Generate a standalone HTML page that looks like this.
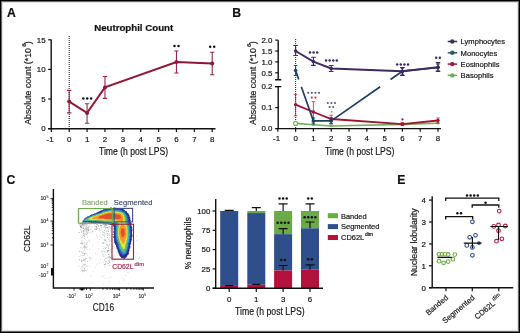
<!DOCTYPE html>
<html><head><meta charset="utf-8"><style>
html,body{margin:0;padding:0;background:#fff;}
svg{display:block;font-family:"Liberation Sans", sans-serif;will-change:transform;}
.t text,.tt{fill:#151515;stroke:#151515;stroke-width:0.18;}
</style></head><body>
<svg width="520" height="333" viewBox="0 0 520 333">
<defs><filter id="bl" x="-20%" y="-20%" width="140%" height="140%" color-interpolation-filters="sRGB"><feGaussianBlur stdDeviation="0.3"/></filter></defs>
<rect x="0" y="0" width="520" height="333" fill="#fff"/>
<text x="7.0" y="17" font-size="12.2" text-anchor="start" fill="#111" stroke="#111" stroke-width="0.2" font-weight="bold" >A</text>
<text x="94.2" y="31.3" font-size="9.7" text-anchor="start" fill="#111" stroke="#111" stroke-width="0.2" font-weight="bold" textLength="79" lengthAdjust="spacingAndGlyphs" >Neutrophil Count</text>
<path d="M51.2 39.6 V128.8 M48 128.8 H215.5" stroke="#111" stroke-width="1.4" fill="none"/>
<path d="M48.2 39.80 H51.2" stroke="#111" stroke-width="1.2"/>
<text x="45.6" y="42.65" font-size="7.9" text-anchor="end" fill="#151515" stroke="#151515" stroke-width="0.2" font-weight="normal" >15</text>
<path d="M48.2 69.40 H51.2" stroke="#111" stroke-width="1.2"/>
<text x="45.6" y="72.24999999999999" font-size="7.9" text-anchor="end" fill="#151515" stroke="#151515" stroke-width="0.2" font-weight="normal" >10</text>
<path d="M48.2 99.00 H51.2" stroke="#111" stroke-width="1.2"/>
<text x="45.6" y="101.85" font-size="7.9" text-anchor="end" fill="#151515" stroke="#151515" stroke-width="0.2" font-weight="normal" >5</text>
<path d="M48.2 128.60 H51.2" stroke="#111" stroke-width="1.2"/>
<text x="45.6" y="131.45" font-size="7.9" text-anchor="end" fill="#151515" stroke="#151515" stroke-width="0.2" font-weight="normal" >0</text>
<path d="M51.33 128.8 V132" stroke="#111" stroke-width="1.2"/>
<text x="50.125" y="141.6" font-size="7.9" text-anchor="middle" fill="#151515" stroke="#151515" stroke-width="0.2" font-weight="normal" >-1</text>
<path d="M69.20 128.8 V132" stroke="#111" stroke-width="1.2"/>
<text x="69.2" y="141.6" font-size="7.9" text-anchor="middle" fill="#151515" stroke="#151515" stroke-width="0.2" font-weight="normal" >0</text>
<path d="M87.08 128.8 V132" stroke="#111" stroke-width="1.2"/>
<text x="87.075" y="141.6" font-size="7.9" text-anchor="middle" fill="#151515" stroke="#151515" stroke-width="0.2" font-weight="normal" >1</text>
<path d="M104.95 128.8 V132" stroke="#111" stroke-width="1.2"/>
<text x="104.95" y="141.6" font-size="7.9" text-anchor="middle" fill="#151515" stroke="#151515" stroke-width="0.2" font-weight="normal" >2</text>
<path d="M122.83 128.8 V132" stroke="#111" stroke-width="1.2"/>
<text x="122.825" y="141.6" font-size="7.9" text-anchor="middle" fill="#151515" stroke="#151515" stroke-width="0.2" font-weight="normal" >3</text>
<path d="M140.70 128.8 V132" stroke="#111" stroke-width="1.2"/>
<text x="140.7" y="141.6" font-size="7.9" text-anchor="middle" fill="#151515" stroke="#151515" stroke-width="0.2" font-weight="normal" >4</text>
<path d="M158.57 128.8 V132" stroke="#111" stroke-width="1.2"/>
<text x="158.575" y="141.6" font-size="7.9" text-anchor="middle" fill="#151515" stroke="#151515" stroke-width="0.2" font-weight="normal" >5</text>
<path d="M176.45 128.8 V132" stroke="#111" stroke-width="1.2"/>
<text x="176.45" y="141.6" font-size="7.9" text-anchor="middle" fill="#151515" stroke="#151515" stroke-width="0.2" font-weight="normal" >6</text>
<path d="M194.32 128.8 V132" stroke="#111" stroke-width="1.2"/>
<text x="194.325" y="141.6" font-size="7.9" text-anchor="middle" fill="#151515" stroke="#151515" stroke-width="0.2" font-weight="normal" >7</text>
<path d="M212.20 128.8 V132" stroke="#111" stroke-width="1.2"/>
<text x="212.2" y="141.6" font-size="7.9" text-anchor="middle" fill="#151515" stroke="#151515" stroke-width="0.2" font-weight="normal" >8</text>
<text x="99" y="155.2" font-size="10.2" text-anchor="start" fill="#151515" stroke="#151515" stroke-width="0.18" font-weight="normal" textLength="69" lengthAdjust="spacingAndGlyphs" >Time (h post LPS)</text>
<g class="t"><text transform="translate(30.8 124.8) rotate(-90)" font-size="9.3" textLength="76.8" lengthAdjust="spacingAndGlyphs">Absolute count (*10</text>
<text transform="translate(26.1 46.8) rotate(-90)" font-size="6.2">6</text>
<text transform="translate(30.8 44.2) rotate(-90)" font-size="9.3">)</text></g>
<path d="M69.2 36 V128" stroke="#222" stroke-width="1.1" stroke-dasharray="1 1"/>
<polyline points="69.20,101.60 87.08,112.91 104.95,87.40 176.45,62.00 212.20,63.48" fill="none" stroke="#8e1838" stroke-width="1.9"/>
<path d="M69.20 90.36 V112.85 M67.00 90.36 H71.40 M67.00 112.85 H71.40" stroke="#98284a" stroke-width="1.1"/>
<circle cx="69.20" cy="101.60" r="2.0" fill="#8e1838"/>
<path d="M87.08 103.74 V123.27 M84.88 103.74 H89.28 M84.88 123.27 H89.28" stroke="#98284a" stroke-width="1.1"/>
<circle cx="87.08" cy="112.91" r="2.0" fill="#8e1838"/>
<path d="M104.95 76.44 V98.35 M102.75 76.44 H107.15 M102.75 98.35 H107.15" stroke="#98284a" stroke-width="1.1"/>
<circle cx="104.95" cy="87.40" r="2.0" fill="#8e1838"/>
<path d="M176.45 51.05 V72.95 M174.25 51.05 H178.65 M174.25 72.95 H178.65" stroke="#98284a" stroke-width="1.1"/>
<circle cx="176.45" cy="62.00" r="2.0" fill="#8e1838"/>
<path d="M212.20 52.23 V74.73 M210.00 52.23 H214.40 M210.00 74.73 H214.40" stroke="#98284a" stroke-width="1.1"/>
<circle cx="212.20" cy="63.48" r="2.0" fill="#8e1838"/>
<circle cx="83.30" cy="98.40" r="1.25" fill="#111"/><circle cx="87.20" cy="98.40" r="1.25" fill="#111"/><circle cx="91.10" cy="98.40" r="1.25" fill="#111"/>
<circle cx="174.50" cy="45.90" r="1.25" fill="#111"/><circle cx="178.50" cy="45.90" r="1.25" fill="#111"/>
<circle cx="210.20" cy="46.80" r="1.25" fill="#111"/><circle cx="214.20" cy="46.80" r="1.25" fill="#111"/>
<text x="232.2" y="17.3" font-size="12.2" text-anchor="start" fill="#111" stroke="#111" stroke-width="0.2" font-weight="bold" >B</text>
<path d="M278.2 40.2 V79.7 M275 79.7 H281.3 M275 86.6 H281.3 M278.2 86.6 V128.6 M275.5 128.6 H441" stroke="#111" stroke-width="1.4" fill="none"/>
<path d="M275.2 40.10 H278.2" stroke="#111" stroke-width="1.2"/>
<text x="272.4" y="42.95" font-size="7.9" text-anchor="end" fill="#151515" stroke="#151515" stroke-width="0.2" font-weight="normal" >2.0</text>
<path d="M275.2 51.00 H278.2" stroke="#111" stroke-width="1.2"/>
<text x="272.4" y="53.85" font-size="7.9" text-anchor="end" fill="#151515" stroke="#151515" stroke-width="0.2" font-weight="normal" >1.5</text>
<path d="M275.2 61.90 H278.2" stroke="#111" stroke-width="1.2"/>
<text x="272.4" y="64.75" font-size="7.9" text-anchor="end" fill="#151515" stroke="#151515" stroke-width="0.2" font-weight="normal" >1.0</text>
<path d="M275.2 72.80 H278.2" stroke="#111" stroke-width="1.2"/>
<text x="272.4" y="75.64999999999999" font-size="7.9" text-anchor="end" fill="#151515" stroke="#151515" stroke-width="0.2" font-weight="normal" >0.5</text>
<path d="M275.2 86.60 H278.2" stroke="#111" stroke-width="1.2"/>
<text x="272.4" y="89.44999999999999" font-size="7.9" text-anchor="end" fill="#151515" stroke="#151515" stroke-width="0.2" font-weight="normal" >0.2</text>
<path d="M275.2 107.60 H278.2" stroke="#111" stroke-width="1.2"/>
<text x="272.4" y="110.44999999999999" font-size="7.9" text-anchor="end" fill="#151515" stroke="#151515" stroke-width="0.2" font-weight="normal" >0.1</text>
<path d="M275.2 128.60 H278.2" stroke="#111" stroke-width="1.2"/>
<text x="272.4" y="131.45" font-size="7.9" text-anchor="end" fill="#151515" stroke="#151515" stroke-width="0.2" font-weight="normal" >0.0</text>
<path d="M277.80 128.6 V131.8" stroke="#111" stroke-width="1.2"/>
<text x="276.6" y="141.4" font-size="7.9" text-anchor="middle" fill="#151515" stroke="#151515" stroke-width="0.2" font-weight="normal" >-1</text>
<path d="M295.60 128.6 V131.8" stroke="#111" stroke-width="1.2"/>
<text x="295.6" y="141.4" font-size="7.9" text-anchor="middle" fill="#151515" stroke="#151515" stroke-width="0.2" font-weight="normal" >0</text>
<path d="M313.40 128.6 V131.8" stroke="#111" stroke-width="1.2"/>
<text x="313.40000000000003" y="141.4" font-size="7.9" text-anchor="middle" fill="#151515" stroke="#151515" stroke-width="0.2" font-weight="normal" >1</text>
<path d="M331.20 128.6 V131.8" stroke="#111" stroke-width="1.2"/>
<text x="331.20000000000005" y="141.4" font-size="7.9" text-anchor="middle" fill="#151515" stroke="#151515" stroke-width="0.2" font-weight="normal" >2</text>
<path d="M349.00 128.6 V131.8" stroke="#111" stroke-width="1.2"/>
<text x="349.0" y="141.4" font-size="7.9" text-anchor="middle" fill="#151515" stroke="#151515" stroke-width="0.2" font-weight="normal" >3</text>
<path d="M366.80 128.6 V131.8" stroke="#111" stroke-width="1.2"/>
<text x="366.8" y="141.4" font-size="7.9" text-anchor="middle" fill="#151515" stroke="#151515" stroke-width="0.2" font-weight="normal" >4</text>
<path d="M384.60 128.6 V131.8" stroke="#111" stroke-width="1.2"/>
<text x="384.6" y="141.4" font-size="7.9" text-anchor="middle" fill="#151515" stroke="#151515" stroke-width="0.2" font-weight="normal" >5</text>
<path d="M402.40 128.6 V131.8" stroke="#111" stroke-width="1.2"/>
<text x="402.40000000000003" y="141.4" font-size="7.9" text-anchor="middle" fill="#151515" stroke="#151515" stroke-width="0.2" font-weight="normal" >6</text>
<path d="M420.20 128.6 V131.8" stroke="#111" stroke-width="1.2"/>
<text x="420.20000000000005" y="141.4" font-size="7.9" text-anchor="middle" fill="#151515" stroke="#151515" stroke-width="0.2" font-weight="normal" >7</text>
<path d="M438.00 128.6 V131.8" stroke="#111" stroke-width="1.2"/>
<text x="438.0" y="141.4" font-size="7.9" text-anchor="middle" fill="#151515" stroke="#151515" stroke-width="0.2" font-weight="normal" >8</text>
<text x="325" y="154.6" font-size="10.2" text-anchor="start" fill="#151515" stroke="#151515" stroke-width="0.18" font-weight="normal" textLength="69.5" lengthAdjust="spacingAndGlyphs" >Time (h post LPS)</text>
<g class="t"><text transform="translate(255.5 124.9) rotate(-90)" font-size="9.3" textLength="76.8" lengthAdjust="spacingAndGlyphs">Absolute count (*10</text>
<text transform="translate(250.8 46.9) rotate(-90)" font-size="6.2">6</text>
<text transform="translate(255.5 44.3) rotate(-90)" font-size="9.3">)</text></g>
<path d="M295.6 39 V128" stroke="#333" stroke-width="1.1" stroke-dasharray="1 1"/>
<polyline points="295.60,123.4 313.40,124.8 331.20,126 402.40,124.4 438.00,123.2" fill="none" stroke="#72b25a" stroke-width="1.6"/>
<circle cx="295.60" cy="123.4" r="2.0" fill="#fff" stroke="#72b25a" stroke-width="1.1"/>
<circle cx="313.40" cy="124.8" r="1.3" fill="#72b25a"/>
<circle cx="331.20" cy="126" r="1.3" fill="#72b25a"/>
<circle cx="402.40" cy="124.4" r="1.3" fill="#72b25a"/>
<circle cx="438.00" cy="123.2" r="1.3" fill="#72b25a"/>
<polyline points="295.60,104.7 313.40,112 331.20,119.0 402.40,124.2 438.00,120.5" fill="none" stroke="#9e1538" stroke-width="1.8"/>
<path d="M295.60 94.3 V115.8 M293.80 94.3 H297.40 M293.80 115.8 H297.40" stroke="#9e1538" stroke-width="0.9" opacity="0.8"/>
<circle cx="295.60" cy="104.7" r="1.7" fill="#9e1538"/>
<path d="M313.40 101.6 V122 M311.60 101.6 H315.20 M311.60 122 H315.20" stroke="#9e1538" stroke-width="0.9" opacity="0.8"/>
<circle cx="313.40" cy="112" r="1.7" fill="#9e1538"/>
<path d="M331.20 115.2 V123.5 M329.40 115.2 H333.00 M329.40 123.5 H333.00" stroke="#9e1538" stroke-width="0.9" opacity="0.8"/>
<circle cx="331.20" cy="119.0" r="1.7" fill="#9e1538"/>
<path d="M402.40 122.5 V125.5 M400.60 122.5 H404.20 M400.60 125.5 H404.20" stroke="#9e1538" stroke-width="0.9" opacity="0.8"/>
<circle cx="402.40" cy="124.2" r="1.7" fill="#9e1538"/>
<path d="M438.00 118 V123 M436.20 118 H439.80 M436.20 123 H439.80" stroke="#9e1538" stroke-width="0.9" opacity="0.8"/>
<circle cx="438.00" cy="120.5" r="1.7" fill="#9e1538"/>
<path d="M295.60 70.5 L298.78 79.5 M301.32 86.7 L313.40 120.9 M313.40 120.9 L331.20 120.9 M331.20 120.9 L380.19 86.7 M390.51 79.5 L402.40 71.2 M402.40 71.2 L438.00 67.5" fill="none" stroke="#233f62" stroke-width="1.7"/>
<path d="M295.60 65.5 V75.5 M293.80 65.5 H297.40 M293.80 75.5 H297.40" stroke="#233f62" stroke-width="1"/>
<circle cx="295.60" cy="70.5" r="1.8" fill="#233f62"/>
<path d="M313.40 117.9 V123.9 M311.60 117.9 H315.20 M311.60 123.9 H315.20" stroke="#233f62" stroke-width="1"/>
<circle cx="313.40" cy="120.9" r="1.8" fill="#233f62"/>
<path d="M331.20 117.9 V123.9 M329.40 117.9 H333.00 M329.40 123.9 H333.00" stroke="#233f62" stroke-width="1"/>
<circle cx="331.20" cy="120.9" r="1.8" fill="#233f62"/>
<path d="M402.40 68.2 V74.2 M400.60 68.2 H404.20 M400.60 74.2 H404.20" stroke="#233f62" stroke-width="1"/>
<circle cx="402.40" cy="71.2" r="1.8" fill="#233f62"/>
<path d="M438.00 64.0 V71.0 M436.20 64.0 H439.80 M436.20 71.0 H439.80" stroke="#233f62" stroke-width="1"/>
<circle cx="438.00" cy="67.5" r="1.8" fill="#233f62"/>
<polyline points="295.60,51 313.40,61.6 331.20,68.5 402.40,71.2 438.00,67.3" fill="none" stroke="#3f2a5e" stroke-width="1.9"/>
<path d="M295.60 45.5 V55.5 M293.30 45.5 H297.90 M293.30 55.5 H297.90" stroke="#3f2a5e" stroke-width="1.1"/>
<circle cx="295.60" cy="51" r="1.8" fill="#3f2a5e"/>
<path d="M313.40 57.3 V65.4 M311.10 57.3 H315.70 M311.10 65.4 H315.70" stroke="#3f2a5e" stroke-width="1.1"/>
<circle cx="313.40" cy="61.6" r="1.8" fill="#3f2a5e"/>
<path d="M331.20 65.5 V71.5 M328.90 65.5 H333.50 M328.90 71.5 H333.50" stroke="#3f2a5e" stroke-width="1.1"/>
<circle cx="331.20" cy="68.5" r="1.8" fill="#3f2a5e"/>
<path d="M402.40 67.5 V75.5 M400.10 67.5 H404.70 M400.10 75.5 H404.70" stroke="#3f2a5e" stroke-width="1.1"/>
<circle cx="402.40" cy="71.2" r="1.8" fill="#3f2a5e"/>
<path d="M438.00 62.6 V71.4 M435.70 62.6 H440.30 M435.70 71.4 H440.30" stroke="#3f2a5e" stroke-width="1.1"/>
<circle cx="438.00" cy="67.3" r="1.8" fill="#3f2a5e"/>
<circle cx="310.00" cy="52.40" r="1.25" fill="#3f2a5e"/><circle cx="313.60" cy="52.40" r="1.25" fill="#3f2a5e"/><circle cx="317.20" cy="52.40" r="1.25" fill="#3f2a5e"/>
<circle cx="326.00" cy="60.40" r="1.25" fill="#3f2a5e"/><circle cx="329.60" cy="60.40" r="1.25" fill="#3f2a5e"/><circle cx="333.20" cy="60.40" r="1.25" fill="#3f2a5e"/><circle cx="336.80" cy="60.40" r="1.25" fill="#3f2a5e"/>
<circle cx="397.20" cy="64.40" r="1.25" fill="#3f2a5e"/><circle cx="400.80" cy="64.40" r="1.25" fill="#3f2a5e"/><circle cx="404.40" cy="64.40" r="1.25" fill="#3f2a5e"/><circle cx="408.00" cy="64.40" r="1.25" fill="#3f2a5e"/>
<circle cx="436.20" cy="57.70" r="1.25" fill="#3f2a5e"/><circle cx="439.80" cy="57.70" r="1.25" fill="#3f2a5e"/>
<circle cx="308.20" cy="92.80" r="1.1" fill="#4f6385"/><circle cx="311.80" cy="92.80" r="1.1" fill="#4f6385"/><circle cx="315.40" cy="92.80" r="1.1" fill="#4f6385"/><circle cx="319.00" cy="92.80" r="1.1" fill="#4f6385"/>
<circle cx="311.80" cy="97.60" r="1.1" fill="#b83a5a"/><circle cx="315.40" cy="97.60" r="1.1" fill="#b83a5a"/>
<circle cx="327.80" cy="103.00" r="1.1" fill="#4f6385"/><circle cx="331.40" cy="103.00" r="1.1" fill="#4f6385"/><circle cx="335.00" cy="103.00" r="1.1" fill="#4f6385"/>
<circle cx="329.60" cy="107.00" r="1.1" fill="#4f6385"/><circle cx="333.20" cy="107.00" r="1.1" fill="#4f6385"/>
<circle cx="331.60" cy="111.80" r="1.0" fill="#8aa080"/>
<circle cx="402.50" cy="119.40" r="1.05" fill="#9e1538"/>
<path d="M447.7 41.50 H457.2" stroke="#3d2f4f" stroke-width="1.5"/><circle cx="452.3" cy="41.50" r="2.2" fill="#3d2f4f"/>
<text x="460.6" y="44.3" font-size="7.6" text-anchor="start" fill="#151515" stroke="#151515" stroke-width="0.2" font-weight="normal" >Lymphocytes</text>
<path d="M447.7 52.80 H457.2" stroke="#2d5a6c" stroke-width="1.5"/><circle cx="452.3" cy="52.80" r="2.2" fill="#2d5a6c"/>
<text x="460.6" y="55.599999999999994" font-size="7.6" text-anchor="start" fill="#151515" stroke="#151515" stroke-width="0.2" font-weight="normal" >Monocytes</text>
<path d="M447.7 64.10 H457.2" stroke="#9a1a3a" stroke-width="1.5"/><circle cx="452.3" cy="64.10" r="2.2" fill="#9a1a3a"/>
<text x="460.6" y="66.89999999999999" font-size="7.6" text-anchor="start" fill="#151515" stroke="#151515" stroke-width="0.2" font-weight="normal" >Eosinophils</text>
<path d="M447.7 75.40 H457.2" stroke="#6aaa58" stroke-width="1.5"/><circle cx="452.3" cy="75.40" r="2.2" fill="#6aaa58"/>
<text x="460.6" y="78.2" font-size="7.6" text-anchor="start" fill="#151515" stroke="#151515" stroke-width="0.2" font-weight="normal" >Basophils</text>
<text x="6.6" y="183.9" font-size="12.2" text-anchor="start" fill="#111" stroke="#111" stroke-width="0.2" font-weight="bold" >C</text>
<circle cx="85.9" cy="225.6" r="0.42" fill="#222" opacity="0.5"/>
<circle cx="86.6" cy="240.3" r="0.42" fill="#222" opacity="0.4"/>
<circle cx="96.7" cy="227.7" r="0.42" fill="#222" opacity="0.5"/>
<circle cx="83.0" cy="223.7" r="0.42" fill="#222" opacity="0.5"/>
<circle cx="84.5" cy="233.2" r="0.42" fill="#222" opacity="0.4"/>
<circle cx="105.5" cy="263.7" r="0.42" fill="#222" opacity="0.4"/>
<circle cx="79.2" cy="224.3" r="0.42" fill="#222" opacity="0.5"/>
<circle cx="112.3" cy="234.7" r="0.42" fill="#222" opacity="0.4"/>
<circle cx="83.9" cy="225.8" r="0.42" fill="#222" opacity="0.5"/>
<circle cx="99.2" cy="231.1" r="0.42" fill="#222" opacity="0.5"/>
<circle cx="104.2" cy="224.8" r="0.42" fill="#222" opacity="0.5"/>
<circle cx="86.8" cy="227.0" r="0.42" fill="#222" opacity="0.5"/>
<circle cx="104.5" cy="247.8" r="0.42" fill="#222" opacity="0.4"/>
<circle cx="84.8" cy="237.0" r="0.42" fill="#222" opacity="0.4"/>
<circle cx="106.2" cy="247.3" r="0.42" fill="#222" opacity="0.4"/>
<circle cx="82.4" cy="265.8" r="0.42" fill="#222" opacity="0.4"/>
<circle cx="104.9" cy="227.2" r="0.42" fill="#222" opacity="0.5"/>
<circle cx="90.0" cy="259.9" r="0.42" fill="#222" opacity="0.4"/>
<circle cx="96.1" cy="229.7" r="0.42" fill="#222" opacity="0.5"/>
<circle cx="108.2" cy="247.2" r="0.42" fill="#222" opacity="0.4"/>
<circle cx="105.1" cy="248.2" r="0.42" fill="#222" opacity="0.4"/>
<circle cx="87.1" cy="244.8" r="0.42" fill="#222" opacity="0.4"/>
<circle cx="110.4" cy="251.2" r="0.42" fill="#222" opacity="0.4"/>
<circle cx="103.1" cy="224.4" r="0.42" fill="#222" opacity="0.5"/>
<circle cx="112.9" cy="234.5" r="0.42" fill="#222" opacity="0.4"/>
<circle cx="83.8" cy="255.4" r="0.42" fill="#222" opacity="0.4"/>
<circle cx="95.2" cy="223.7" r="0.42" fill="#222" opacity="0.5"/>
<circle cx="105.4" cy="224.7" r="0.42" fill="#222" opacity="0.5"/>
<circle cx="88.2" cy="230.3" r="0.42" fill="#222" opacity="0.5"/>
<circle cx="94.8" cy="228.9" r="0.42" fill="#222" opacity="0.5"/>
<circle cx="87.0" cy="265.2" r="0.42" fill="#222" opacity="0.4"/>
<circle cx="81.3" cy="242.8" r="0.42" fill="#222" opacity="0.4"/>
<circle cx="88.1" cy="229.5" r="0.42" fill="#222" opacity="0.5"/>
<circle cx="87.7" cy="230.9" r="0.42" fill="#222" opacity="0.5"/>
<circle cx="81.1" cy="235.1" r="0.42" fill="#222" opacity="0.4"/>
<circle cx="93.8" cy="223.1" r="0.42" fill="#222" opacity="0.5"/>
<circle cx="79.0" cy="256.5" r="0.42" fill="#222" opacity="0.4"/>
<circle cx="81.8" cy="252.9" r="0.42" fill="#222" opacity="0.4"/>
<circle cx="113.5" cy="256.3" r="0.42" fill="#222" opacity="0.4"/>
<circle cx="109.3" cy="257.1" r="0.42" fill="#222" opacity="0.4"/>
<circle cx="83.2" cy="253.7" r="0.42" fill="#222" opacity="0.4"/>
<circle cx="82.2" cy="223.9" r="0.42" fill="#222" opacity="0.5"/>
<circle cx="85.4" cy="223.4" r="0.42" fill="#222" opacity="0.5"/>
<circle cx="85.0" cy="223.9" r="0.42" fill="#222" opacity="0.5"/>
<circle cx="92.0" cy="232.6" r="0.42" fill="#222" opacity="0.4"/>
<circle cx="108.0" cy="228.5" r="0.42" fill="#222" opacity="0.5"/>
<circle cx="82.8" cy="228.1" r="0.42" fill="#222" opacity="0.5"/>
<circle cx="109.5" cy="265.7" r="0.42" fill="#222" opacity="0.4"/>
<circle cx="83.1" cy="227.1" r="0.42" fill="#222" opacity="0.5"/>
<circle cx="84.1" cy="235.2" r="0.42" fill="#222" opacity="0.4"/>
<circle cx="107.4" cy="263.8" r="0.42" fill="#222" opacity="0.4"/>
<circle cx="84.4" cy="229.3" r="0.42" fill="#222" opacity="0.5"/>
<circle cx="86.7" cy="270.9" r="0.42" fill="#222" opacity="0.4"/>
<circle cx="107.7" cy="252.6" r="0.42" fill="#222" opacity="0.4"/>
<circle cx="83.1" cy="260.6" r="0.42" fill="#222" opacity="0.4"/>
<circle cx="85.0" cy="261.0" r="0.42" fill="#222" opacity="0.4"/>
<circle cx="84.7" cy="271.2" r="0.42" fill="#222" opacity="0.4"/>
<circle cx="112.8" cy="257.5" r="0.42" fill="#222" opacity="0.4"/>
<circle cx="106.9" cy="244.8" r="0.42" fill="#222" opacity="0.4"/>
<circle cx="82.4" cy="223.4" r="0.42" fill="#222" opacity="0.5"/>
<circle cx="89.2" cy="222.9" r="0.42" fill="#222" opacity="0.5"/>
<circle cx="109.6" cy="281.9" r="0.42" fill="#222" opacity="0.4"/>
<circle cx="137.5" cy="253.2" r="0.42" fill="#222" opacity="0.4"/>
<circle cx="87.4" cy="233.3" r="0.42" fill="#222" opacity="0.4"/>
<circle cx="86.7" cy="230.1" r="0.42" fill="#222" opacity="0.5"/>
<circle cx="102.2" cy="243.1" r="0.42" fill="#222" opacity="0.4"/>
<circle cx="107.4" cy="251.1" r="0.42" fill="#222" opacity="0.4"/>
<circle cx="128.0" cy="272.5" r="0.42" fill="#222" opacity="0.4"/>
<circle cx="83.1" cy="230.9" r="0.42" fill="#222" opacity="0.5"/>
<circle cx="104.2" cy="264.8" r="0.42" fill="#222" opacity="0.4"/>
<circle cx="87.4" cy="242.1" r="0.42" fill="#222" opacity="0.4"/>
<circle cx="124.9" cy="243.5" r="0.42" fill="#222" opacity="0.4"/>
<circle cx="85.0" cy="230.0" r="0.42" fill="#222" opacity="0.5"/>
<circle cx="107.3" cy="227.6" r="0.42" fill="#222" opacity="0.5"/>
<circle cx="121.1" cy="252.5" r="0.42" fill="#222" opacity="0.4"/>
<circle cx="84.3" cy="270.5" r="0.42" fill="#222" opacity="0.4"/>
<circle cx="107.4" cy="245.2" r="0.42" fill="#222" opacity="0.4"/>
<circle cx="108.9" cy="278.6" r="0.42" fill="#222" opacity="0.4"/>
<circle cx="107.6" cy="234.9" r="0.42" fill="#222" opacity="0.4"/>
<circle cx="85.6" cy="251.3" r="0.42" fill="#222" opacity="0.4"/>
<circle cx="83.0" cy="267.5" r="0.42" fill="#222" opacity="0.4"/>
<circle cx="84.6" cy="244.9" r="0.42" fill="#222" opacity="0.4"/>
<circle cx="109.8" cy="262.4" r="0.42" fill="#222" opacity="0.4"/>
<circle cx="82.7" cy="248.6" r="0.42" fill="#222" opacity="0.4"/>
<circle cx="86.4" cy="231.2" r="0.42" fill="#222" opacity="0.5"/>
<circle cx="106.4" cy="223.1" r="0.42" fill="#222" opacity="0.5"/>
<circle cx="95.6" cy="223.5" r="0.42" fill="#222" opacity="0.5"/>
<circle cx="81.2" cy="247.9" r="0.42" fill="#222" opacity="0.4"/>
<circle cx="84.2" cy="250.0" r="0.42" fill="#222" opacity="0.4"/>
<circle cx="83.0" cy="235.8" r="0.42" fill="#222" opacity="0.4"/>
<circle cx="102.9" cy="255.4" r="0.42" fill="#222" opacity="0.4"/>
<circle cx="109.4" cy="265.6" r="0.42" fill="#222" opacity="0.4"/>
<circle cx="83.9" cy="247.6" r="0.42" fill="#222" opacity="0.4"/>
<circle cx="103.2" cy="243.0" r="0.42" fill="#222" opacity="0.4"/>
<circle cx="123.5" cy="278.8" r="0.42" fill="#222" opacity="0.4"/>
<circle cx="99.3" cy="263.0" r="0.42" fill="#222" opacity="0.4"/>
<circle cx="131.2" cy="241.9" r="0.42" fill="#222" opacity="0.4"/>
<circle cx="94.6" cy="224.3" r="0.42" fill="#222" opacity="0.5"/>
<circle cx="87.9" cy="229.2" r="0.42" fill="#222" opacity="0.5"/>
<circle cx="109.1" cy="261.5" r="0.42" fill="#222" opacity="0.4"/>
<circle cx="103.6" cy="224.0" r="0.42" fill="#222" opacity="0.5"/>
<circle cx="105.5" cy="264.6" r="0.42" fill="#222" opacity="0.4"/>
<circle cx="111.4" cy="227.1" r="0.42" fill="#222" opacity="0.5"/>
<circle cx="130.8" cy="243.1" r="0.42" fill="#222" opacity="0.4"/>
<circle cx="85.5" cy="247.8" r="0.42" fill="#222" opacity="0.4"/>
<circle cx="84.6" cy="258.1" r="0.42" fill="#222" opacity="0.4"/>
<circle cx="98.3" cy="226.6" r="0.42" fill="#222" opacity="0.5"/>
<circle cx="86.0" cy="253.2" r="0.42" fill="#222" opacity="0.4"/>
<circle cx="84.2" cy="225.2" r="0.42" fill="#222" opacity="0.5"/>
<circle cx="128.4" cy="283.6" r="0.42" fill="#222" opacity="0.4"/>
<circle cx="88.8" cy="230.9" r="0.42" fill="#222" opacity="0.5"/>
<circle cx="84.9" cy="228.5" r="0.42" fill="#222" opacity="0.5"/>
<circle cx="87.5" cy="234.9" r="0.42" fill="#222" opacity="0.4"/>
<circle cx="110.3" cy="227.4" r="0.42" fill="#222" opacity="0.5"/>
<circle cx="83.7" cy="224.9" r="0.42" fill="#222" opacity="0.5"/>
<circle cx="105.7" cy="240.7" r="0.42" fill="#222" opacity="0.4"/>
<circle cx="111.0" cy="228.5" r="0.42" fill="#222" opacity="0.5"/>
<circle cx="108.3" cy="229.2" r="0.42" fill="#222" opacity="0.5"/>
<circle cx="108.5" cy="226.9" r="0.42" fill="#222" opacity="0.5"/>
<circle cx="84.6" cy="268.3" r="0.42" fill="#222" opacity="0.4"/>
<circle cx="85.9" cy="233.9" r="0.42" fill="#222" opacity="0.4"/>
<circle cx="85.3" cy="226.9" r="0.42" fill="#222" opacity="0.5"/>
<circle cx="86.7" cy="224.1" r="0.42" fill="#222" opacity="0.5"/>
<circle cx="109.5" cy="234.8" r="0.42" fill="#222" opacity="0.4"/>
<circle cx="84.9" cy="222.9" r="0.42" fill="#222" opacity="0.5"/>
<circle cx="85.8" cy="222.8" r="0.42" fill="#222" opacity="0.5"/>
<circle cx="105.0" cy="242.9" r="0.42" fill="#222" opacity="0.4"/>
<circle cx="90.8" cy="275.9" r="0.42" fill="#222" opacity="0.4"/>
<circle cx="83.6" cy="246.8" r="0.42" fill="#222" opacity="0.4"/>
<circle cx="104.0" cy="252.3" r="0.42" fill="#222" opacity="0.4"/>
<circle cx="103.8" cy="276.6" r="0.42" fill="#222" opacity="0.4"/>
<circle cx="109.4" cy="250.0" r="0.42" fill="#222" opacity="0.4"/>
<circle cx="83.6" cy="228.5" r="0.42" fill="#222" opacity="0.5"/>
<circle cx="104.4" cy="223.9" r="0.42" fill="#222" opacity="0.5"/>
<circle cx="84.5" cy="264.1" r="0.42" fill="#222" opacity="0.4"/>
<circle cx="108.1" cy="251.5" r="0.42" fill="#222" opacity="0.4"/>
<circle cx="84.1" cy="245.0" r="0.42" fill="#222" opacity="0.4"/>
<circle cx="94.7" cy="226.7" r="0.42" fill="#222" opacity="0.5"/>
<circle cx="89.7" cy="249.4" r="0.42" fill="#222" opacity="0.4"/>
<circle cx="82.6" cy="270.3" r="0.42" fill="#222" opacity="0.4"/>
<circle cx="83.9" cy="241.1" r="0.42" fill="#222" opacity="0.4"/>
<circle cx="84.1" cy="247.1" r="0.42" fill="#222" opacity="0.4"/>
<circle cx="96.7" cy="226.4" r="0.42" fill="#222" opacity="0.5"/>
<circle cx="93.2" cy="222.6" r="0.42" fill="#222" opacity="0.5"/>
<circle cx="80.7" cy="223.7" r="0.42" fill="#222" opacity="0.5"/>
<circle cx="109.2" cy="245.3" r="0.42" fill="#222" opacity="0.4"/>
<circle cx="104.2" cy="260.7" r="0.42" fill="#222" opacity="0.4"/>
<circle cx="81.1" cy="238.3" r="0.42" fill="#222" opacity="0.4"/>
<circle cx="93.2" cy="271.2" r="0.42" fill="#222" opacity="0.4"/>
<circle cx="112.8" cy="261.2" r="0.42" fill="#222" opacity="0.4"/>
<circle cx="108.7" cy="254.3" r="0.42" fill="#222" opacity="0.4"/>
<circle cx="109.5" cy="244.2" r="0.42" fill="#222" opacity="0.4"/>
<circle cx="110.0" cy="257.4" r="0.42" fill="#222" opacity="0.4"/>
<circle cx="101.2" cy="252.0" r="0.42" fill="#222" opacity="0.4"/>
<circle cx="103.6" cy="232.1" r="0.42" fill="#222" opacity="0.4"/>
<circle cx="84.4" cy="224.0" r="0.42" fill="#222" opacity="0.5"/>
<circle cx="108.2" cy="246.6" r="0.42" fill="#222" opacity="0.4"/>
<circle cx="103.6" cy="243.5" r="0.42" fill="#222" opacity="0.4"/>
<circle cx="106.3" cy="227.9" r="0.42" fill="#222" opacity="0.5"/>
<circle cx="103.0" cy="251.0" r="0.42" fill="#222" opacity="0.4"/>
<circle cx="104.3" cy="222.6" r="0.42" fill="#222" opacity="0.5"/>
<circle cx="85.5" cy="258.5" r="0.42" fill="#222" opacity="0.4"/>
<circle cx="104.4" cy="224.3" r="0.42" fill="#222" opacity="0.5"/>
<circle cx="112.2" cy="254.1" r="0.42" fill="#222" opacity="0.4"/>
<circle cx="82.5" cy="252.8" r="0.42" fill="#222" opacity="0.4"/>
<circle cx="102.0" cy="225.4" r="0.42" fill="#222" opacity="0.5"/>
<circle cx="88.4" cy="222.7" r="0.42" fill="#222" opacity="0.5"/>
<circle cx="82.1" cy="222.6" r="0.42" fill="#222" opacity="0.5"/>
<circle cx="88.9" cy="226.1" r="0.42" fill="#222" opacity="0.5"/>
<circle cx="102.7" cy="234.8" r="0.42" fill="#222" opacity="0.4"/>
<circle cx="81.6" cy="227.9" r="0.42" fill="#222" opacity="0.5"/>
<circle cx="107.8" cy="230.8" r="0.42" fill="#222" opacity="0.5"/>
<circle cx="136.5" cy="235.9" r="0.42" fill="#222" opacity="0.4"/>
<circle cx="86.5" cy="244.5" r="0.42" fill="#222" opacity="0.4"/>
<circle cx="78.8" cy="232.5" r="0.42" fill="#222" opacity="0.4"/>
<circle cx="96.6" cy="264.1" r="0.42" fill="#222" opacity="0.4"/>
<circle cx="97.3" cy="225.1" r="0.42" fill="#222" opacity="0.5"/>
<circle cx="106.5" cy="244.4" r="0.42" fill="#222" opacity="0.4"/>
<circle cx="106.3" cy="261.5" r="0.42" fill="#222" opacity="0.4"/>
<circle cx="82.5" cy="223.2" r="0.42" fill="#222" opacity="0.5"/>
<circle cx="96.2" cy="226.5" r="0.42" fill="#222" opacity="0.5"/>
<circle cx="91.4" cy="223.8" r="0.42" fill="#222" opacity="0.5"/>
<circle cx="84.1" cy="259.5" r="0.42" fill="#222" opacity="0.4"/>
<circle cx="106.8" cy="227.3" r="0.42" fill="#222" opacity="0.5"/>
<circle cx="124.2" cy="280.1" r="0.42" fill="#222" opacity="0.4"/>
<circle cx="82.5" cy="271.9" r="0.42" fill="#222" opacity="0.4"/>
<circle cx="109.3" cy="237.9" r="0.42" fill="#222" opacity="0.4"/>
<circle cx="83.9" cy="227.1" r="0.42" fill="#222" opacity="0.5"/>
<circle cx="108.0" cy="234.6" r="0.42" fill="#222" opacity="0.4"/>
<circle cx="98.7" cy="248.3" r="0.42" fill="#222" opacity="0.4"/>
<circle cx="84.8" cy="269.8" r="0.42" fill="#222" opacity="0.4"/>
<circle cx="109.9" cy="257.7" r="0.42" fill="#222" opacity="0.4"/>
<circle cx="113.5" cy="246.2" r="0.42" fill="#222" opacity="0.4"/>
<circle cx="103.1" cy="224.2" r="0.42" fill="#222" opacity="0.5"/>
<circle cx="101.9" cy="250.4" r="0.42" fill="#222" opacity="0.4"/>
<circle cx="85.1" cy="224.4" r="0.42" fill="#222" opacity="0.5"/>
<circle cx="92.0" cy="258.6" r="0.42" fill="#222" opacity="0.4"/>
<circle cx="82.9" cy="270.8" r="0.42" fill="#222" opacity="0.4"/>
<circle cx="87.4" cy="254.8" r="0.42" fill="#222" opacity="0.4"/>
<circle cx="81.9" cy="230.4" r="0.42" fill="#222" opacity="0.5"/>
<circle cx="86.9" cy="224.3" r="0.42" fill="#222" opacity="0.5"/>
<circle cx="112.3" cy="246.0" r="0.42" fill="#222" opacity="0.4"/>
<circle cx="139.8" cy="257.5" r="0.42" fill="#222" opacity="0.4"/>
<circle cx="86.3" cy="226.4" r="0.42" fill="#222" opacity="0.5"/>
<circle cx="87.9" cy="225.0" r="0.42" fill="#222" opacity="0.5"/>
<circle cx="79.8" cy="259.5" r="0.42" fill="#222" opacity="0.4"/>
<circle cx="82.1" cy="242.7" r="0.42" fill="#222" opacity="0.4"/>
<circle cx="82.6" cy="225.1" r="0.42" fill="#222" opacity="0.5"/>
<circle cx="85.4" cy="270.4" r="0.42" fill="#222" opacity="0.4"/>
<circle cx="96.6" cy="229.3" r="0.42" fill="#222" opacity="0.5"/>
<circle cx="88.9" cy="229.7" r="0.42" fill="#222" opacity="0.5"/>
<circle cx="82.1" cy="269.7" r="0.42" fill="#222" opacity="0.4"/>
<circle cx="109.0" cy="260.4" r="0.42" fill="#222" opacity="0.4"/>
<circle cx="81.1" cy="225.2" r="0.42" fill="#222" opacity="0.5"/>
<circle cx="79.5" cy="251.4" r="0.42" fill="#222" opacity="0.4"/>
<circle cx="92.9" cy="230.9" r="0.42" fill="#222" opacity="0.5"/>
<circle cx="104.3" cy="264.8" r="0.42" fill="#222" opacity="0.4"/>
<circle cx="85.0" cy="248.1" r="0.42" fill="#222" opacity="0.4"/>
<circle cx="108.2" cy="263.4" r="0.42" fill="#222" opacity="0.4"/>
<circle cx="103.7" cy="242.1" r="0.42" fill="#222" opacity="0.4"/>
<circle cx="81.0" cy="224.0" r="0.42" fill="#222" opacity="0.5"/>
<circle cx="107.8" cy="250.4" r="0.42" fill="#222" opacity="0.4"/>
<circle cx="88.9" cy="228.4" r="0.42" fill="#222" opacity="0.5"/>
<circle cx="81.8" cy="227.6" r="0.42" fill="#222" opacity="0.5"/>
<circle cx="97.3" cy="228.3" r="0.42" fill="#222" opacity="0.5"/>
<circle cx="105.3" cy="248.4" r="0.42" fill="#222" opacity="0.4"/>
<circle cx="90.0" cy="224.8" r="0.42" fill="#222" opacity="0.5"/>
<circle cx="87.1" cy="266.2" r="0.42" fill="#222" opacity="0.4"/>
<circle cx="83.2" cy="233.7" r="0.42" fill="#222" opacity="0.4"/>
<circle cx="87.3" cy="237.4" r="0.42" fill="#222" opacity="0.4"/>
<circle cx="96.4" cy="224.4" r="0.42" fill="#222" opacity="0.5"/>
<circle cx="104.8" cy="251.4" r="0.42" fill="#222" opacity="0.4"/>
<circle cx="97.5" cy="236.7" r="0.42" fill="#222" opacity="0.4"/>
<circle cx="84.8" cy="243.0" r="0.42" fill="#222" opacity="0.4"/>
<circle cx="108.8" cy="254.5" r="0.42" fill="#222" opacity="0.4"/>
<circle cx="87.7" cy="232.3" r="0.42" fill="#222" opacity="0.4"/>
<circle cx="102.1" cy="276.0" r="0.42" fill="#222" opacity="0.4"/>
<circle cx="84.7" cy="236.7" r="0.42" fill="#222" opacity="0.4"/>
<circle cx="112.3" cy="244.4" r="0.42" fill="#222" opacity="0.4"/>
<circle cx="87.7" cy="242.9" r="0.42" fill="#222" opacity="0.4"/>
<circle cx="108.7" cy="239.3" r="0.42" fill="#222" opacity="0.4"/>
<circle cx="112.1" cy="223.4" r="0.42" fill="#222" opacity="0.5"/>
<circle cx="81.7" cy="227.1" r="0.42" fill="#222" opacity="0.5"/>
<circle cx="108.2" cy="260.9" r="0.42" fill="#222" opacity="0.4"/>
<circle cx="114.4" cy="236.5" r="0.42" fill="#222" opacity="0.4"/>
<circle cx="110.9" cy="222.7" r="0.42" fill="#222" opacity="0.5"/>
<circle cx="111.6" cy="238.7" r="0.42" fill="#222" opacity="0.4"/>
<circle cx="84.6" cy="238.6" r="0.42" fill="#222" opacity="0.4"/>
<circle cx="80.1" cy="223.4" r="0.42" fill="#222" opacity="0.5"/>
<circle cx="91.8" cy="283.2" r="0.42" fill="#222" opacity="0.4"/>
<circle cx="91.8" cy="227.1" r="0.42" fill="#222" opacity="0.5"/>
<circle cx="108.5" cy="224.2" r="0.42" fill="#222" opacity="0.5"/>
<circle cx="81.9" cy="240.6" r="0.42" fill="#222" opacity="0.4"/>
<circle cx="95.6" cy="253.2" r="0.42" fill="#222" opacity="0.4"/>
<circle cx="110.2" cy="257.7" r="0.42" fill="#222" opacity="0.4"/>
<circle cx="107.6" cy="223.8" r="0.42" fill="#222" opacity="0.5"/>
<circle cx="82.1" cy="225.9" r="0.42" fill="#222" opacity="0.5"/>
<circle cx="105.8" cy="261.5" r="0.42" fill="#222" opacity="0.4"/>
<circle cx="83.2" cy="252.8" r="0.42" fill="#222" opacity="0.4"/>
<circle cx="89.5" cy="257.8" r="0.42" fill="#222" opacity="0.4"/>
<circle cx="84.0" cy="259.8" r="0.42" fill="#222" opacity="0.4"/>
<circle cx="119.9" cy="282.2" r="0.42" fill="#222" opacity="0.4"/>
<circle cx="87.7" cy="222.9" r="0.42" fill="#222" opacity="0.5"/>
<circle cx="89.3" cy="241.3" r="0.42" fill="#222" opacity="0.4"/>
<circle cx="82.5" cy="243.5" r="0.42" fill="#222" opacity="0.4"/>
<circle cx="85.3" cy="262.1" r="0.42" fill="#222" opacity="0.4"/>
<circle cx="106.1" cy="258.2" r="0.42" fill="#222" opacity="0.4"/>
<circle cx="104.8" cy="236.1" r="0.42" fill="#222" opacity="0.4"/>
<circle cx="82.8" cy="261.1" r="0.42" fill="#222" opacity="0.4"/>
<circle cx="86.5" cy="222.6" r="0.42" fill="#222" opacity="0.5"/>
<circle cx="81.1" cy="226.3" r="0.42" fill="#222" opacity="0.5"/>
<circle cx="81.2" cy="266.2" r="0.42" fill="#222" opacity="0.4"/>
<circle cx="99.6" cy="239.2" r="0.42" fill="#222" opacity="0.4"/>
<circle cx="96.4" cy="235.0" r="0.42" fill="#222" opacity="0.4"/>
<circle cx="104.8" cy="240.3" r="0.42" fill="#222" opacity="0.4"/>
<circle cx="107.8" cy="251.7" r="0.42" fill="#222" opacity="0.4"/>
<circle cx="109.7" cy="227.3" r="0.42" fill="#222" opacity="0.5"/>
<circle cx="103.1" cy="234.9" r="0.42" fill="#222" opacity="0.4"/>
<circle cx="81.5" cy="232.0" r="0.42" fill="#222" opacity="0.5"/>
<circle cx="86.6" cy="234.3" r="0.42" fill="#222" opacity="0.4"/>
<circle cx="109.2" cy="226.4" r="0.42" fill="#222" opacity="0.5"/>
<circle cx="83.1" cy="271.6" r="0.42" fill="#222" opacity="0.4"/>
<circle cx="84.5" cy="254.7" r="0.42" fill="#222" opacity="0.4"/>
<circle cx="90.6" cy="258.7" r="0.42" fill="#222" opacity="0.4"/>
<circle cx="112.8" cy="259.0" r="0.42" fill="#222" opacity="0.4"/>
<circle cx="87.2" cy="249.7" r="0.42" fill="#222" opacity="0.4"/>
<circle cx="86.3" cy="229.0" r="0.42" fill="#222" opacity="0.5"/>
<circle cx="105.5" cy="278.3" r="0.42" fill="#222" opacity="0.4"/>
<circle cx="83.5" cy="235.0" r="0.42" fill="#222" opacity="0.4"/>
<circle cx="108.4" cy="248.2" r="0.42" fill="#222" opacity="0.4"/>
<circle cx="106.5" cy="231.6" r="0.42" fill="#222" opacity="0.5"/>
<circle cx="84.9" cy="234.7" r="0.42" fill="#222" opacity="0.4"/>
<circle cx="108.7" cy="250.7" r="0.42" fill="#222" opacity="0.4"/>
<circle cx="80.4" cy="226.0" r="0.42" fill="#222" opacity="0.5"/>
<circle cx="90.3" cy="229.2" r="0.42" fill="#222" opacity="0.5"/>
<circle cx="106.2" cy="224.2" r="0.42" fill="#222" opacity="0.5"/>
<circle cx="93.0" cy="223.0" r="0.42" fill="#222" opacity="0.5"/>
<circle cx="83.4" cy="230.2" r="0.42" fill="#222" opacity="0.5"/>
<circle cx="105.9" cy="240.0" r="0.42" fill="#222" opacity="0.4"/>
<circle cx="82.1" cy="237.6" r="0.42" fill="#222" opacity="0.4"/>
<circle cx="89.1" cy="239.9" r="0.42" fill="#222" opacity="0.4"/>
<circle cx="88.9" cy="240.2" r="0.42" fill="#222" opacity="0.4"/>
<circle cx="104.0" cy="235.2" r="0.42" fill="#222" opacity="0.4"/>
<circle cx="80.2" cy="226.8" r="0.42" fill="#222" opacity="0.5"/>
<circle cx="105.1" cy="239.9" r="0.42" fill="#222" opacity="0.4"/>
<circle cx="105.2" cy="222.7" r="0.42" fill="#222" opacity="0.5"/>
<circle cx="84.3" cy="254.0" r="0.42" fill="#222" opacity="0.4"/>
<circle cx="89.9" cy="266.1" r="0.42" fill="#222" opacity="0.4"/>
<circle cx="82.8" cy="236.2" r="0.42" fill="#222" opacity="0.4"/>
<circle cx="84.0" cy="268.3" r="0.42" fill="#222" opacity="0.4"/>
<circle cx="96.2" cy="226.9" r="0.42" fill="#222" opacity="0.5"/>
<circle cx="84.2" cy="234.8" r="0.42" fill="#222" opacity="0.4"/>
<circle cx="138.7" cy="259.1" r="0.42" fill="#222" opacity="0.4"/>
<circle cx="110.6" cy="230.8" r="0.42" fill="#222" opacity="0.5"/>
<circle cx="111.5" cy="258.3" r="0.42" fill="#222" opacity="0.4"/>
<circle cx="105.9" cy="223.4" r="0.42" fill="#222" opacity="0.5"/>
<circle cx="110.2" cy="258.5" r="0.42" fill="#222" opacity="0.4"/>
<circle cx="87.2" cy="227.4" r="0.42" fill="#222" opacity="0.5"/>
<circle cx="85.6" cy="228.2" r="0.42" fill="#222" opacity="0.5"/>
<circle cx="83.3" cy="224.1" r="0.42" fill="#222" opacity="0.5"/>
<circle cx="79.4" cy="259.9" r="0.42" fill="#222" opacity="0.4"/>
<circle cx="107.7" cy="227.5" r="0.42" fill="#222" opacity="0.5"/>
<circle cx="86.0" cy="253.4" r="0.42" fill="#222" opacity="0.4"/>
<circle cx="81.5" cy="243.3" r="0.42" fill="#222" opacity="0.4"/>
<circle cx="109.0" cy="241.7" r="0.42" fill="#222" opacity="0.4"/>
<circle cx="87.0" cy="246.5" r="0.42" fill="#222" opacity="0.4"/>
<circle cx="84.4" cy="260.2" r="0.42" fill="#222" opacity="0.4"/>
<circle cx="105.1" cy="242.8" r="0.42" fill="#222" opacity="0.4"/>
<circle cx="84.2" cy="223.3" r="0.42" fill="#222" opacity="0.5"/>
<circle cx="86.0" cy="247.5" r="0.42" fill="#222" opacity="0.4"/>
<circle cx="101.0" cy="225.4" r="0.42" fill="#222" opacity="0.5"/>
<circle cx="104.2" cy="223.5" r="0.42" fill="#222" opacity="0.5"/>
<circle cx="96.6" cy="228.4" r="0.42" fill="#222" opacity="0.5"/>
<circle cx="85.1" cy="264.9" r="0.42" fill="#222" opacity="0.4"/>
<circle cx="125.3" cy="275.7" r="0.42" fill="#222" opacity="0.4"/>
<circle cx="112.4" cy="223.3" r="0.42" fill="#222" opacity="0.5"/>
<circle cx="88.7" cy="230.3" r="0.42" fill="#222" opacity="0.5"/>
<circle cx="105.1" cy="262.9" r="0.42" fill="#222" opacity="0.4"/>
<circle cx="91.6" cy="222.6" r="0.42" fill="#222" opacity="0.5"/>
<circle cx="105.1" cy="234.1" r="0.42" fill="#222" opacity="0.4"/>
<circle cx="109.3" cy="262.5" r="0.42" fill="#222" opacity="0.4"/>
<circle cx="88.7" cy="227.1" r="0.42" fill="#222" opacity="0.5"/>
<circle cx="83.7" cy="231.1" r="0.42" fill="#222" opacity="0.5"/>
<circle cx="110.9" cy="223.7" r="0.42" fill="#222" opacity="0.5"/>
<circle cx="108.5" cy="256.5" r="0.42" fill="#222" opacity="0.4"/>
<circle cx="97.5" cy="224.4" r="0.42" fill="#222" opacity="0.5"/>
<circle cx="102.9" cy="246.4" r="0.42" fill="#222" opacity="0.4"/>
<circle cx="112.0" cy="260.8" r="0.42" fill="#222" opacity="0.4"/>
<circle cx="112.8" cy="225.9" r="0.42" fill="#222" opacity="0.5"/>
<circle cx="104.7" cy="233.6" r="0.42" fill="#222" opacity="0.4"/>
<circle cx="116.8" cy="253.0" r="0.42" fill="#222" opacity="0.4"/>
<circle cx="105.1" cy="254.7" r="0.42" fill="#222" opacity="0.4"/>
<circle cx="107.1" cy="223.6" r="0.42" fill="#222" opacity="0.5"/>
<circle cx="79.9" cy="251.3" r="0.42" fill="#222" opacity="0.4"/>
<circle cx="99.9" cy="235.8" r="0.42" fill="#222" opacity="0.4"/>
<circle cx="81.1" cy="226.6" r="0.42" fill="#222" opacity="0.5"/>
<circle cx="86.5" cy="247.6" r="0.42" fill="#222" opacity="0.4"/>
<circle cx="108.6" cy="250.7" r="0.42" fill="#222" opacity="0.4"/>
<circle cx="80.1" cy="225.1" r="0.42" fill="#222" opacity="0.5"/>
<circle cx="85.6" cy="233.2" r="0.42" fill="#222" opacity="0.4"/>
<circle cx="108.9" cy="247.9" r="0.42" fill="#222" opacity="0.4"/>
<circle cx="100.6" cy="225.2" r="0.42" fill="#222" opacity="0.5"/>
<circle cx="98.4" cy="242.5" r="0.42" fill="#222" opacity="0.4"/>
<circle cx="101.1" cy="222.9" r="0.42" fill="#222" opacity="0.5"/>
<circle cx="107.7" cy="233.6" r="0.42" fill="#222" opacity="0.4"/>
<circle cx="101.3" cy="227.5" r="0.42" fill="#222" opacity="0.5"/>
<circle cx="82.1" cy="244.2" r="0.42" fill="#222" opacity="0.4"/>
<circle cx="125.3" cy="247.4" r="0.42" fill="#222" opacity="0.4"/>
<circle cx="87.4" cy="261.6" r="0.42" fill="#222" opacity="0.4"/>
<circle cx="86.6" cy="233.9" r="0.42" fill="#222" opacity="0.4"/>
<circle cx="105.7" cy="228.8" r="0.42" fill="#222" opacity="0.5"/>
<circle cx="92.8" cy="245.0" r="0.42" fill="#222" opacity="0.4"/>
<circle cx="107.3" cy="244.3" r="0.42" fill="#222" opacity="0.4"/>
<circle cx="107.8" cy="235.6" r="0.42" fill="#222" opacity="0.4"/>
<circle cx="82.7" cy="224.4" r="0.42" fill="#222" opacity="0.5"/>
<circle cx="108.0" cy="222.3" r="0.42" fill="#222" opacity="0.5"/>
<circle cx="102.0" cy="254.8" r="0.42" fill="#222" opacity="0.4"/>
<circle cx="83.9" cy="233.3" r="0.42" fill="#222" opacity="0.4"/>
<circle cx="87.7" cy="228.0" r="0.42" fill="#222" opacity="0.5"/>
<circle cx="91.1" cy="222.5" r="0.42" fill="#222" opacity="0.5"/>
<circle cx="102.1" cy="253.3" r="0.42" fill="#222" opacity="0.4"/>
<circle cx="81.8" cy="261.4" r="0.42" fill="#222" opacity="0.4"/>
<circle cx="83.2" cy="235.3" r="0.42" fill="#222" opacity="0.4"/>
<circle cx="109.2" cy="260.7" r="0.42" fill="#222" opacity="0.4"/>
<circle cx="88.6" cy="223.3" r="0.42" fill="#222" opacity="0.5"/>
<circle cx="83.8" cy="259.3" r="0.42" fill="#222" opacity="0.4"/>
<circle cx="78.7" cy="266.0" r="0.42" fill="#222" opacity="0.4"/>
<circle cx="84.3" cy="253.5" r="0.42" fill="#222" opacity="0.4"/>
<circle cx="114.0" cy="251.3" r="0.42" fill="#222" opacity="0.4"/>
<circle cx="110.8" cy="277.0" r="0.42" fill="#222" opacity="0.4"/>
<circle cx="109.1" cy="253.9" r="0.42" fill="#222" opacity="0.4"/>
<circle cx="82.2" cy="237.4" r="0.42" fill="#222" opacity="0.4"/>
<circle cx="100.5" cy="232.2" r="0.42" fill="#222" opacity="0.4"/>
<circle cx="80.9" cy="227.7" r="0.42" fill="#222" opacity="0.5"/>
<circle cx="110.7" cy="224.1" r="0.42" fill="#222" opacity="0.5"/>
<circle cx="81.4" cy="224.8" r="0.42" fill="#222" opacity="0.5"/>
<circle cx="103.7" cy="254.4" r="0.42" fill="#222" opacity="0.4"/>
<circle cx="99.5" cy="228.3" r="0.42" fill="#222" opacity="0.5"/>
<circle cx="85.7" cy="266.6" r="0.42" fill="#222" opacity="0.4"/>
<circle cx="108.6" cy="230.9" r="0.42" fill="#222" opacity="0.5"/>
<circle cx="136.9" cy="240.4" r="0.42" fill="#222" opacity="0.4"/>
<circle cx="83.7" cy="232.0" r="0.42" fill="#222" opacity="0.5"/>
<circle cx="108.3" cy="249.9" r="0.42" fill="#222" opacity="0.4"/>
<circle cx="105.2" cy="226.4" r="0.42" fill="#222" opacity="0.5"/>
<circle cx="105.0" cy="225.5" r="0.42" fill="#222" opacity="0.5"/>
<circle cx="90.5" cy="223.4" r="0.42" fill="#222" opacity="0.5"/>
<circle cx="84.2" cy="236.1" r="0.42" fill="#222" opacity="0.4"/>
<circle cx="105.1" cy="264.4" r="0.42" fill="#222" opacity="0.4"/>
<circle cx="85.4" cy="264.6" r="0.42" fill="#222" opacity="0.4"/>
<circle cx="110.2" cy="241.2" r="0.42" fill="#222" opacity="0.4"/>
<circle cx="107.6" cy="237.3" r="0.42" fill="#222" opacity="0.4"/>
<circle cx="104.8" cy="259.9" r="0.42" fill="#222" opacity="0.4"/>
<circle cx="107.1" cy="223.3" r="0.42" fill="#222" opacity="0.5"/>
<circle cx="80.0" cy="225.0" r="0.42" fill="#222" opacity="0.5"/>
<circle cx="85.2" cy="259.5" r="0.42" fill="#222" opacity="0.4"/>
<circle cx="87.6" cy="261.8" r="0.42" fill="#222" opacity="0.4"/>
<circle cx="96.3" cy="227.9" r="0.42" fill="#222" opacity="0.5"/>
<circle cx="87.4" cy="269.2" r="0.42" fill="#222" opacity="0.4"/>
<circle cx="84.8" cy="246.9" r="0.42" fill="#222" opacity="0.4"/>
<circle cx="101.0" cy="230.1" r="0.42" fill="#222" opacity="0.5"/>
<circle cx="106.0" cy="225.4" r="0.42" fill="#222" opacity="0.5"/>
<circle cx="101.7" cy="237.6" r="0.42" fill="#222" opacity="0.4"/>
<circle cx="80.4" cy="226.3" r="0.42" fill="#222" opacity="0.5"/>
<circle cx="111.1" cy="223.1" r="0.42" fill="#222" opacity="0.5"/>
<circle cx="88.7" cy="227.3" r="0.42" fill="#222" opacity="0.5"/>
<circle cx="82.5" cy="266.2" r="0.42" fill="#222" opacity="0.4"/>
<circle cx="81.4" cy="259.7" r="0.42" fill="#222" opacity="0.4"/>
<circle cx="108.0" cy="250.4" r="0.42" fill="#222" opacity="0.4"/>
<circle cx="83.4" cy="264.2" r="0.42" fill="#222" opacity="0.4"/>
<circle cx="108.6" cy="254.6" r="0.42" fill="#222" opacity="0.4"/>
<circle cx="94.5" cy="223.5" r="0.42" fill="#222" opacity="0.5"/>
<circle cx="95.2" cy="229.0" r="0.42" fill="#222" opacity="0.5"/>
<circle cx="107.2" cy="235.3" r="0.42" fill="#222" opacity="0.4"/>
<circle cx="109.1" cy="259.1" r="0.42" fill="#222" opacity="0.4"/>
<circle cx="85.1" cy="222.6" r="0.42" fill="#222" opacity="0.5"/>
<circle cx="86.0" cy="230.0" r="0.42" fill="#222" opacity="0.5"/>
<circle cx="86.2" cy="258.4" r="0.42" fill="#222" opacity="0.4"/>
<circle cx="111.8" cy="235.1" r="0.42" fill="#222" opacity="0.4"/>
<circle cx="92.7" cy="231.4" r="0.42" fill="#222" opacity="0.5"/>
<circle cx="106.4" cy="241.1" r="0.42" fill="#222" opacity="0.4"/>
<circle cx="101.1" cy="225.2" r="0.42" fill="#222" opacity="0.5"/>
<circle cx="84.9" cy="223.7" r="0.42" fill="#222" opacity="0.5"/>
<circle cx="84.9" cy="247.0" r="0.42" fill="#222" opacity="0.4"/>
<circle cx="102.2" cy="242.4" r="0.42" fill="#222" opacity="0.4"/>
<circle cx="99.9" cy="229.3" r="0.42" fill="#222" opacity="0.5"/>
<circle cx="108.7" cy="263.7" r="0.42" fill="#222" opacity="0.4"/>
<circle cx="110.0" cy="240.5" r="0.42" fill="#222" opacity="0.4"/>
<circle cx="83.2" cy="260.7" r="0.42" fill="#222" opacity="0.4"/>
<circle cx="100.5" cy="259.5" r="0.42" fill="#222" opacity="0.4"/>
<circle cx="104.8" cy="235.8" r="0.42" fill="#222" opacity="0.4"/>
<circle cx="104.3" cy="226.3" r="0.42" fill="#222" opacity="0.5"/>
<circle cx="84.7" cy="253.5" r="0.42" fill="#222" opacity="0.4"/>
<circle cx="80.6" cy="243.2" r="0.42" fill="#222" opacity="0.4"/>
<circle cx="82.4" cy="255.8" r="0.42" fill="#222" opacity="0.4"/>
<circle cx="95.1" cy="267.7" r="0.42" fill="#222" opacity="0.4"/>
<circle cx="104.7" cy="239.1" r="0.42" fill="#222" opacity="0.4"/>
<circle cx="84.6" cy="249.2" r="0.42" fill="#222" opacity="0.4"/>
<circle cx="105.8" cy="222.7" r="0.42" fill="#222" opacity="0.5"/>
<circle cx="113.6" cy="240.1" r="0.42" fill="#222" opacity="0.4"/>
<circle cx="80.6" cy="247.6" r="0.42" fill="#222" opacity="0.4"/>
<circle cx="105.7" cy="258.5" r="0.42" fill="#222" opacity="0.4"/>
<circle cx="79.5" cy="232.5" r="0.42" fill="#222" opacity="0.4"/>
<circle cx="111.2" cy="239.3" r="0.42" fill="#222" opacity="0.4"/>
<circle cx="113.6" cy="237.6" r="0.42" fill="#222" opacity="0.4"/>
<circle cx="89.1" cy="232.5" r="0.42" fill="#222" opacity="0.4"/>
<circle cx="86.3" cy="243.0" r="0.42" fill="#222" opacity="0.4"/>
<circle cx="107.3" cy="237.5" r="0.42" fill="#222" opacity="0.4"/>
<circle cx="84.6" cy="269.0" r="0.42" fill="#222" opacity="0.4"/>
<circle cx="87.6" cy="232.9" r="0.42" fill="#222" opacity="0.4"/>
<circle cx="105.3" cy="227.7" r="0.42" fill="#222" opacity="0.5"/>
<circle cx="108.4" cy="257.6" r="0.42" fill="#222" opacity="0.4"/>
<circle cx="103.0" cy="231.9" r="0.42" fill="#222" opacity="0.5"/>
<circle cx="104.4" cy="266.9" r="0.42" fill="#222" opacity="0.4"/>
<circle cx="107.8" cy="257.9" r="0.42" fill="#222" opacity="0.4"/>
<circle cx="83.2" cy="228.3" r="0.42" fill="#222" opacity="0.5"/>
<circle cx="110.9" cy="237.6" r="0.42" fill="#222" opacity="0.4"/>
<circle cx="106.7" cy="233.2" r="0.42" fill="#222" opacity="0.4"/>
<circle cx="86.1" cy="231.3" r="0.42" fill="#222" opacity="0.5"/>
<circle cx="103.8" cy="223.2" r="0.42" fill="#222" opacity="0.5"/>
<circle cx="85.6" cy="246.0" r="0.42" fill="#222" opacity="0.4"/>
<circle cx="81.9" cy="240.1" r="0.42" fill="#222" opacity="0.4"/>
<circle cx="132.0" cy="237.9" r="0.42" fill="#222" opacity="0.4"/>
<circle cx="103.4" cy="261.9" r="0.42" fill="#222" opacity="0.4"/>
<circle cx="110.8" cy="249.9" r="0.42" fill="#222" opacity="0.4"/>
<circle cx="80.4" cy="229.8" r="0.42" fill="#222" opacity="0.5"/>
<circle cx="121.1" cy="247.5" r="0.42" fill="#222" opacity="0.4"/>
<circle cx="84.7" cy="223.4" r="0.42" fill="#222" opacity="0.5"/>
<circle cx="87.8" cy="229.6" r="0.42" fill="#222" opacity="0.5"/>
<circle cx="128.5" cy="243.4" r="0.42" fill="#222" opacity="0.4"/>
<circle cx="102.7" cy="251.4" r="0.42" fill="#222" opacity="0.4"/>
<circle cx="103.5" cy="256.7" r="0.42" fill="#222" opacity="0.4"/>
<circle cx="108.6" cy="245.4" r="0.42" fill="#222" opacity="0.4"/>
<circle cx="111.7" cy="241.3" r="0.42" fill="#222" opacity="0.4"/>
<circle cx="104.6" cy="232.3" r="0.42" fill="#222" opacity="0.4"/>
<circle cx="96.3" cy="223.8" r="0.42" fill="#222" opacity="0.5"/>
<circle cx="95.4" cy="226.1" r="0.42" fill="#222" opacity="0.5"/>
<circle cx="86.0" cy="249.0" r="0.42" fill="#222" opacity="0.4"/>
<circle cx="113.1" cy="242.6" r="0.42" fill="#222" opacity="0.4"/>
<circle cx="84.2" cy="255.3" r="0.42" fill="#222" opacity="0.4"/>
<circle cx="104.6" cy="264.3" r="0.42" fill="#222" opacity="0.4"/>
<circle cx="101.0" cy="226.2" r="0.42" fill="#222" opacity="0.5"/>
<circle cx="111.3" cy="252.0" r="0.42" fill="#222" opacity="0.4"/>
<circle cx="103.2" cy="284.1" r="0.42" fill="#222" opacity="0.4"/>
<circle cx="84.5" cy="246.2" r="0.42" fill="#222" opacity="0.4"/>
<circle cx="112.0" cy="249.5" r="0.42" fill="#222" opacity="0.4"/>
<circle cx="84.7" cy="265.1" r="0.42" fill="#222" opacity="0.4"/>
<circle cx="81.3" cy="260.5" r="0.42" fill="#222" opacity="0.4"/>
<circle cx="94.4" cy="223.5" r="0.42" fill="#222" opacity="0.5"/>
<circle cx="80.1" cy="236.6" r="0.42" fill="#222" opacity="0.4"/>
<circle cx="105.0" cy="239.8" r="0.42" fill="#222" opacity="0.4"/>
<circle cx="83.6" cy="270.7" r="0.42" fill="#222" opacity="0.4"/>
<circle cx="110.8" cy="256.8" r="0.42" fill="#222" opacity="0.4"/>
<circle cx="83.2" cy="251.3" r="0.42" fill="#222" opacity="0.4"/>
<circle cx="109.5" cy="256.5" r="0.42" fill="#222" opacity="0.4"/>
<circle cx="103.8" cy="227.2" r="0.42" fill="#222" opacity="0.5"/>
<circle cx="89.9" cy="226.6" r="0.42" fill="#222" opacity="0.5"/>
<circle cx="86.3" cy="228.5" r="0.42" fill="#222" opacity="0.5"/>
<circle cx="104.9" cy="256.7" r="0.42" fill="#222" opacity="0.4"/>
<circle cx="118.6" cy="265.8" r="0.42" fill="#222" opacity="0.4"/>
<circle cx="105.6" cy="252.0" r="0.42" fill="#222" opacity="0.4"/>
<circle cx="102.0" cy="228.9" r="0.42" fill="#222" opacity="0.5"/>
<circle cx="84.1" cy="231.1" r="0.42" fill="#222" opacity="0.5"/>
<circle cx="105.6" cy="224.8" r="0.42" fill="#222" opacity="0.5"/>
<circle cx="121.1" cy="253.4" r="0.42" fill="#222" opacity="0.4"/>
<circle cx="107.9" cy="233.4" r="0.42" fill="#222" opacity="0.4"/>
<circle cx="81.2" cy="243.1" r="0.42" fill="#222" opacity="0.4"/>
<circle cx="81.1" cy="268.7" r="0.42" fill="#222" opacity="0.4"/>
<circle cx="98.7" cy="225.5" r="0.42" fill="#222" opacity="0.5"/>
<circle cx="83.9" cy="224.9" r="0.42" fill="#222" opacity="0.5"/>
<circle cx="109.6" cy="235.7" r="0.42" fill="#222" opacity="0.4"/>
<circle cx="81.3" cy="251.6" r="0.42" fill="#222" opacity="0.4"/>
<circle cx="138.9" cy="258.8" r="0.42" fill="#222" opacity="0.4"/>
<circle cx="86.5" cy="232.6" r="0.42" fill="#222" opacity="0.4"/>
<circle cx="80.5" cy="226.8" r="0.42" fill="#222" opacity="0.5"/>
<circle cx="102.6" cy="231.9" r="0.42" fill="#222" opacity="0.5"/>
<circle cx="108.7" cy="231.5" r="0.42" fill="#222" opacity="0.5"/>
<circle cx="80.6" cy="223.2" r="0.42" fill="#222" opacity="0.5"/>
<circle cx="104.7" cy="230.2" r="0.42" fill="#222" opacity="0.5"/>
<circle cx="105.5" cy="224.7" r="0.42" fill="#222" opacity="0.5"/>
<circle cx="100.9" cy="225.7" r="0.42" fill="#222" opacity="0.5"/>
<circle cx="106.1" cy="263.0" r="0.42" fill="#222" opacity="0.4"/>
<circle cx="81.6" cy="270.2" r="0.42" fill="#222" opacity="0.4"/>
<circle cx="107.5" cy="250.6" r="0.42" fill="#222" opacity="0.4"/>
<circle cx="107.0" cy="225.5" r="0.42" fill="#222" opacity="0.5"/>
<circle cx="83.8" cy="265.0" r="0.42" fill="#222" opacity="0.4"/>
<circle cx="82.7" cy="225.0" r="0.42" fill="#222" opacity="0.5"/>
<circle cx="81.9" cy="255.8" r="0.42" fill="#222" opacity="0.4"/>
<circle cx="106.3" cy="224.9" r="0.42" fill="#222" opacity="0.5"/>
<circle cx="82.1" cy="242.9" r="0.42" fill="#222" opacity="0.4"/>
<circle cx="81.6" cy="261.3" r="0.42" fill="#222" opacity="0.4"/>
<circle cx="128.2" cy="263.3" r="0.42" fill="#222" opacity="0.4"/>
<circle cx="89.5" cy="257.2" r="0.42" fill="#222" opacity="0.4"/>
<circle cx="110.2" cy="236.6" r="0.42" fill="#222" opacity="0.4"/>
<circle cx="113.0" cy="248.5" r="0.42" fill="#222" opacity="0.4"/>
<circle cx="83.4" cy="243.4" r="0.42" fill="#222" opacity="0.4"/>
<circle cx="103.5" cy="248.5" r="0.42" fill="#222" opacity="0.4"/>
<circle cx="110.4" cy="257.5" r="0.42" fill="#222" opacity="0.4"/>
<circle cx="85.7" cy="243.1" r="0.42" fill="#222" opacity="0.4"/>
<circle cx="107.0" cy="257.9" r="0.42" fill="#222" opacity="0.4"/>
<circle cx="112.8" cy="257.7" r="0.42" fill="#222" opacity="0.4"/>
<g filter="url(#bl)"><g>
<rect x="110.0" y="207.5" width="0.8" height="0.8" fill="#1d1c78"/><rect x="111.0" y="207.5" width="0.8" height="0.8" fill="#1d1c78"/><rect x="113.5" y="207.5" width="0.8" height="0.8" fill="#1d1c78"/><rect x="114.5" y="207.5" width="0.8" height="0.8" fill="#1d1c78"/><rect x="107.5" y="208.0" width="4.3" height="0.8" fill="#1d1c78"/><rect x="112.0" y="208.0" width="3.3" height="0.8" fill="#1d1c78"/><rect x="115.5" y="208.0" width="3.8" height="0.8" fill="#1d1c78"/><rect x="104.5" y="208.5" width="0.8" height="0.8" fill="#1d1c78"/><rect x="106.0" y="208.5" width="4.8" height="0.8" fill="#1d1c78"/><rect x="110.5" y="208.5" width="1.3" height="0.8" fill="#1f47b5"/><rect x="111.5" y="208.5" width="4.8" height="0.8" fill="#1d1c78"/><rect x="116.0" y="208.5" width="0.8" height="0.8" fill="#1f47b5"/><rect x="116.5" y="208.5" width="5.3" height="0.8" fill="#1d1c78"/><rect x="122.0" y="208.5" width="0.8" height="0.8" fill="#1d1c78"/><rect x="103.5" y="209.0" width="0.8" height="0.8" fill="#1d1c78"/><rect x="104.5" y="209.0" width="3.3" height="0.8" fill="#1d1c78"/><rect x="107.5" y="209.0" width="1.8" height="0.8" fill="#1f47b5"/><rect x="109.0" y="209.0" width="0.8" height="0.8" fill="#1d1c78"/><rect x="109.5" y="209.0" width="0.8" height="0.8" fill="#1f47b5"/><rect x="110.0" y="209.0" width="0.8" height="0.8" fill="#1d1c78"/><rect x="110.5" y="209.0" width="1.3" height="0.8" fill="#1f47b5"/><rect x="111.5" y="209.0" width="0.8" height="0.8" fill="#1d1c78"/><rect x="112.0" y="209.0" width="5.8" height="0.8" fill="#1f47b5"/><rect x="117.5" y="209.0" width="0.8" height="0.8" fill="#1d1c78"/><rect x="118.0" y="209.0" width="0.8" height="0.8" fill="#1f47b5"/><rect x="118.5" y="209.0" width="0.8" height="0.8" fill="#1d1c78"/><rect x="119.0" y="209.0" width="1.8" height="0.8" fill="#1f47b5"/><rect x="120.5" y="209.0" width="2.8" height="0.8" fill="#1d1c78"/><rect x="103.0" y="209.5" width="2.3" height="0.8" fill="#1d1c78"/><rect x="105.0" y="209.5" width="1.3" height="0.8" fill="#1f47b5"/><rect x="106.0" y="209.5" width="0.8" height="0.8" fill="#1d1c78"/><rect x="106.5" y="209.5" width="4.3" height="0.8" fill="#1f47b5"/><rect x="110.5" y="209.5" width="2.3" height="0.8" fill="#22a2d8"/><rect x="112.5" y="209.5" width="0.8" height="0.8" fill="#1f47b5"/><rect x="113.0" y="209.5" width="1.3" height="0.8" fill="#22a2d8"/><rect x="114.0" y="209.5" width="0.8" height="0.8" fill="#1f47b5"/><rect x="114.5" y="209.5" width="0.8" height="0.8" fill="#22a2d8"/><rect x="115.0" y="209.5" width="3.3" height="0.8" fill="#1f47b5"/><rect x="118.0" y="209.5" width="0.8" height="0.8" fill="#22a2d8"/><rect x="118.5" y="209.5" width="2.8" height="0.8" fill="#1f47b5"/><rect x="121.0" y="209.5" width="1.3" height="0.8" fill="#1d1c78"/><rect x="122.0" y="209.5" width="0.8" height="0.8" fill="#1f47b5"/><rect x="122.5" y="209.5" width="1.8" height="0.8" fill="#1d1c78"/><rect x="101.5" y="210.0" width="0.8" height="0.8" fill="#1d1c78"/><rect x="102.5" y="210.0" width="1.3" height="0.8" fill="#1d1c78"/><rect x="103.5" y="210.0" width="0.8" height="0.8" fill="#1f47b5"/><rect x="104.0" y="210.0" width="0.8" height="0.8" fill="#1d1c78"/><rect x="104.5" y="210.0" width="3.3" height="0.8" fill="#1f47b5"/><rect x="107.5" y="210.0" width="0.8" height="0.8" fill="#22a2d8"/><rect x="108.0" y="210.0" width="0.8" height="0.8" fill="#1f47b5"/><rect x="108.5" y="210.0" width="8.8" height="0.8" fill="#22a2d8"/><rect x="117.0" y="210.0" width="0.8" height="0.8" fill="#1f47b5"/><rect x="117.5" y="210.0" width="1.3" height="0.8" fill="#22a2d8"/><rect x="118.5" y="210.0" width="3.8" height="0.8" fill="#1f47b5"/><rect x="122.0" y="210.0" width="0.8" height="0.8" fill="#1d1c78"/><rect x="122.5" y="210.0" width="0.8" height="0.8" fill="#1f47b5"/><rect x="123.0" y="210.0" width="1.8" height="0.8" fill="#1d1c78"/><rect x="100.5" y="210.5" width="2.8" height="0.8" fill="#1d1c78"/><rect x="103.0" y="210.5" width="1.8" height="0.8" fill="#1f47b5"/><rect x="104.5" y="210.5" width="1.3" height="0.8" fill="#22a2d8"/><rect x="105.5" y="210.5" width="1.8" height="0.8" fill="#1f47b5"/><rect x="107.0" y="210.5" width="3.8" height="0.8" fill="#22a2d8"/><rect x="110.5" y="210.5" width="3.8" height="0.8" fill="#5fbf47"/><rect x="114.0" y="210.5" width="6.8" height="0.8" fill="#22a2d8"/><rect x="120.5" y="210.5" width="0.8" height="0.8" fill="#1f47b5"/><rect x="121.0" y="210.5" width="0.8" height="0.8" fill="#22a2d8"/><rect x="121.5" y="210.5" width="2.3" height="0.8" fill="#1f47b5"/><rect x="123.5" y="210.5" width="1.8" height="0.8" fill="#1d1c78"/><rect x="99.5" y="211.0" width="1.8" height="0.8" fill="#1d1c78"/><rect x="101.0" y="211.0" width="0.8" height="0.8" fill="#1f47b5"/><rect x="101.5" y="211.0" width="0.8" height="0.8" fill="#1d1c78"/><rect x="102.0" y="211.0" width="1.8" height="0.8" fill="#1f47b5"/><rect x="103.5" y="211.0" width="3.8" height="0.8" fill="#22a2d8"/><rect x="107.0" y="211.0" width="12.3" height="0.8" fill="#5fbf47"/><rect x="119.0" y="211.0" width="2.8" height="0.8" fill="#22a2d8"/><rect x="121.5" y="211.0" width="3.3" height="0.8" fill="#1f47b5"/><rect x="124.5" y="211.0" width="2.3" height="0.8" fill="#1d1c78"/><rect x="98.5" y="211.5" width="2.8" height="0.8" fill="#1d1c78"/><rect x="101.0" y="211.5" width="1.8" height="0.8" fill="#1f47b5"/><rect x="102.5" y="211.5" width="2.8" height="0.8" fill="#22a2d8"/><rect x="105.0" y="211.5" width="3.8" height="0.8" fill="#5fbf47"/><rect x="108.5" y="211.5" width="7.8" height="0.8" fill="#e5e02e"/><rect x="116.0" y="211.5" width="5.3" height="0.8" fill="#5fbf47"/><rect x="121.0" y="211.5" width="2.3" height="0.8" fill="#22a2d8"/><rect x="123.0" y="211.5" width="2.3" height="0.8" fill="#1f47b5"/><rect x="125.0" y="211.5" width="1.8" height="0.8" fill="#1d1c78"/><rect x="97.5" y="212.0" width="3.3" height="0.8" fill="#1d1c78"/><rect x="100.5" y="212.0" width="0.8" height="0.8" fill="#1f47b5"/><rect x="101.0" y="212.0" width="2.8" height="0.8" fill="#22a2d8"/><rect x="103.5" y="212.0" width="2.8" height="0.8" fill="#5fbf47"/><rect x="106.0" y="212.0" width="4.8" height="0.8" fill="#e5e02e"/><rect x="110.5" y="212.0" width="0.8" height="0.8" fill="#f4901f"/><rect x="111.0" y="212.0" width="0.8" height="0.8" fill="#e5e02e"/><rect x="111.5" y="212.0" width="1.8" height="0.8" fill="#f4901f"/><rect x="113.0" y="212.0" width="6.3" height="0.8" fill="#e5e02e"/><rect x="119.0" y="212.0" width="3.3" height="0.8" fill="#5fbf47"/><rect x="122.0" y="212.0" width="2.3" height="0.8" fill="#22a2d8"/><rect x="124.0" y="212.0" width="2.3" height="0.8" fill="#1f47b5"/><rect x="126.0" y="212.0" width="0.8" height="0.8" fill="#1d1c78"/><rect x="96.5" y="212.5" width="2.8" height="0.8" fill="#1d1c78"/><rect x="99.0" y="212.5" width="2.3" height="0.8" fill="#1f47b5"/><rect x="101.0" y="212.5" width="1.8" height="0.8" fill="#22a2d8"/><rect x="102.5" y="212.5" width="2.3" height="0.8" fill="#5fbf47"/><rect x="104.5" y="212.5" width="3.3" height="0.8" fill="#e5e02e"/><rect x="107.5" y="212.5" width="8.8" height="0.8" fill="#f4901f"/><rect x="116.0" y="212.5" width="5.3" height="0.8" fill="#e5e02e"/><rect x="121.0" y="212.5" width="2.3" height="0.8" fill="#5fbf47"/><rect x="123.0" y="212.5" width="2.3" height="0.8" fill="#22a2d8"/><rect x="125.0" y="212.5" width="1.3" height="0.8" fill="#1f47b5"/><rect x="126.0" y="212.5" width="1.3" height="0.8" fill="#1d1c78"/><rect x="95.5" y="213.0" width="1.8" height="0.8" fill="#1d1c78"/><rect x="97.0" y="213.0" width="2.3" height="0.8" fill="#1f47b5"/><rect x="99.0" y="213.0" width="1.8" height="0.8" fill="#22a2d8"/><rect x="100.5" y="213.0" width="2.8" height="0.8" fill="#5fbf47"/><rect x="103.0" y="213.0" width="2.3" height="0.8" fill="#e5e02e"/><rect x="105.0" y="213.0" width="14.3" height="0.8" fill="#f4901f"/><rect x="119.0" y="213.0" width="2.8" height="0.8" fill="#e5e02e"/><rect x="121.5" y="213.0" width="2.3" height="0.8" fill="#5fbf47"/><rect x="123.5" y="213.0" width="1.8" height="0.8" fill="#22a2d8"/><rect x="125.0" y="213.0" width="1.3" height="0.8" fill="#1f47b5"/><rect x="126.0" y="213.0" width="2.3" height="0.8" fill="#1d1c78"/><rect x="94.0" y="213.5" width="2.3" height="0.8" fill="#1d1c78"/><rect x="96.0" y="213.5" width="1.8" height="0.8" fill="#1f47b5"/><rect x="97.5" y="213.5" width="2.3" height="0.8" fill="#22a2d8"/><rect x="99.5" y="213.5" width="2.3" height="0.8" fill="#5fbf47"/><rect x="101.5" y="213.5" width="2.8" height="0.8" fill="#e5e02e"/><rect x="104.0" y="213.5" width="3.8" height="0.8" fill="#f4901f"/><rect x="107.5" y="213.5" width="7.3" height="0.8" fill="#e4401d"/><rect x="114.5" y="213.5" width="6.3" height="0.8" fill="#f4901f"/><rect x="120.5" y="213.5" width="2.3" height="0.8" fill="#e5e02e"/><rect x="122.5" y="213.5" width="1.8" height="0.8" fill="#5fbf47"/><rect x="124.0" y="213.5" width="1.3" height="0.8" fill="#22a2d8"/><rect x="125.0" y="213.5" width="2.3" height="0.8" fill="#1f47b5"/><rect x="127.0" y="213.5" width="1.3" height="0.8" fill="#1d1c78"/><rect x="93.0" y="214.0" width="1.3" height="0.8" fill="#1d1c78"/><rect x="94.0" y="214.0" width="2.3" height="0.8" fill="#1f47b5"/><rect x="96.0" y="214.0" width="2.3" height="0.8" fill="#22a2d8"/><rect x="98.0" y="214.0" width="2.3" height="0.8" fill="#5fbf47"/><rect x="100.0" y="214.0" width="2.3" height="0.8" fill="#e5e02e"/><rect x="102.0" y="214.0" width="4.3" height="0.8" fill="#f4901f"/><rect x="106.0" y="214.0" width="10.8" height="0.8" fill="#e4401d"/><rect x="116.5" y="214.0" width="5.3" height="0.8" fill="#f4901f"/><rect x="121.5" y="214.0" width="1.8" height="0.8" fill="#e5e02e"/><rect x="123.0" y="214.0" width="1.8" height="0.8" fill="#5fbf47"/><rect x="124.5" y="214.0" width="1.3" height="0.8" fill="#22a2d8"/><rect x="125.5" y="214.0" width="1.8" height="0.8" fill="#1f47b5"/><rect x="127.0" y="214.0" width="1.8" height="0.8" fill="#1d1c78"/><rect x="91.0" y="214.5" width="1.8" height="0.8" fill="#1d1c78"/><rect x="92.5" y="214.5" width="2.8" height="0.8" fill="#1f47b5"/><rect x="95.0" y="214.5" width="1.8" height="0.8" fill="#22a2d8"/><rect x="96.5" y="214.5" width="2.3" height="0.8" fill="#5fbf47"/><rect x="98.5" y="214.5" width="2.8" height="0.8" fill="#e5e02e"/><rect x="101.0" y="214.5" width="3.3" height="0.8" fill="#f4901f"/><rect x="104.0" y="214.5" width="14.3" height="0.8" fill="#e4401d"/><rect x="118.0" y="214.5" width="0.8" height="0.8" fill="#f4901f"/><rect x="118.5" y="214.5" width="0.8" height="0.8" fill="#e4401d"/><rect x="119.0" y="214.5" width="2.8" height="0.8" fill="#f4901f"/><rect x="121.5" y="214.5" width="2.3" height="0.8" fill="#e5e02e"/><rect x="123.5" y="214.5" width="1.3" height="0.8" fill="#5fbf47"/><rect x="124.5" y="214.5" width="1.8" height="0.8" fill="#22a2d8"/><rect x="126.0" y="214.5" width="0.8" height="0.8" fill="#1f47b5"/><rect x="126.5" y="214.5" width="0.8" height="0.8" fill="#1d1c78"/><rect x="127.0" y="214.5" width="0.8" height="0.8" fill="#1f47b5"/><rect x="127.5" y="214.5" width="1.3" height="0.8" fill="#1d1c78"/><rect x="90.0" y="215.0" width="0.8" height="0.8" fill="#1d1c78"/><rect x="91.0" y="215.0" width="1.3" height="0.8" fill="#1d1c78"/><rect x="92.0" y="215.0" width="1.3" height="0.8" fill="#1f47b5"/><rect x="93.0" y="215.0" width="1.8" height="0.8" fill="#22a2d8"/><rect x="94.5" y="215.0" width="2.3" height="0.8" fill="#5fbf47"/><rect x="96.5" y="215.0" width="2.8" height="0.8" fill="#e5e02e"/><rect x="99.0" y="215.0" width="3.3" height="0.8" fill="#f4901f"/><rect x="102.0" y="215.0" width="0.8" height="0.8" fill="#e4401d"/><rect x="102.5" y="215.0" width="0.8" height="0.8" fill="#f4901f"/><rect x="103.0" y="215.0" width="17.3" height="0.8" fill="#e4401d"/><rect x="120.0" y="215.0" width="2.3" height="0.8" fill="#f4901f"/><rect x="122.0" y="215.0" width="2.3" height="0.8" fill="#e5e02e"/><rect x="124.0" y="215.0" width="1.3" height="0.8" fill="#5fbf47"/><rect x="125.0" y="215.0" width="1.8" height="0.8" fill="#22a2d8"/><rect x="126.5" y="215.0" width="1.3" height="0.8" fill="#1f47b5"/><rect x="127.5" y="215.0" width="1.8" height="0.8" fill="#1d1c78"/><rect x="89.5" y="215.5" width="0.8" height="0.8" fill="#1d1c78"/><rect x="90.0" y="215.5" width="1.8" height="0.8" fill="#1f47b5"/><rect x="91.5" y="215.5" width="2.3" height="0.8" fill="#22a2d8"/><rect x="93.5" y="215.5" width="2.3" height="0.8" fill="#5fbf47"/><rect x="95.5" y="215.5" width="2.3" height="0.8" fill="#e5e02e"/><rect x="97.5" y="215.5" width="3.8" height="0.8" fill="#f4901f"/><rect x="101.0" y="215.5" width="19.8" height="0.8" fill="#e4401d"/><rect x="120.5" y="215.5" width="2.3" height="0.8" fill="#f4901f"/><rect x="122.5" y="215.5" width="1.8" height="0.8" fill="#e5e02e"/><rect x="124.0" y="215.5" width="1.3" height="0.8" fill="#5fbf47"/><rect x="125.0" y="215.5" width="1.3" height="0.8" fill="#22a2d8"/><rect x="126.0" y="215.5" width="0.8" height="0.8" fill="#1f47b5"/><rect x="126.5" y="215.5" width="0.8" height="0.8" fill="#22a2d8"/><rect x="127.0" y="215.5" width="1.3" height="0.8" fill="#1f47b5"/><rect x="128.0" y="215.5" width="1.3" height="0.8" fill="#1d1c78"/><rect x="88.5" y="216.0" width="1.3" height="0.8" fill="#1d1c78"/><rect x="89.5" y="216.0" width="0.8" height="0.8" fill="#1f47b5"/><rect x="90.0" y="216.0" width="0.8" height="0.8" fill="#22a2d8"/><rect x="90.5" y="216.0" width="0.8" height="0.8" fill="#1f47b5"/><rect x="91.0" y="216.0" width="1.3" height="0.8" fill="#22a2d8"/><rect x="92.0" y="216.0" width="2.3" height="0.8" fill="#5fbf47"/><rect x="94.0" y="216.0" width="2.8" height="0.8" fill="#e5e02e"/><rect x="96.5" y="216.0" width="3.8" height="0.8" fill="#f4901f"/><rect x="100.0" y="216.0" width="20.8" height="0.8" fill="#e4401d"/><rect x="120.5" y="216.0" width="2.3" height="0.8" fill="#f4901f"/><rect x="122.5" y="216.0" width="1.8" height="0.8" fill="#e5e02e"/><rect x="124.0" y="216.0" width="1.8" height="0.8" fill="#5fbf47"/><rect x="125.5" y="216.0" width="1.3" height="0.8" fill="#22a2d8"/><rect x="126.5" y="216.0" width="1.8" height="0.8" fill="#1f47b5"/><rect x="128.0" y="216.0" width="1.3" height="0.8" fill="#1d1c78"/><rect x="87.0" y="216.5" width="1.8" height="0.8" fill="#1d1c78"/><rect x="88.5" y="216.5" width="1.3" height="0.8" fill="#1f47b5"/><rect x="89.5" y="216.5" width="1.8" height="0.8" fill="#22a2d8"/><rect x="91.0" y="216.5" width="1.8" height="0.8" fill="#5fbf47"/><rect x="92.5" y="216.5" width="2.8" height="0.8" fill="#e5e02e"/><rect x="95.0" y="216.5" width="4.3" height="0.8" fill="#f4901f"/><rect x="99.0" y="216.5" width="21.8" height="0.8" fill="#e4401d"/><rect x="120.5" y="216.5" width="2.8" height="0.8" fill="#f4901f"/><rect x="123.0" y="216.5" width="1.8" height="0.8" fill="#e5e02e"/><rect x="124.5" y="216.5" width="1.3" height="0.8" fill="#5fbf47"/><rect x="125.5" y="216.5" width="1.8" height="0.8" fill="#22a2d8"/><rect x="127.0" y="216.5" width="1.8" height="0.8" fill="#1f47b5"/><rect x="129.0" y="216.5" width="0.8" height="0.8" fill="#1d1c78"/><rect x="86.5" y="217.0" width="1.3" height="0.8" fill="#1d1c78"/><rect x="87.5" y="217.0" width="1.8" height="0.8" fill="#1f47b5"/><rect x="89.0" y="217.0" width="0.8" height="0.8" fill="#22a2d8"/><rect x="89.5" y="217.0" width="1.8" height="0.8" fill="#5fbf47"/><rect x="91.0" y="217.0" width="2.8" height="0.8" fill="#e5e02e"/><rect x="93.5" y="217.0" width="4.8" height="0.8" fill="#f4901f"/><rect x="98.0" y="217.0" width="23.3" height="0.8" fill="#e4401d"/><rect x="121.0" y="217.0" width="2.3" height="0.8" fill="#f4901f"/><rect x="123.0" y="217.0" width="1.8" height="0.8" fill="#e5e02e"/><rect x="124.5" y="217.0" width="1.3" height="0.8" fill="#5fbf47"/><rect x="125.5" y="217.0" width="1.3" height="0.8" fill="#22a2d8"/><rect x="126.5" y="217.0" width="1.3" height="0.8" fill="#1f47b5"/><rect x="127.5" y="217.0" width="0.8" height="0.8" fill="#1d1c78"/><rect x="128.0" y="217.0" width="0.8" height="0.8" fill="#1f47b5"/><rect x="128.5" y="217.0" width="1.3" height="0.8" fill="#1d1c78"/><rect x="85.5" y="217.5" width="0.8" height="0.8" fill="#1d1c78"/><rect x="86.0" y="217.5" width="1.8" height="0.8" fill="#1f47b5"/><rect x="87.5" y="217.5" width="1.3" height="0.8" fill="#22a2d8"/><rect x="88.5" y="217.5" width="1.8" height="0.8" fill="#5fbf47"/><rect x="90.0" y="217.5" width="3.3" height="0.8" fill="#e5e02e"/><rect x="93.0" y="217.5" width="6.3" height="0.8" fill="#f4901f"/><rect x="99.0" y="217.5" width="22.3" height="0.8" fill="#e4401d"/><rect x="121.0" y="217.5" width="2.3" height="0.8" fill="#f4901f"/><rect x="123.0" y="217.5" width="1.8" height="0.8" fill="#e5e02e"/><rect x="124.5" y="217.5" width="1.8" height="0.8" fill="#5fbf47"/><rect x="126.0" y="217.5" width="0.8" height="0.8" fill="#22a2d8"/><rect x="126.5" y="217.5" width="1.8" height="0.8" fill="#1f47b5"/><rect x="128.0" y="217.5" width="2.3" height="0.8" fill="#1d1c78"/><rect x="85.0" y="218.0" width="0.8" height="0.8" fill="#1d1c78"/><rect x="85.5" y="218.0" width="1.3" height="0.8" fill="#1f47b5"/><rect x="86.5" y="218.0" width="1.3" height="0.8" fill="#22a2d8"/><rect x="87.5" y="218.0" width="1.8" height="0.8" fill="#5fbf47"/><rect x="89.0" y="218.0" width="3.3" height="0.8" fill="#e5e02e"/><rect x="92.0" y="218.0" width="7.8" height="0.8" fill="#f4901f"/><rect x="99.5" y="218.0" width="21.3" height="0.8" fill="#e4401d"/><rect x="120.5" y="218.0" width="2.8" height="0.8" fill="#f4901f"/><rect x="123.0" y="218.0" width="1.8" height="0.8" fill="#e5e02e"/><rect x="124.5" y="218.0" width="1.8" height="0.8" fill="#5fbf47"/><rect x="126.0" y="218.0" width="1.8" height="0.8" fill="#22a2d8"/><rect x="127.5" y="218.0" width="1.3" height="0.8" fill="#1f47b5"/><rect x="128.5" y="218.0" width="0.8" height="0.8" fill="#1d1c78"/><rect x="129.5" y="218.0" width="0.8" height="0.8" fill="#1d1c78"/><rect x="84.0" y="218.5" width="1.3" height="0.8" fill="#1d1c78"/><rect x="85.0" y="218.5" width="0.8" height="0.8" fill="#1f47b5"/><rect x="85.5" y="218.5" width="1.3" height="0.8" fill="#22a2d8"/><rect x="86.5" y="218.5" width="2.3" height="0.8" fill="#5fbf47"/><rect x="88.5" y="218.5" width="3.8" height="0.8" fill="#e5e02e"/><rect x="92.0" y="218.5" width="0.8" height="0.8" fill="#f4901f"/><rect x="92.5" y="218.5" width="0.8" height="0.8" fill="#e5e02e"/><rect x="93.0" y="218.5" width="11.3" height="0.8" fill="#f4901f"/><rect x="104.0" y="218.5" width="3.3" height="0.8" fill="#e4401d"/><rect x="107.0" y="218.5" width="0.8" height="0.8" fill="#f4901f"/><rect x="107.5" y="218.5" width="2.8" height="0.8" fill="#e4401d"/><rect x="110.0" y="218.5" width="0.8" height="0.8" fill="#f4901f"/><rect x="110.5" y="218.5" width="1.8" height="0.8" fill="#e4401d"/><rect x="112.0" y="218.5" width="1.8" height="0.8" fill="#f4901f"/><rect x="113.5" y="218.5" width="1.3" height="0.8" fill="#e4401d"/><rect x="114.5" y="218.5" width="1.3" height="0.8" fill="#f4901f"/><rect x="115.5" y="218.5" width="5.3" height="0.8" fill="#e4401d"/><rect x="120.5" y="218.5" width="2.8" height="0.8" fill="#f4901f"/><rect x="123.0" y="218.5" width="1.8" height="0.8" fill="#e5e02e"/><rect x="124.5" y="218.5" width="1.8" height="0.8" fill="#5fbf47"/><rect x="126.0" y="218.5" width="1.8" height="0.8" fill="#22a2d8"/><rect x="127.5" y="218.5" width="1.3" height="0.8" fill="#1f47b5"/><rect x="128.5" y="218.5" width="1.3" height="0.8" fill="#1d1c78"/><rect x="84.0" y="219.0" width="0.8" height="0.8" fill="#1d1c78"/><rect x="84.5" y="219.0" width="1.8" height="0.8" fill="#22a2d8"/><rect x="86.0" y="219.0" width="2.8" height="0.8" fill="#5fbf47"/><rect x="88.5" y="219.0" width="6.3" height="0.8" fill="#e5e02e"/><rect x="94.5" y="219.0" width="0.8" height="0.8" fill="#f4901f"/><rect x="95.0" y="219.0" width="1.8" height="0.8" fill="#e5e02e"/><rect x="96.5" y="219.0" width="21.8" height="0.8" fill="#f4901f"/><rect x="118.0" y="219.0" width="0.8" height="0.8" fill="#e4401d"/><rect x="118.5" y="219.0" width="4.8" height="0.8" fill="#f4901f"/><rect x="123.0" y="219.0" width="1.8" height="0.8" fill="#e5e02e"/><rect x="124.5" y="219.0" width="1.8" height="0.8" fill="#5fbf47"/><rect x="126.0" y="219.0" width="1.3" height="0.8" fill="#22a2d8"/><rect x="127.0" y="219.0" width="1.8" height="0.8" fill="#1f47b5"/><rect x="128.5" y="219.0" width="1.8" height="0.8" fill="#1d1c78"/><rect x="83.5" y="219.5" width="0.8" height="0.8" fill="#1f47b5"/><rect x="84.0" y="219.5" width="1.3" height="0.8" fill="#22a2d8"/><rect x="85.0" y="219.5" width="5.3" height="0.8" fill="#5fbf47"/><rect x="90.0" y="219.5" width="0.8" height="0.8" fill="#e5e02e"/><rect x="90.5" y="219.5" width="0.8" height="0.8" fill="#5fbf47"/><rect x="91.0" y="219.5" width="14.3" height="0.8" fill="#e5e02e"/><rect x="105.0" y="219.5" width="0.8" height="0.8" fill="#f4901f"/><rect x="105.5" y="219.5" width="0.8" height="0.8" fill="#e5e02e"/><rect x="106.0" y="219.5" width="17.3" height="0.8" fill="#f4901f"/><rect x="123.0" y="219.5" width="2.3" height="0.8" fill="#e5e02e"/><rect x="125.0" y="219.5" width="1.3" height="0.8" fill="#5fbf47"/><rect x="126.0" y="219.5" width="1.8" height="0.8" fill="#22a2d8"/><rect x="127.5" y="219.5" width="1.8" height="0.8" fill="#1f47b5"/><rect x="129.0" y="219.5" width="1.3" height="0.8" fill="#1d1c78"/><rect x="83.0" y="220.0" width="0.8" height="0.8" fill="#1d1c78"/><rect x="83.5" y="220.0" width="1.3" height="0.8" fill="#22a2d8"/><rect x="84.5" y="220.0" width="17.3" height="0.8" fill="#5fbf47"/><rect x="101.5" y="220.0" width="0.8" height="0.8" fill="#e5e02e"/><rect x="102.0" y="220.0" width="0.8" height="0.8" fill="#5fbf47"/><rect x="102.5" y="220.0" width="13.8" height="0.8" fill="#e5e02e"/><rect x="116.0" y="220.0" width="7.3" height="0.8" fill="#f4901f"/><rect x="123.0" y="220.0" width="1.8" height="0.8" fill="#e5e02e"/><rect x="124.5" y="220.0" width="1.8" height="0.8" fill="#5fbf47"/><rect x="126.0" y="220.0" width="1.8" height="0.8" fill="#22a2d8"/><rect x="127.5" y="220.0" width="1.8" height="0.8" fill="#1f47b5"/><rect x="129.0" y="220.0" width="1.8" height="0.8" fill="#1d1c78"/><rect x="82.5" y="220.5" width="0.8" height="0.8" fill="#1f47b5"/><rect x="83.0" y="220.5" width="13.8" height="0.8" fill="#22a2d8"/><rect x="96.5" y="220.5" width="0.8" height="0.8" fill="#5fbf47"/><rect x="97.0" y="220.5" width="0.8" height="0.8" fill="#22a2d8"/><rect x="97.5" y="220.5" width="0.8" height="0.8" fill="#5fbf47"/><rect x="98.0" y="220.5" width="0.8" height="0.8" fill="#22a2d8"/><rect x="98.5" y="220.5" width="14.3" height="0.8" fill="#5fbf47"/><rect x="112.5" y="220.5" width="5.3" height="0.8" fill="#e5e02e"/><rect x="117.5" y="220.5" width="5.8" height="0.8" fill="#f4901f"/><rect x="123.0" y="220.5" width="1.8" height="0.8" fill="#e5e02e"/><rect x="124.5" y="220.5" width="2.3" height="0.8" fill="#5fbf47"/><rect x="126.5" y="220.5" width="1.3" height="0.8" fill="#22a2d8"/><rect x="127.5" y="220.5" width="1.3" height="0.8" fill="#1f47b5"/><rect x="128.5" y="220.5" width="1.8" height="0.8" fill="#1d1c78"/><rect x="82.5" y="221.0" width="0.8" height="0.8" fill="#22a2d8"/><rect x="83.0" y="221.0" width="0.8" height="0.8" fill="#1f47b5"/><rect x="83.5" y="221.0" width="1.3" height="0.8" fill="#22a2d8"/><rect x="84.5" y="221.0" width="3.3" height="0.8" fill="#1f47b5"/><rect x="87.5" y="221.0" width="0.8" height="0.8" fill="#22a2d8"/><rect x="88.0" y="221.0" width="3.3" height="0.8" fill="#1f47b5"/><rect x="91.0" y="221.0" width="0.8" height="0.8" fill="#22a2d8"/><rect x="91.5" y="221.0" width="1.3" height="0.8" fill="#1f47b5"/><rect x="92.5" y="221.0" width="0.8" height="0.8" fill="#22a2d8"/><rect x="93.0" y="221.0" width="1.3" height="0.8" fill="#1f47b5"/><rect x="94.0" y="221.0" width="0.8" height="0.8" fill="#22a2d8"/><rect x="94.5" y="221.0" width="1.8" height="0.8" fill="#1f47b5"/><rect x="96.0" y="221.0" width="1.8" height="0.8" fill="#22a2d8"/><rect x="97.5" y="221.0" width="0.8" height="0.8" fill="#1f47b5"/><rect x="98.0" y="221.0" width="1.3" height="0.8" fill="#22a2d8"/><rect x="99.0" y="221.0" width="0.8" height="0.8" fill="#1f47b5"/><rect x="99.5" y="221.0" width="6.8" height="0.8" fill="#22a2d8"/><rect x="106.0" y="221.0" width="0.8" height="0.8" fill="#5fbf47"/><rect x="106.5" y="221.0" width="0.8" height="0.8" fill="#22a2d8"/><rect x="107.0" y="221.0" width="8.3" height="0.8" fill="#5fbf47"/><rect x="115.0" y="221.0" width="3.8" height="0.8" fill="#e5e02e"/><rect x="118.5" y="221.0" width="4.8" height="0.8" fill="#f4901f"/><rect x="123.0" y="221.0" width="2.3" height="0.8" fill="#e5e02e"/><rect x="125.0" y="221.0" width="1.8" height="0.8" fill="#5fbf47"/><rect x="126.5" y="221.0" width="1.8" height="0.8" fill="#22a2d8"/><rect x="128.0" y="221.0" width="1.3" height="0.8" fill="#1f47b5"/><rect x="129.0" y="221.0" width="1.3" height="0.8" fill="#1d1c78"/><rect x="82.5" y="221.5" width="1.3" height="0.8" fill="#1f47b5"/><rect x="83.5" y="221.5" width="6.8" height="0.8" fill="#1d1c78"/><rect x="90.0" y="221.5" width="1.3" height="0.8" fill="#1f47b5"/><rect x="91.0" y="221.5" width="1.3" height="0.8" fill="#1d1c78"/><rect x="92.0" y="221.5" width="2.8" height="0.8" fill="#1f47b5"/><rect x="94.5" y="221.5" width="1.3" height="0.8" fill="#1d1c78"/><rect x="95.5" y="221.5" width="0.8" height="0.8" fill="#1f47b5"/><rect x="96.0" y="221.5" width="0.8" height="0.8" fill="#1d1c78"/><rect x="96.5" y="221.5" width="4.3" height="0.8" fill="#1f47b5"/><rect x="100.5" y="221.5" width="1.3" height="0.8" fill="#22a2d8"/><rect x="101.5" y="221.5" width="1.8" height="0.8" fill="#1f47b5"/><rect x="103.0" y="221.5" width="10.8" height="0.8" fill="#22a2d8"/><rect x="113.5" y="221.5" width="3.8" height="0.8" fill="#5fbf47"/><rect x="117.0" y="221.5" width="3.3" height="0.8" fill="#e5e02e"/><rect x="120.0" y="221.5" width="1.8" height="0.8" fill="#f4901f"/><rect x="121.5" y="221.5" width="0.8" height="0.8" fill="#e5e02e"/><rect x="122.0" y="221.5" width="0.8" height="0.8" fill="#f4901f"/><rect x="122.5" y="221.5" width="2.8" height="0.8" fill="#e5e02e"/><rect x="125.0" y="221.5" width="1.8" height="0.8" fill="#5fbf47"/><rect x="126.5" y="221.5" width="0.8" height="0.8" fill="#22a2d8"/><rect x="127.0" y="221.5" width="2.3" height="0.8" fill="#1f47b5"/><rect x="129.0" y="221.5" width="1.3" height="0.8" fill="#1d1c78"/><rect x="82.5" y="222.0" width="0.8" height="0.8" fill="#1f47b5"/><rect x="89.5" y="222.0" width="0.8" height="0.8" fill="#1d1c78"/><rect x="91.0" y="222.0" width="1.8" height="0.8" fill="#1d1c78"/><rect x="93.0" y="222.0" width="1.3" height="0.8" fill="#1d1c78"/><rect x="94.5" y="222.0" width="4.3" height="0.8" fill="#1d1c78"/><rect x="98.5" y="222.0" width="0.8" height="0.8" fill="#1f47b5"/><rect x="99.0" y="222.0" width="2.3" height="0.8" fill="#1d1c78"/><rect x="101.0" y="222.0" width="0.8" height="0.8" fill="#1f47b5"/><rect x="101.5" y="222.0" width="0.8" height="0.8" fill="#1d1c78"/><rect x="102.0" y="222.0" width="3.8" height="0.8" fill="#1f47b5"/><rect x="105.5" y="222.0" width="0.8" height="0.8" fill="#22a2d8"/><rect x="106.0" y="222.0" width="3.3" height="0.8" fill="#1f47b5"/><rect x="109.0" y="222.0" width="0.8" height="0.8" fill="#22a2d8"/><rect x="109.5" y="222.0" width="1.3" height="0.8" fill="#1f47b5"/><rect x="110.5" y="222.0" width="0.8" height="0.8" fill="#22a2d8"/><rect x="111.0" y="222.0" width="0.8" height="0.8" fill="#1f47b5"/><rect x="111.5" y="222.0" width="0.8" height="0.8" fill="#22a2d8"/><rect x="112.0" y="222.0" width="0.8" height="0.8" fill="#1f47b5"/><rect x="112.5" y="222.0" width="2.8" height="0.8" fill="#22a2d8"/><rect x="115.0" y="222.0" width="2.8" height="0.8" fill="#5fbf47"/><rect x="117.5" y="222.0" width="7.8" height="0.8" fill="#e5e02e"/><rect x="125.0" y="222.0" width="1.8" height="0.8" fill="#5fbf47"/><rect x="126.5" y="222.0" width="1.8" height="0.8" fill="#22a2d8"/><rect x="128.0" y="222.0" width="1.3" height="0.8" fill="#1f47b5"/><rect x="129.0" y="222.0" width="1.8" height="0.8" fill="#1d1c78"/><rect x="98.0" y="222.5" width="6.3" height="0.8" fill="#1d1c78"/><rect x="104.0" y="222.5" width="0.8" height="0.8" fill="#1f47b5"/><rect x="104.5" y="222.5" width="1.3" height="0.8" fill="#1d1c78"/><rect x="105.5" y="222.5" width="0.8" height="0.8" fill="#1f47b5"/><rect x="106.0" y="222.5" width="0.8" height="0.8" fill="#1d1c78"/><rect x="106.5" y="222.5" width="2.3" height="0.8" fill="#1f47b5"/><rect x="108.5" y="222.5" width="0.8" height="0.8" fill="#1d1c78"/><rect x="109.0" y="222.5" width="4.8" height="0.8" fill="#1f47b5"/><rect x="113.5" y="222.5" width="2.8" height="0.8" fill="#22a2d8"/><rect x="116.0" y="222.5" width="2.8" height="0.8" fill="#5fbf47"/><rect x="118.5" y="222.5" width="3.3" height="0.8" fill="#e5e02e"/><rect x="121.5" y="222.5" width="0.8" height="0.8" fill="#f4901f"/><rect x="122.0" y="222.5" width="3.8" height="0.8" fill="#e5e02e"/><rect x="125.5" y="222.5" width="1.8" height="0.8" fill="#5fbf47"/><rect x="127.0" y="222.5" width="1.8" height="0.8" fill="#22a2d8"/><rect x="128.5" y="222.5" width="1.3" height="0.8" fill="#1f47b5"/><rect x="129.5" y="222.5" width="1.3" height="0.8" fill="#1d1c78"/><rect x="103.0" y="223.0" width="0.8" height="0.8" fill="#1d1c78"/><rect x="104.0" y="223.0" width="1.3" height="0.8" fill="#1d1c78"/><rect x="105.5" y="223.0" width="4.8" height="0.8" fill="#1d1c78"/><rect x="110.0" y="223.0" width="1.3" height="0.8" fill="#1f47b5"/><rect x="111.0" y="223.0" width="1.8" height="0.8" fill="#1d1c78"/><rect x="112.5" y="223.0" width="1.8" height="0.8" fill="#1f47b5"/><rect x="114.0" y="223.0" width="1.3" height="0.8" fill="#22a2d8"/><rect x="115.0" y="223.0" width="0.8" height="0.8" fill="#1f47b5"/><rect x="115.5" y="223.0" width="1.3" height="0.8" fill="#22a2d8"/><rect x="116.5" y="223.0" width="2.3" height="0.8" fill="#5fbf47"/><rect x="118.5" y="223.0" width="3.3" height="0.8" fill="#e5e02e"/><rect x="121.5" y="223.0" width="0.8" height="0.8" fill="#f4901f"/><rect x="122.0" y="223.0" width="3.8" height="0.8" fill="#e5e02e"/><rect x="125.5" y="223.0" width="1.8" height="0.8" fill="#5fbf47"/><rect x="127.0" y="223.0" width="1.3" height="0.8" fill="#22a2d8"/><rect x="128.0" y="223.0" width="2.3" height="0.8" fill="#1f47b5"/><rect x="130.0" y="223.0" width="1.3" height="0.8" fill="#1d1c78"/><rect x="106.5" y="223.5" width="1.3" height="0.8" fill="#1d1c78"/><rect x="108.0" y="223.5" width="1.3" height="0.8" fill="#1d1c78"/><rect x="109.5" y="223.5" width="3.3" height="0.8" fill="#1d1c78"/><rect x="112.5" y="223.5" width="0.8" height="0.8" fill="#1f47b5"/><rect x="113.0" y="223.5" width="0.8" height="0.8" fill="#1d1c78"/><rect x="113.5" y="223.5" width="2.8" height="0.8" fill="#1f47b5"/><rect x="116.0" y="223.5" width="1.3" height="0.8" fill="#22a2d8"/><rect x="117.0" y="223.5" width="2.3" height="0.8" fill="#5fbf47"/><rect x="119.0" y="223.5" width="3.8" height="0.8" fill="#e5e02e"/><rect x="122.5" y="223.5" width="0.8" height="0.8" fill="#f4901f"/><rect x="123.0" y="223.5" width="2.8" height="0.8" fill="#e5e02e"/><rect x="125.5" y="223.5" width="1.8" height="0.8" fill="#5fbf47"/><rect x="127.0" y="223.5" width="2.3" height="0.8" fill="#22a2d8"/><rect x="129.0" y="223.5" width="0.8" height="0.8" fill="#1f47b5"/><rect x="129.5" y="223.5" width="1.8" height="0.8" fill="#1d1c78"/><rect x="109.5" y="224.0" width="1.8" height="0.8" fill="#1d1c78"/><rect x="111.5" y="224.0" width="2.3" height="0.8" fill="#1d1c78"/><rect x="113.5" y="224.0" width="3.3" height="0.8" fill="#1f47b5"/><rect x="116.5" y="224.0" width="1.3" height="0.8" fill="#22a2d8"/><rect x="117.5" y="224.0" width="1.8" height="0.8" fill="#5fbf47"/><rect x="119.0" y="224.0" width="2.3" height="0.8" fill="#e5e02e"/><rect x="121.0" y="224.0" width="2.3" height="0.8" fill="#f4901f"/><rect x="123.0" y="224.0" width="3.3" height="0.8" fill="#e5e02e"/><rect x="126.0" y="224.0" width="1.3" height="0.8" fill="#5fbf47"/><rect x="127.0" y="224.0" width="1.3" height="0.8" fill="#22a2d8"/><rect x="128.0" y="224.0" width="2.3" height="0.8" fill="#1f47b5"/><rect x="130.0" y="224.0" width="1.3" height="0.8" fill="#1d1c78"/><rect x="112.5" y="224.5" width="2.8" height="0.8" fill="#1d1c78"/><rect x="115.0" y="224.5" width="0.8" height="0.8" fill="#1f47b5"/><rect x="115.5" y="224.5" width="0.8" height="0.8" fill="#22a2d8"/><rect x="116.0" y="224.5" width="0.8" height="0.8" fill="#1f47b5"/><rect x="116.5" y="224.5" width="1.3" height="0.8" fill="#22a2d8"/><rect x="117.5" y="224.5" width="1.8" height="0.8" fill="#5fbf47"/><rect x="119.0" y="224.5" width="2.3" height="0.8" fill="#e5e02e"/><rect x="121.0" y="224.5" width="3.3" height="0.8" fill="#f4901f"/><rect x="124.0" y="224.5" width="2.3" height="0.8" fill="#e5e02e"/><rect x="126.0" y="224.5" width="1.8" height="0.8" fill="#5fbf47"/><rect x="127.5" y="224.5" width="1.3" height="0.8" fill="#22a2d8"/><rect x="128.5" y="224.5" width="2.3" height="0.8" fill="#1f47b5"/><rect x="130.5" y="224.5" width="0.8" height="0.8" fill="#1d1c78"/><rect x="113.5" y="225.0" width="1.8" height="0.8" fill="#1d1c78"/><rect x="115.0" y="225.0" width="1.8" height="0.8" fill="#1f47b5"/><rect x="116.5" y="225.0" width="1.3" height="0.8" fill="#22a2d8"/><rect x="117.5" y="225.0" width="1.8" height="0.8" fill="#5fbf47"/><rect x="119.0" y="225.0" width="1.8" height="0.8" fill="#e5e02e"/><rect x="120.5" y="225.0" width="4.3" height="0.8" fill="#f4901f"/><rect x="124.5" y="225.0" width="2.3" height="0.8" fill="#e5e02e"/><rect x="126.5" y="225.0" width="1.3" height="0.8" fill="#5fbf47"/><rect x="127.5" y="225.0" width="1.3" height="0.8" fill="#22a2d8"/><rect x="128.5" y="225.0" width="1.3" height="0.8" fill="#1f47b5"/><rect x="129.5" y="225.0" width="0.8" height="0.8" fill="#1d1c78"/><rect x="130.0" y="225.0" width="0.8" height="0.8" fill="#1f47b5"/><rect x="130.5" y="225.0" width="0.8" height="0.8" fill="#1d1c78"/><rect x="113.5" y="225.5" width="1.3" height="0.8" fill="#1d1c78"/><rect x="114.5" y="225.5" width="1.3" height="0.8" fill="#1f47b5"/><rect x="115.5" y="225.5" width="2.3" height="0.8" fill="#22a2d8"/><rect x="117.5" y="225.5" width="1.3" height="0.8" fill="#5fbf47"/><rect x="118.5" y="225.5" width="2.3" height="0.8" fill="#e5e02e"/><rect x="120.5" y="225.5" width="4.3" height="0.8" fill="#f4901f"/><rect x="124.5" y="225.5" width="2.3" height="0.8" fill="#e5e02e"/><rect x="126.5" y="225.5" width="1.8" height="0.8" fill="#5fbf47"/><rect x="128.0" y="225.5" width="1.8" height="0.8" fill="#22a2d8"/><rect x="129.5" y="225.5" width="1.3" height="0.8" fill="#1f47b5"/><rect x="130.5" y="225.5" width="0.8" height="0.8" fill="#1d1c78"/><rect x="113.5" y="226.0" width="2.3" height="0.8" fill="#1d1c78"/><rect x="115.5" y="226.0" width="0.8" height="0.8" fill="#1f47b5"/><rect x="116.0" y="226.0" width="1.8" height="0.8" fill="#22a2d8"/><rect x="117.5" y="226.0" width="1.3" height="0.8" fill="#5fbf47"/><rect x="118.5" y="226.0" width="2.3" height="0.8" fill="#e5e02e"/><rect x="120.5" y="226.0" width="5.3" height="0.8" fill="#f4901f"/><rect x="125.5" y="226.0" width="1.3" height="0.8" fill="#e5e02e"/><rect x="126.5" y="226.0" width="1.8" height="0.8" fill="#5fbf47"/><rect x="128.0" y="226.0" width="1.3" height="0.8" fill="#22a2d8"/><rect x="129.0" y="226.0" width="1.8" height="0.8" fill="#1f47b5"/><rect x="130.5" y="226.0" width="1.3" height="0.8" fill="#1d1c78"/><rect x="113.5" y="226.5" width="1.8" height="0.8" fill="#1d1c78"/><rect x="115.0" y="226.5" width="1.3" height="0.8" fill="#1f47b5"/><rect x="116.0" y="226.5" width="1.8" height="0.8" fill="#22a2d8"/><rect x="117.5" y="226.5" width="1.8" height="0.8" fill="#5fbf47"/><rect x="119.0" y="226.5" width="1.3" height="0.8" fill="#e5e02e"/><rect x="120.0" y="226.5" width="5.8" height="0.8" fill="#f4901f"/><rect x="125.5" y="226.5" width="1.8" height="0.8" fill="#e5e02e"/><rect x="127.0" y="226.5" width="1.3" height="0.8" fill="#5fbf47"/><rect x="128.0" y="226.5" width="1.3" height="0.8" fill="#22a2d8"/><rect x="129.0" y="226.5" width="1.8" height="0.8" fill="#1f47b5"/><rect x="130.5" y="226.5" width="1.3" height="0.8" fill="#1d1c78"/><rect x="114.0" y="227.0" width="1.3" height="0.8" fill="#1d1c78"/><rect x="115.0" y="227.0" width="1.3" height="0.8" fill="#1f47b5"/><rect x="116.0" y="227.0" width="1.8" height="0.8" fill="#22a2d8"/><rect x="117.5" y="227.0" width="1.3" height="0.8" fill="#5fbf47"/><rect x="118.5" y="227.0" width="1.8" height="0.8" fill="#e5e02e"/><rect x="120.0" y="227.0" width="5.8" height="0.8" fill="#f4901f"/><rect x="125.5" y="227.0" width="1.8" height="0.8" fill="#e5e02e"/><rect x="127.0" y="227.0" width="1.3" height="0.8" fill="#5fbf47"/><rect x="128.0" y="227.0" width="2.3" height="0.8" fill="#22a2d8"/><rect x="130.0" y="227.0" width="1.3" height="0.8" fill="#1d1c78"/><rect x="131.5" y="227.0" width="0.8" height="0.8" fill="#1d1c78"/><rect x="114.0" y="227.5" width="1.3" height="0.8" fill="#1d1c78"/><rect x="115.0" y="227.5" width="1.3" height="0.8" fill="#1f47b5"/><rect x="116.0" y="227.5" width="1.3" height="0.8" fill="#22a2d8"/><rect x="117.0" y="227.5" width="1.8" height="0.8" fill="#5fbf47"/><rect x="118.5" y="227.5" width="1.3" height="0.8" fill="#e5e02e"/><rect x="119.5" y="227.5" width="6.8" height="0.8" fill="#f4901f"/><rect x="126.0" y="227.5" width="1.3" height="0.8" fill="#e5e02e"/><rect x="127.0" y="227.5" width="1.8" height="0.8" fill="#5fbf47"/><rect x="128.5" y="227.5" width="0.8" height="0.8" fill="#22a2d8"/><rect x="129.0" y="227.5" width="1.8" height="0.8" fill="#1f47b5"/><rect x="130.5" y="227.5" width="1.3" height="0.8" fill="#1d1c78"/><rect x="113.5" y="228.0" width="2.3" height="0.8" fill="#1d1c78"/><rect x="115.5" y="228.0" width="0.8" height="0.8" fill="#1f47b5"/><rect x="116.0" y="228.0" width="1.3" height="0.8" fill="#22a2d8"/><rect x="117.0" y="228.0" width="1.8" height="0.8" fill="#5fbf47"/><rect x="118.5" y="228.0" width="1.3" height="0.8" fill="#e5e02e"/><rect x="119.5" y="228.0" width="3.3" height="0.8" fill="#f4901f"/><rect x="122.5" y="228.0" width="0.8" height="0.8" fill="#e4401d"/><rect x="123.0" y="228.0" width="3.3" height="0.8" fill="#f4901f"/><rect x="126.0" y="228.0" width="1.3" height="0.8" fill="#e5e02e"/><rect x="127.0" y="228.0" width="1.8" height="0.8" fill="#5fbf47"/><rect x="128.5" y="228.0" width="1.3" height="0.8" fill="#22a2d8"/><rect x="129.5" y="228.0" width="1.8" height="0.8" fill="#1f47b5"/><rect x="131.0" y="228.0" width="0.8" height="0.8" fill="#1d1c78"/><rect x="114.0" y="228.5" width="1.3" height="0.8" fill="#1d1c78"/><rect x="115.0" y="228.5" width="1.3" height="0.8" fill="#1f47b5"/><rect x="116.0" y="228.5" width="1.3" height="0.8" fill="#22a2d8"/><rect x="117.0" y="228.5" width="1.3" height="0.8" fill="#5fbf47"/><rect x="118.0" y="228.5" width="1.8" height="0.8" fill="#e5e02e"/><rect x="119.5" y="228.5" width="2.3" height="0.8" fill="#f4901f"/><rect x="121.5" y="228.5" width="0.8" height="0.8" fill="#e4401d"/><rect x="122.0" y="228.5" width="0.8" height="0.8" fill="#f4901f"/><rect x="122.5" y="228.5" width="1.3" height="0.8" fill="#e4401d"/><rect x="123.5" y="228.5" width="2.8" height="0.8" fill="#f4901f"/><rect x="126.0" y="228.5" width="1.8" height="0.8" fill="#e5e02e"/><rect x="127.5" y="228.5" width="1.3" height="0.8" fill="#5fbf47"/><rect x="128.5" y="228.5" width="1.3" height="0.8" fill="#22a2d8"/><rect x="129.5" y="228.5" width="1.3" height="0.8" fill="#1f47b5"/><rect x="130.5" y="228.5" width="1.8" height="0.8" fill="#1d1c78"/><rect x="114.0" y="229.0" width="0.8" height="0.8" fill="#1d1c78"/><rect x="114.5" y="229.0" width="0.8" height="0.8" fill="#1f47b5"/><rect x="115.0" y="229.0" width="0.8" height="0.8" fill="#1d1c78"/><rect x="115.5" y="229.0" width="0.8" height="0.8" fill="#1f47b5"/><rect x="116.0" y="229.0" width="1.3" height="0.8" fill="#22a2d8"/><rect x="117.0" y="229.0" width="1.3" height="0.8" fill="#5fbf47"/><rect x="118.0" y="229.0" width="1.3" height="0.8" fill="#e5e02e"/><rect x="119.0" y="229.0" width="2.3" height="0.8" fill="#f4901f"/><rect x="121.0" y="229.0" width="3.8" height="0.8" fill="#e4401d"/><rect x="124.5" y="229.0" width="2.3" height="0.8" fill="#f4901f"/><rect x="126.5" y="229.0" width="1.3" height="0.8" fill="#e5e02e"/><rect x="127.5" y="229.0" width="1.3" height="0.8" fill="#5fbf47"/><rect x="128.5" y="229.0" width="1.3" height="0.8" fill="#22a2d8"/><rect x="129.5" y="229.0" width="1.3" height="0.8" fill="#1f47b5"/><rect x="130.5" y="229.0" width="1.8" height="0.8" fill="#1d1c78"/><rect x="113.5" y="229.5" width="1.8" height="0.8" fill="#1d1c78"/><rect x="115.0" y="229.5" width="1.3" height="0.8" fill="#1f47b5"/><rect x="116.0" y="229.5" width="1.3" height="0.8" fill="#22a2d8"/><rect x="117.0" y="229.5" width="1.3" height="0.8" fill="#5fbf47"/><rect x="118.0" y="229.5" width="1.3" height="0.8" fill="#e5e02e"/><rect x="119.0" y="229.5" width="2.3" height="0.8" fill="#f4901f"/><rect x="121.0" y="229.5" width="3.8" height="0.8" fill="#e4401d"/><rect x="124.5" y="229.5" width="2.3" height="0.8" fill="#f4901f"/><rect x="126.5" y="229.5" width="1.3" height="0.8" fill="#e5e02e"/><rect x="127.5" y="229.5" width="1.3" height="0.8" fill="#5fbf47"/><rect x="128.5" y="229.5" width="1.3" height="0.8" fill="#22a2d8"/><rect x="129.5" y="229.5" width="1.8" height="0.8" fill="#1f47b5"/><rect x="131.0" y="229.5" width="0.8" height="0.8" fill="#1d1c78"/><rect x="114.0" y="230.0" width="0.8" height="0.8" fill="#1d1c78"/><rect x="114.5" y="230.0" width="1.3" height="0.8" fill="#1f47b5"/><rect x="115.5" y="230.0" width="0.8" height="0.8" fill="#22a2d8"/><rect x="116.0" y="230.0" width="0.8" height="0.8" fill="#1f47b5"/><rect x="116.5" y="230.0" width="0.8" height="0.8" fill="#22a2d8"/><rect x="117.0" y="230.0" width="1.3" height="0.8" fill="#5fbf47"/><rect x="118.0" y="230.0" width="1.8" height="0.8" fill="#e5e02e"/><rect x="119.5" y="230.0" width="2.3" height="0.8" fill="#f4901f"/><rect x="121.5" y="230.0" width="3.3" height="0.8" fill="#e4401d"/><rect x="124.5" y="230.0" width="2.3" height="0.8" fill="#f4901f"/><rect x="126.5" y="230.0" width="1.3" height="0.8" fill="#e5e02e"/><rect x="127.5" y="230.0" width="1.3" height="0.8" fill="#5fbf47"/><rect x="128.5" y="230.0" width="0.8" height="0.8" fill="#22a2d8"/><rect x="129.0" y="230.0" width="2.3" height="0.8" fill="#1f47b5"/><rect x="131.0" y="230.0" width="1.3" height="0.8" fill="#1d1c78"/><rect x="114.0" y="230.5" width="0.8" height="0.8" fill="#1d1c78"/><rect x="114.5" y="230.5" width="1.8" height="0.8" fill="#1f47b5"/><rect x="116.0" y="230.5" width="1.3" height="0.8" fill="#22a2d8"/><rect x="117.0" y="230.5" width="1.3" height="0.8" fill="#5fbf47"/><rect x="118.0" y="230.5" width="1.3" height="0.8" fill="#e5e02e"/><rect x="119.0" y="230.5" width="2.3" height="0.8" fill="#f4901f"/><rect x="121.0" y="230.5" width="3.8" height="0.8" fill="#e4401d"/><rect x="124.5" y="230.5" width="2.3" height="0.8" fill="#f4901f"/><rect x="126.5" y="230.5" width="1.3" height="0.8" fill="#e5e02e"/><rect x="127.5" y="230.5" width="1.3" height="0.8" fill="#5fbf47"/><rect x="128.5" y="230.5" width="1.3" height="0.8" fill="#22a2d8"/><rect x="129.5" y="230.5" width="1.8" height="0.8" fill="#1f47b5"/><rect x="131.0" y="230.5" width="1.3" height="0.8" fill="#1d1c78"/><rect x="113.5" y="231.0" width="1.8" height="0.8" fill="#1d1c78"/><rect x="115.0" y="231.0" width="1.3" height="0.8" fill="#1f47b5"/><rect x="116.0" y="231.0" width="1.3" height="0.8" fill="#22a2d8"/><rect x="117.0" y="231.0" width="1.3" height="0.8" fill="#5fbf47"/><rect x="118.0" y="231.0" width="1.3" height="0.8" fill="#e5e02e"/><rect x="119.0" y="231.0" width="2.3" height="0.8" fill="#f4901f"/><rect x="121.0" y="231.0" width="3.8" height="0.8" fill="#e4401d"/><rect x="124.5" y="231.0" width="2.3" height="0.8" fill="#f4901f"/><rect x="126.5" y="231.0" width="1.3" height="0.8" fill="#e5e02e"/><rect x="127.5" y="231.0" width="1.3" height="0.8" fill="#5fbf47"/><rect x="128.5" y="231.0" width="1.3" height="0.8" fill="#22a2d8"/><rect x="129.5" y="231.0" width="1.8" height="0.8" fill="#1f47b5"/><rect x="131.0" y="231.0" width="0.8" height="0.8" fill="#1d1c78"/><rect x="113.5" y="231.5" width="1.3" height="0.8" fill="#1d1c78"/><rect x="114.5" y="231.5" width="1.8" height="0.8" fill="#1f47b5"/><rect x="116.0" y="231.5" width="1.3" height="0.8" fill="#22a2d8"/><rect x="117.0" y="231.5" width="1.3" height="0.8" fill="#5fbf47"/><rect x="118.0" y="231.5" width="1.3" height="0.8" fill="#e5e02e"/><rect x="119.0" y="231.5" width="1.8" height="0.8" fill="#f4901f"/><rect x="120.5" y="231.5" width="4.3" height="0.8" fill="#e4401d"/><rect x="124.5" y="231.5" width="2.3" height="0.8" fill="#f4901f"/><rect x="126.5" y="231.5" width="1.3" height="0.8" fill="#e5e02e"/><rect x="127.5" y="231.5" width="1.3" height="0.8" fill="#5fbf47"/><rect x="128.5" y="231.5" width="1.3" height="0.8" fill="#22a2d8"/><rect x="129.5" y="231.5" width="1.8" height="0.8" fill="#1f47b5"/><rect x="131.0" y="231.5" width="0.8" height="0.8" fill="#1d1c78"/><rect x="113.5" y="232.0" width="1.8" height="0.8" fill="#1d1c78"/><rect x="115.0" y="232.0" width="0.8" height="0.8" fill="#1f47b5"/><rect x="115.5" y="232.0" width="1.8" height="0.8" fill="#22a2d8"/><rect x="117.0" y="232.0" width="1.3" height="0.8" fill="#5fbf47"/><rect x="118.0" y="232.0" width="1.3" height="0.8" fill="#e5e02e"/><rect x="119.0" y="232.0" width="2.3" height="0.8" fill="#f4901f"/><rect x="121.0" y="232.0" width="3.8" height="0.8" fill="#e4401d"/><rect x="124.5" y="232.0" width="2.3" height="0.8" fill="#f4901f"/><rect x="126.5" y="232.0" width="1.3" height="0.8" fill="#e5e02e"/><rect x="127.5" y="232.0" width="1.3" height="0.8" fill="#5fbf47"/><rect x="128.5" y="232.0" width="1.3" height="0.8" fill="#22a2d8"/><rect x="129.5" y="232.0" width="1.8" height="0.8" fill="#1f47b5"/><rect x="131.0" y="232.0" width="0.8" height="0.8" fill="#1d1c78"/><rect x="114.0" y="232.5" width="0.8" height="0.8" fill="#1d1c78"/><rect x="114.5" y="232.5" width="0.8" height="0.8" fill="#1f47b5"/><rect x="115.0" y="232.5" width="0.8" height="0.8" fill="#1d1c78"/><rect x="115.5" y="232.5" width="0.8" height="0.8" fill="#1f47b5"/><rect x="116.0" y="232.5" width="1.3" height="0.8" fill="#22a2d8"/><rect x="117.0" y="232.5" width="1.3" height="0.8" fill="#5fbf47"/><rect x="118.0" y="232.5" width="1.3" height="0.8" fill="#e5e02e"/><rect x="119.0" y="232.5" width="1.8" height="0.8" fill="#f4901f"/><rect x="120.5" y="232.5" width="4.3" height="0.8" fill="#e4401d"/><rect x="124.5" y="232.5" width="2.3" height="0.8" fill="#f4901f"/><rect x="126.5" y="232.5" width="1.3" height="0.8" fill="#e5e02e"/><rect x="127.5" y="232.5" width="1.3" height="0.8" fill="#5fbf47"/><rect x="128.5" y="232.5" width="1.3" height="0.8" fill="#22a2d8"/><rect x="129.5" y="232.5" width="0.8" height="0.8" fill="#1f47b5"/><rect x="130.0" y="232.5" width="0.8" height="0.8" fill="#22a2d8"/><rect x="130.5" y="232.5" width="0.8" height="0.8" fill="#1f47b5"/><rect x="131.0" y="232.5" width="0.8" height="0.8" fill="#1d1c78"/><rect x="114.0" y="233.0" width="0.8" height="0.8" fill="#1d1c78"/><rect x="114.5" y="233.0" width="1.3" height="0.8" fill="#1f47b5"/><rect x="115.5" y="233.0" width="1.8" height="0.8" fill="#22a2d8"/><rect x="117.0" y="233.0" width="1.3" height="0.8" fill="#5fbf47"/><rect x="118.0" y="233.0" width="1.3" height="0.8" fill="#e5e02e"/><rect x="119.0" y="233.0" width="2.3" height="0.8" fill="#f4901f"/><rect x="121.0" y="233.0" width="3.8" height="0.8" fill="#e4401d"/><rect x="124.5" y="233.0" width="2.3" height="0.8" fill="#f4901f"/><rect x="126.5" y="233.0" width="1.3" height="0.8" fill="#e5e02e"/><rect x="127.5" y="233.0" width="1.3" height="0.8" fill="#5fbf47"/><rect x="128.5" y="233.0" width="1.3" height="0.8" fill="#22a2d8"/><rect x="129.5" y="233.0" width="1.8" height="0.8" fill="#1f47b5"/><rect x="131.0" y="233.0" width="0.8" height="0.8" fill="#1d1c78"/><rect x="114.0" y="233.5" width="1.3" height="0.8" fill="#1d1c78"/><rect x="115.0" y="233.5" width="1.8" height="0.8" fill="#1f47b5"/><rect x="116.5" y="233.5" width="0.8" height="0.8" fill="#22a2d8"/><rect x="117.0" y="233.5" width="1.3" height="0.8" fill="#5fbf47"/><rect x="118.0" y="233.5" width="1.3" height="0.8" fill="#e5e02e"/><rect x="119.0" y="233.5" width="2.3" height="0.8" fill="#f4901f"/><rect x="121.0" y="233.5" width="4.3" height="0.8" fill="#e4401d"/><rect x="125.0" y="233.5" width="1.8" height="0.8" fill="#f4901f"/><rect x="126.5" y="233.5" width="1.3" height="0.8" fill="#e5e02e"/><rect x="127.5" y="233.5" width="1.3" height="0.8" fill="#5fbf47"/><rect x="128.5" y="233.5" width="1.3" height="0.8" fill="#22a2d8"/><rect x="129.5" y="233.5" width="1.8" height="0.8" fill="#1f47b5"/><rect x="131.0" y="233.5" width="0.8" height="0.8" fill="#1d1c78"/><rect x="113.5" y="234.0" width="1.8" height="0.8" fill="#1d1c78"/><rect x="115.0" y="234.0" width="0.8" height="0.8" fill="#1f47b5"/><rect x="115.5" y="234.0" width="1.8" height="0.8" fill="#22a2d8"/><rect x="117.0" y="234.0" width="1.3" height="0.8" fill="#5fbf47"/><rect x="118.0" y="234.0" width="1.3" height="0.8" fill="#e5e02e"/><rect x="119.0" y="234.0" width="2.3" height="0.8" fill="#f4901f"/><rect x="121.0" y="234.0" width="4.3" height="0.8" fill="#e4401d"/><rect x="125.0" y="234.0" width="1.8" height="0.8" fill="#f4901f"/><rect x="126.5" y="234.0" width="1.3" height="0.8" fill="#e5e02e"/><rect x="127.5" y="234.0" width="1.3" height="0.8" fill="#5fbf47"/><rect x="128.5" y="234.0" width="1.8" height="0.8" fill="#22a2d8"/><rect x="130.0" y="234.0" width="1.3" height="0.8" fill="#1f47b5"/><rect x="131.0" y="234.0" width="1.3" height="0.8" fill="#1d1c78"/><rect x="114.0" y="234.5" width="1.3" height="0.8" fill="#1d1c78"/><rect x="115.0" y="234.5" width="1.3" height="0.8" fill="#1f47b5"/><rect x="116.0" y="234.5" width="1.3" height="0.8" fill="#22a2d8"/><rect x="117.0" y="234.5" width="1.3" height="0.8" fill="#5fbf47"/><rect x="118.0" y="234.5" width="1.3" height="0.8" fill="#e5e02e"/><rect x="119.0" y="234.5" width="2.8" height="0.8" fill="#f4901f"/><rect x="121.5" y="234.5" width="3.3" height="0.8" fill="#e4401d"/><rect x="124.5" y="234.5" width="2.3" height="0.8" fill="#f4901f"/><rect x="126.5" y="234.5" width="1.3" height="0.8" fill="#e5e02e"/><rect x="127.5" y="234.5" width="1.3" height="0.8" fill="#5fbf47"/><rect x="128.5" y="234.5" width="1.8" height="0.8" fill="#22a2d8"/><rect x="130.0" y="234.5" width="0.8" height="0.8" fill="#1f47b5"/><rect x="130.5" y="234.5" width="1.3" height="0.8" fill="#1d1c78"/><rect x="114.0" y="235.0" width="1.3" height="0.8" fill="#1d1c78"/><rect x="115.0" y="235.0" width="0.8" height="0.8" fill="#1f47b5"/><rect x="115.5" y="235.0" width="1.8" height="0.8" fill="#22a2d8"/><rect x="117.0" y="235.0" width="1.3" height="0.8" fill="#5fbf47"/><rect x="118.0" y="235.0" width="1.8" height="0.8" fill="#e5e02e"/><rect x="119.5" y="235.0" width="2.3" height="0.8" fill="#f4901f"/><rect x="121.5" y="235.0" width="3.3" height="0.8" fill="#e4401d"/><rect x="124.5" y="235.0" width="2.3" height="0.8" fill="#f4901f"/><rect x="126.5" y="235.0" width="1.3" height="0.8" fill="#e5e02e"/><rect x="127.5" y="235.0" width="1.3" height="0.8" fill="#5fbf47"/><rect x="128.5" y="235.0" width="1.3" height="0.8" fill="#22a2d8"/><rect x="129.5" y="235.0" width="1.3" height="0.8" fill="#1f47b5"/><rect x="130.5" y="235.0" width="1.8" height="0.8" fill="#1d1c78"/><rect x="114.0" y="235.5" width="1.8" height="0.8" fill="#1d1c78"/><rect x="115.5" y="235.5" width="0.8" height="0.8" fill="#1f47b5"/><rect x="116.0" y="235.5" width="1.3" height="0.8" fill="#22a2d8"/><rect x="117.0" y="235.5" width="1.3" height="0.8" fill="#5fbf47"/><rect x="118.0" y="235.5" width="1.8" height="0.8" fill="#e5e02e"/><rect x="119.5" y="235.5" width="2.3" height="0.8" fill="#f4901f"/><rect x="121.5" y="235.5" width="2.8" height="0.8" fill="#e4401d"/><rect x="124.0" y="235.5" width="2.8" height="0.8" fill="#f4901f"/><rect x="126.5" y="235.5" width="1.3" height="0.8" fill="#e5e02e"/><rect x="127.5" y="235.5" width="1.3" height="0.8" fill="#5fbf47"/><rect x="128.5" y="235.5" width="1.8" height="0.8" fill="#22a2d8"/><rect x="130.0" y="235.5" width="0.8" height="0.8" fill="#1f47b5"/><rect x="130.5" y="235.5" width="1.8" height="0.8" fill="#1d1c78"/><rect x="113.5" y="236.0" width="2.3" height="0.8" fill="#1d1c78"/><rect x="115.5" y="236.0" width="1.3" height="0.8" fill="#1f47b5"/><rect x="116.5" y="236.0" width="0.8" height="0.8" fill="#22a2d8"/><rect x="117.0" y="236.0" width="1.8" height="0.8" fill="#5fbf47"/><rect x="118.5" y="236.0" width="1.3" height="0.8" fill="#e5e02e"/><rect x="119.5" y="236.0" width="2.3" height="0.8" fill="#f4901f"/><rect x="121.5" y="236.0" width="2.3" height="0.8" fill="#e4401d"/><rect x="123.5" y="236.0" width="2.8" height="0.8" fill="#f4901f"/><rect x="126.0" y="236.0" width="1.8" height="0.8" fill="#e5e02e"/><rect x="127.5" y="236.0" width="1.3" height="0.8" fill="#5fbf47"/><rect x="128.5" y="236.0" width="0.8" height="0.8" fill="#22a2d8"/><rect x="129.0" y="236.0" width="2.3" height="0.8" fill="#1f47b5"/><rect x="131.0" y="236.0" width="1.3" height="0.8" fill="#1d1c78"/><rect x="113.5" y="236.5" width="2.3" height="0.8" fill="#1d1c78"/><rect x="115.5" y="236.5" width="0.8" height="0.8" fill="#1f47b5"/><rect x="116.0" y="236.5" width="1.3" height="0.8" fill="#22a2d8"/><rect x="117.0" y="236.5" width="1.8" height="0.8" fill="#5fbf47"/><rect x="118.5" y="236.5" width="1.3" height="0.8" fill="#e5e02e"/><rect x="119.5" y="236.5" width="2.3" height="0.8" fill="#f4901f"/><rect x="121.5" y="236.5" width="0.8" height="0.8" fill="#e4401d"/><rect x="122.0" y="236.5" width="0.8" height="0.8" fill="#f4901f"/><rect x="122.5" y="236.5" width="1.3" height="0.8" fill="#e4401d"/><rect x="123.5" y="236.5" width="2.8" height="0.8" fill="#f4901f"/><rect x="126.0" y="236.5" width="1.8" height="0.8" fill="#e5e02e"/><rect x="127.5" y="236.5" width="1.3" height="0.8" fill="#5fbf47"/><rect x="128.5" y="236.5" width="1.3" height="0.8" fill="#22a2d8"/><rect x="129.5" y="236.5" width="1.3" height="0.8" fill="#1f47b5"/><rect x="130.5" y="236.5" width="1.3" height="0.8" fill="#1d1c78"/><rect x="113.5" y="237.0" width="1.8" height="0.8" fill="#1d1c78"/><rect x="115.0" y="237.0" width="1.3" height="0.8" fill="#1f47b5"/><rect x="116.0" y="237.0" width="1.8" height="0.8" fill="#22a2d8"/><rect x="117.5" y="237.0" width="1.3" height="0.8" fill="#5fbf47"/><rect x="118.5" y="237.0" width="1.3" height="0.8" fill="#e5e02e"/><rect x="119.5" y="237.0" width="6.8" height="0.8" fill="#f4901f"/><rect x="126.0" y="237.0" width="1.8" height="0.8" fill="#e5e02e"/><rect x="127.5" y="237.0" width="1.3" height="0.8" fill="#5fbf47"/><rect x="128.5" y="237.0" width="1.3" height="0.8" fill="#22a2d8"/><rect x="129.5" y="237.0" width="1.3" height="0.8" fill="#1f47b5"/><rect x="130.5" y="237.0" width="1.3" height="0.8" fill="#1d1c78"/><rect x="114.5" y="237.5" width="0.8" height="0.8" fill="#1d1c78"/><rect x="115.0" y="237.5" width="2.3" height="0.8" fill="#1f47b5"/><rect x="117.0" y="237.5" width="0.8" height="0.8" fill="#22a2d8"/><rect x="117.5" y="237.5" width="1.3" height="0.8" fill="#5fbf47"/><rect x="118.5" y="237.5" width="1.8" height="0.8" fill="#e5e02e"/><rect x="120.0" y="237.5" width="6.3" height="0.8" fill="#f4901f"/><rect x="126.0" y="237.5" width="1.3" height="0.8" fill="#e5e02e"/><rect x="127.0" y="237.5" width="1.8" height="0.8" fill="#5fbf47"/><rect x="128.5" y="237.5" width="1.3" height="0.8" fill="#22a2d8"/><rect x="129.5" y="237.5" width="1.3" height="0.8" fill="#1f47b5"/><rect x="130.5" y="237.5" width="1.3" height="0.8" fill="#1d1c78"/><rect x="114.0" y="238.0" width="1.3" height="0.8" fill="#1d1c78"/><rect x="115.0" y="238.0" width="1.3" height="0.8" fill="#1f47b5"/><rect x="116.0" y="238.0" width="1.8" height="0.8" fill="#22a2d8"/><rect x="117.5" y="238.0" width="1.3" height="0.8" fill="#5fbf47"/><rect x="118.5" y="238.0" width="1.8" height="0.8" fill="#e5e02e"/><rect x="120.0" y="238.0" width="5.8" height="0.8" fill="#f4901f"/><rect x="125.5" y="238.0" width="1.8" height="0.8" fill="#e5e02e"/><rect x="127.0" y="238.0" width="1.3" height="0.8" fill="#5fbf47"/><rect x="128.0" y="238.0" width="1.8" height="0.8" fill="#22a2d8"/><rect x="129.5" y="238.0" width="1.3" height="0.8" fill="#1f47b5"/><rect x="130.5" y="238.0" width="0.8" height="0.8" fill="#1d1c78"/><rect x="114.5" y="238.5" width="1.3" height="0.8" fill="#1d1c78"/><rect x="115.5" y="238.5" width="0.8" height="0.8" fill="#1f47b5"/><rect x="116.0" y="238.5" width="1.8" height="0.8" fill="#22a2d8"/><rect x="117.5" y="238.5" width="1.8" height="0.8" fill="#5fbf47"/><rect x="119.0" y="238.5" width="1.3" height="0.8" fill="#e5e02e"/><rect x="120.0" y="238.5" width="5.8" height="0.8" fill="#f4901f"/><rect x="125.5" y="238.5" width="1.8" height="0.8" fill="#e5e02e"/><rect x="127.0" y="238.5" width="1.3" height="0.8" fill="#5fbf47"/><rect x="128.0" y="238.5" width="1.8" height="0.8" fill="#22a2d8"/><rect x="129.5" y="238.5" width="1.3" height="0.8" fill="#1f47b5"/><rect x="130.5" y="238.5" width="1.3" height="0.8" fill="#1d1c78"/><rect x="114.0" y="239.0" width="1.8" height="0.8" fill="#1d1c78"/><rect x="115.5" y="239.0" width="1.3" height="0.8" fill="#1f47b5"/><rect x="116.5" y="239.0" width="1.3" height="0.8" fill="#22a2d8"/><rect x="117.5" y="239.0" width="1.8" height="0.8" fill="#5fbf47"/><rect x="119.0" y="239.0" width="1.8" height="0.8" fill="#e5e02e"/><rect x="120.5" y="239.0" width="5.3" height="0.8" fill="#f4901f"/><rect x="125.5" y="239.0" width="1.8" height="0.8" fill="#e5e02e"/><rect x="127.0" y="239.0" width="1.3" height="0.8" fill="#5fbf47"/><rect x="128.0" y="239.0" width="1.3" height="0.8" fill="#22a2d8"/><rect x="129.0" y="239.0" width="1.8" height="0.8" fill="#1f47b5"/><rect x="130.5" y="239.0" width="1.3" height="0.8" fill="#1d1c78"/><rect x="114.5" y="239.5" width="0.8" height="0.8" fill="#1d1c78"/><rect x="115.0" y="239.5" width="2.3" height="0.8" fill="#1f47b5"/><rect x="117.0" y="239.5" width="1.3" height="0.8" fill="#22a2d8"/><rect x="118.0" y="239.5" width="1.3" height="0.8" fill="#5fbf47"/><rect x="119.0" y="239.5" width="1.8" height="0.8" fill="#e5e02e"/><rect x="120.5" y="239.5" width="4.8" height="0.8" fill="#f4901f"/><rect x="125.0" y="239.5" width="2.3" height="0.8" fill="#e5e02e"/><rect x="127.0" y="239.5" width="1.3" height="0.8" fill="#5fbf47"/><rect x="128.0" y="239.5" width="1.8" height="0.8" fill="#22a2d8"/><rect x="129.5" y="239.5" width="2.3" height="0.8" fill="#1d1c78"/><rect x="114.0" y="240.0" width="0.8" height="0.8" fill="#1d1c78"/><rect x="115.0" y="240.0" width="0.8" height="0.8" fill="#1d1c78"/><rect x="115.5" y="240.0" width="1.3" height="0.8" fill="#1f47b5"/><rect x="116.5" y="240.0" width="0.8" height="0.8" fill="#22a2d8"/><rect x="117.0" y="240.0" width="0.8" height="0.8" fill="#1f47b5"/><rect x="117.5" y="240.0" width="0.8" height="0.8" fill="#22a2d8"/><rect x="118.0" y="240.0" width="1.3" height="0.8" fill="#5fbf47"/><rect x="119.0" y="240.0" width="2.3" height="0.8" fill="#e5e02e"/><rect x="121.0" y="240.0" width="4.8" height="0.8" fill="#f4901f"/><rect x="125.5" y="240.0" width="1.3" height="0.8" fill="#e5e02e"/><rect x="126.5" y="240.0" width="1.3" height="0.8" fill="#5fbf47"/><rect x="127.5" y="240.0" width="2.3" height="0.8" fill="#22a2d8"/><rect x="129.5" y="240.0" width="1.8" height="0.8" fill="#1d1c78"/><rect x="114.0" y="240.5" width="1.8" height="0.8" fill="#1d1c78"/><rect x="115.5" y="240.5" width="0.8" height="0.8" fill="#1f47b5"/><rect x="116.0" y="240.5" width="0.8" height="0.8" fill="#1d1c78"/><rect x="116.5" y="240.5" width="0.8" height="0.8" fill="#1f47b5"/><rect x="117.0" y="240.5" width="1.3" height="0.8" fill="#22a2d8"/><rect x="118.0" y="240.5" width="1.8" height="0.8" fill="#5fbf47"/><rect x="119.5" y="240.5" width="1.8" height="0.8" fill="#e5e02e"/><rect x="121.0" y="240.5" width="4.3" height="0.8" fill="#f4901f"/><rect x="125.0" y="240.5" width="1.8" height="0.8" fill="#e5e02e"/><rect x="126.5" y="240.5" width="1.3" height="0.8" fill="#5fbf47"/><rect x="127.5" y="240.5" width="1.8" height="0.8" fill="#22a2d8"/><rect x="129.0" y="240.5" width="1.3" height="0.8" fill="#1f47b5"/><rect x="130.0" y="240.5" width="1.3" height="0.8" fill="#1d1c78"/><rect x="114.5" y="241.0" width="1.8" height="0.8" fill="#1d1c78"/><rect x="116.0" y="241.0" width="0.8" height="0.8" fill="#1f47b5"/><rect x="116.5" y="241.0" width="0.8" height="0.8" fill="#22a2d8"/><rect x="117.0" y="241.0" width="0.8" height="0.8" fill="#1f47b5"/><rect x="117.5" y="241.0" width="1.3" height="0.8" fill="#22a2d8"/><rect x="118.5" y="241.0" width="1.3" height="0.8" fill="#5fbf47"/><rect x="119.5" y="241.0" width="2.3" height="0.8" fill="#e5e02e"/><rect x="121.5" y="241.0" width="3.3" height="0.8" fill="#f4901f"/><rect x="124.5" y="241.0" width="2.3" height="0.8" fill="#e5e02e"/><rect x="126.5" y="241.0" width="1.3" height="0.8" fill="#5fbf47"/><rect x="127.5" y="241.0" width="1.8" height="0.8" fill="#22a2d8"/><rect x="129.0" y="241.0" width="1.3" height="0.8" fill="#1f47b5"/><rect x="130.0" y="241.0" width="1.3" height="0.8" fill="#1d1c78"/><rect x="114.5" y="241.5" width="1.8" height="0.8" fill="#1d1c78"/><rect x="116.0" y="241.5" width="1.3" height="0.8" fill="#1f47b5"/><rect x="117.0" y="241.5" width="1.8" height="0.8" fill="#22a2d8"/><rect x="118.5" y="241.5" width="1.8" height="0.8" fill="#5fbf47"/><rect x="120.0" y="241.5" width="2.3" height="0.8" fill="#e5e02e"/><rect x="122.0" y="241.5" width="2.8" height="0.8" fill="#f4901f"/><rect x="124.5" y="241.5" width="2.3" height="0.8" fill="#e5e02e"/><rect x="126.5" y="241.5" width="1.3" height="0.8" fill="#5fbf47"/><rect x="127.5" y="241.5" width="1.8" height="0.8" fill="#22a2d8"/><rect x="129.0" y="241.5" width="0.8" height="0.8" fill="#1f47b5"/><rect x="129.5" y="241.5" width="1.3" height="0.8" fill="#1d1c78"/><rect x="114.5" y="242.0" width="2.3" height="0.8" fill="#1d1c78"/><rect x="116.5" y="242.0" width="0.8" height="0.8" fill="#1f47b5"/><rect x="117.0" y="242.0" width="1.8" height="0.8" fill="#22a2d8"/><rect x="118.5" y="242.0" width="1.8" height="0.8" fill="#5fbf47"/><rect x="120.0" y="242.0" width="2.3" height="0.8" fill="#e5e02e"/><rect x="122.0" y="242.0" width="2.8" height="0.8" fill="#f4901f"/><rect x="124.5" y="242.0" width="1.8" height="0.8" fill="#e5e02e"/><rect x="126.0" y="242.0" width="1.8" height="0.8" fill="#5fbf47"/><rect x="127.5" y="242.0" width="1.3" height="0.8" fill="#22a2d8"/><rect x="128.5" y="242.0" width="1.3" height="0.8" fill="#1f47b5"/><rect x="129.5" y="242.0" width="1.3" height="0.8" fill="#1d1c78"/><rect x="114.5" y="242.5" width="2.8" height="0.8" fill="#1d1c78"/><rect x="117.0" y="242.5" width="1.3" height="0.8" fill="#1f47b5"/><rect x="118.0" y="242.5" width="1.3" height="0.8" fill="#22a2d8"/><rect x="119.0" y="242.5" width="1.3" height="0.8" fill="#5fbf47"/><rect x="120.0" y="242.5" width="2.8" height="0.8" fill="#e5e02e"/><rect x="122.5" y="242.5" width="2.3" height="0.8" fill="#f4901f"/><rect x="124.5" y="242.5" width="1.8" height="0.8" fill="#e5e02e"/><rect x="126.0" y="242.5" width="1.8" height="0.8" fill="#5fbf47"/><rect x="127.5" y="242.5" width="1.3" height="0.8" fill="#22a2d8"/><rect x="128.5" y="242.5" width="1.8" height="0.8" fill="#1f47b5"/><rect x="130.0" y="242.5" width="0.8" height="0.8" fill="#1d1c78"/><rect x="115.0" y="243.0" width="1.3" height="0.8" fill="#1d1c78"/><rect x="116.0" y="243.0" width="2.3" height="0.8" fill="#1f47b5"/><rect x="118.0" y="243.0" width="1.3" height="0.8" fill="#22a2d8"/><rect x="119.0" y="243.0" width="1.8" height="0.8" fill="#5fbf47"/><rect x="120.5" y="243.0" width="2.3" height="0.8" fill="#e5e02e"/><rect x="122.5" y="243.0" width="1.8" height="0.8" fill="#f4901f"/><rect x="124.0" y="243.0" width="2.3" height="0.8" fill="#e5e02e"/><rect x="126.0" y="243.0" width="1.3" height="0.8" fill="#5fbf47"/><rect x="127.0" y="243.0" width="1.3" height="0.8" fill="#22a2d8"/><rect x="128.0" y="243.0" width="1.3" height="0.8" fill="#1f47b5"/><rect x="129.0" y="243.0" width="1.8" height="0.8" fill="#1d1c78"/><rect x="115.0" y="243.5" width="1.8" height="0.8" fill="#1d1c78"/><rect x="116.5" y="243.5" width="2.3" height="0.8" fill="#1f47b5"/><rect x="118.5" y="243.5" width="0.8" height="0.8" fill="#22a2d8"/><rect x="119.0" y="243.5" width="1.8" height="0.8" fill="#5fbf47"/><rect x="120.5" y="243.5" width="3.3" height="0.8" fill="#e5e02e"/><rect x="123.5" y="243.5" width="0.8" height="0.8" fill="#f4901f"/><rect x="124.0" y="243.5" width="2.3" height="0.8" fill="#e5e02e"/><rect x="126.0" y="243.5" width="1.3" height="0.8" fill="#5fbf47"/><rect x="127.0" y="243.5" width="1.8" height="0.8" fill="#22a2d8"/><rect x="128.5" y="243.5" width="0.8" height="0.8" fill="#1f47b5"/><rect x="129.0" y="243.5" width="1.3" height="0.8" fill="#1d1c78"/><rect x="130.5" y="243.5" width="0.8" height="0.8" fill="#1d1c78"/><rect x="115.0" y="244.0" width="0.8" height="0.8" fill="#1d1c78"/><rect x="116.0" y="244.0" width="1.3" height="0.8" fill="#1d1c78"/><rect x="117.0" y="244.0" width="1.3" height="0.8" fill="#1f47b5"/><rect x="118.0" y="244.0" width="1.8" height="0.8" fill="#22a2d8"/><rect x="119.5" y="244.0" width="1.8" height="0.8" fill="#5fbf47"/><rect x="121.0" y="244.0" width="4.8" height="0.8" fill="#e5e02e"/><rect x="125.5" y="244.0" width="1.8" height="0.8" fill="#5fbf47"/><rect x="127.0" y="244.0" width="0.8" height="0.8" fill="#22a2d8"/><rect x="127.5" y="244.0" width="0.8" height="0.8" fill="#1f47b5"/><rect x="128.0" y="244.0" width="0.8" height="0.8" fill="#22a2d8"/><rect x="128.5" y="244.0" width="0.8" height="0.8" fill="#1f47b5"/><rect x="129.0" y="244.0" width="1.3" height="0.8" fill="#1d1c78"/><rect x="116.0" y="244.5" width="1.3" height="0.8" fill="#1d1c78"/><rect x="117.0" y="244.5" width="0.8" height="0.8" fill="#1f47b5"/><rect x="117.5" y="244.5" width="0.8" height="0.8" fill="#22a2d8"/><rect x="118.0" y="244.5" width="1.3" height="0.8" fill="#1f47b5"/><rect x="119.0" y="244.5" width="0.8" height="0.8" fill="#22a2d8"/><rect x="119.5" y="244.5" width="1.8" height="0.8" fill="#5fbf47"/><rect x="121.0" y="244.5" width="4.8" height="0.8" fill="#e5e02e"/><rect x="125.5" y="244.5" width="1.8" height="0.8" fill="#5fbf47"/><rect x="127.0" y="244.5" width="1.3" height="0.8" fill="#22a2d8"/><rect x="128.0" y="244.5" width="1.3" height="0.8" fill="#1f47b5"/><rect x="129.0" y="244.5" width="1.3" height="0.8" fill="#1d1c78"/><rect x="116.0" y="245.0" width="1.3" height="0.8" fill="#1d1c78"/><rect x="117.0" y="245.0" width="1.8" height="0.8" fill="#1f47b5"/><rect x="118.5" y="245.0" width="1.3" height="0.8" fill="#22a2d8"/><rect x="119.5" y="245.0" width="1.8" height="0.8" fill="#5fbf47"/><rect x="121.0" y="245.0" width="4.8" height="0.8" fill="#e5e02e"/><rect x="125.5" y="245.0" width="1.3" height="0.8" fill="#5fbf47"/><rect x="126.5" y="245.0" width="1.8" height="0.8" fill="#22a2d8"/><rect x="128.0" y="245.0" width="1.3" height="0.8" fill="#1f47b5"/><rect x="129.0" y="245.0" width="0.8" height="0.8" fill="#1d1c78"/><rect x="116.0" y="245.5" width="1.8" height="0.8" fill="#1d1c78"/><rect x="117.5" y="245.5" width="1.8" height="0.8" fill="#1f47b5"/><rect x="119.0" y="245.5" width="1.3" height="0.8" fill="#22a2d8"/><rect x="120.0" y="245.5" width="1.3" height="0.8" fill="#5fbf47"/><rect x="121.0" y="245.5" width="4.8" height="0.8" fill="#e5e02e"/><rect x="125.5" y="245.5" width="1.3" height="0.8" fill="#5fbf47"/><rect x="126.5" y="245.5" width="1.8" height="0.8" fill="#22a2d8"/><rect x="128.0" y="245.5" width="1.3" height="0.8" fill="#1f47b5"/><rect x="129.0" y="245.5" width="1.3" height="0.8" fill="#1d1c78"/><rect x="116.0" y="246.0" width="2.3" height="0.8" fill="#1d1c78"/><rect x="118.0" y="246.0" width="0.8" height="0.8" fill="#1f47b5"/><rect x="118.5" y="246.0" width="1.8" height="0.8" fill="#22a2d8"/><rect x="120.0" y="246.0" width="1.8" height="0.8" fill="#5fbf47"/><rect x="121.5" y="246.0" width="3.8" height="0.8" fill="#e5e02e"/><rect x="125.0" y="246.0" width="1.8" height="0.8" fill="#5fbf47"/><rect x="126.5" y="246.0" width="1.3" height="0.8" fill="#22a2d8"/><rect x="127.5" y="246.0" width="1.3" height="0.8" fill="#1f47b5"/><rect x="128.5" y="246.0" width="1.8" height="0.8" fill="#1d1c78"/><rect x="116.5" y="246.5" width="1.8" height="0.8" fill="#1d1c78"/><rect x="118.0" y="246.5" width="0.8" height="0.8" fill="#1f47b5"/><rect x="118.5" y="246.5" width="1.8" height="0.8" fill="#22a2d8"/><rect x="120.0" y="246.5" width="1.8" height="0.8" fill="#5fbf47"/><rect x="121.5" y="246.5" width="3.8" height="0.8" fill="#e5e02e"/><rect x="125.0" y="246.5" width="1.8" height="0.8" fill="#5fbf47"/><rect x="126.5" y="246.5" width="1.8" height="0.8" fill="#22a2d8"/><rect x="128.0" y="246.5" width="0.8" height="0.8" fill="#1f47b5"/><rect x="128.5" y="246.5" width="1.8" height="0.8" fill="#1d1c78"/><rect x="116.5" y="247.0" width="1.3" height="0.8" fill="#1d1c78"/><rect x="117.5" y="247.0" width="1.8" height="0.8" fill="#1f47b5"/><rect x="119.0" y="247.0" width="1.8" height="0.8" fill="#22a2d8"/><rect x="120.5" y="247.0" width="1.8" height="0.8" fill="#5fbf47"/><rect x="122.0" y="247.0" width="3.3" height="0.8" fill="#e5e02e"/><rect x="125.0" y="247.0" width="1.8" height="0.8" fill="#5fbf47"/><rect x="126.5" y="247.0" width="1.8" height="0.8" fill="#22a2d8"/><rect x="128.0" y="247.0" width="0.8" height="0.8" fill="#1d1c78"/><rect x="128.5" y="247.0" width="0.8" height="0.8" fill="#1f47b5"/><rect x="129.0" y="247.0" width="0.8" height="0.8" fill="#1d1c78"/><rect x="117.0" y="247.5" width="1.8" height="0.8" fill="#1d1c78"/><rect x="118.5" y="247.5" width="0.8" height="0.8" fill="#1f47b5"/><rect x="119.0" y="247.5" width="1.8" height="0.8" fill="#22a2d8"/><rect x="120.5" y="247.5" width="2.3" height="0.8" fill="#5fbf47"/><rect x="122.5" y="247.5" width="2.8" height="0.8" fill="#e5e02e"/><rect x="125.0" y="247.5" width="1.3" height="0.8" fill="#5fbf47"/><rect x="126.0" y="247.5" width="1.3" height="0.8" fill="#22a2d8"/><rect x="127.0" y="247.5" width="1.3" height="0.8" fill="#1f47b5"/><rect x="128.0" y="247.5" width="0.8" height="0.8" fill="#1d1c78"/><rect x="128.5" y="247.5" width="0.8" height="0.8" fill="#1f47b5"/><rect x="129.0" y="247.5" width="1.3" height="0.8" fill="#1d1c78"/><rect x="116.5" y="248.0" width="1.8" height="0.8" fill="#1d1c78"/><rect x="118.0" y="248.0" width="1.3" height="0.8" fill="#1f47b5"/><rect x="119.0" y="248.0" width="1.8" height="0.8" fill="#22a2d8"/><rect x="120.5" y="248.0" width="2.3" height="0.8" fill="#5fbf47"/><rect x="122.5" y="248.0" width="2.3" height="0.8" fill="#e5e02e"/><rect x="124.5" y="248.0" width="2.3" height="0.8" fill="#5fbf47"/><rect x="126.5" y="248.0" width="1.8" height="0.8" fill="#22a2d8"/><rect x="128.0" y="248.0" width="0.8" height="0.8" fill="#1f47b5"/><rect x="128.5" y="248.0" width="1.3" height="0.8" fill="#1d1c78"/><rect x="117.5" y="248.5" width="1.3" height="0.8" fill="#1d1c78"/><rect x="118.5" y="248.5" width="1.3" height="0.8" fill="#1f47b5"/><rect x="119.5" y="248.5" width="1.8" height="0.8" fill="#22a2d8"/><rect x="121.0" y="248.5" width="2.3" height="0.8" fill="#5fbf47"/><rect x="123.0" y="248.5" width="1.8" height="0.8" fill="#e5e02e"/><rect x="124.5" y="248.5" width="1.8" height="0.8" fill="#5fbf47"/><rect x="126.0" y="248.5" width="1.3" height="0.8" fill="#22a2d8"/><rect x="127.0" y="248.5" width="1.8" height="0.8" fill="#1f47b5"/><rect x="128.5" y="248.5" width="0.8" height="0.8" fill="#1d1c78"/><rect x="117.5" y="249.0" width="1.3" height="0.8" fill="#1d1c78"/><rect x="118.5" y="249.0" width="1.3" height="0.8" fill="#1f47b5"/><rect x="119.5" y="249.0" width="1.8" height="0.8" fill="#22a2d8"/><rect x="121.0" y="249.0" width="5.3" height="0.8" fill="#5fbf47"/><rect x="126.0" y="249.0" width="1.8" height="0.8" fill="#22a2d8"/><rect x="127.5" y="249.0" width="1.3" height="0.8" fill="#1f47b5"/><rect x="128.5" y="249.0" width="0.8" height="0.8" fill="#1d1c78"/><rect x="117.5" y="249.5" width="1.8" height="0.8" fill="#1d1c78"/><rect x="119.0" y="249.5" width="0.8" height="0.8" fill="#1f47b5"/><rect x="119.5" y="249.5" width="2.3" height="0.8" fill="#22a2d8"/><rect x="121.5" y="249.5" width="4.3" height="0.8" fill="#5fbf47"/><rect x="125.5" y="249.5" width="1.8" height="0.8" fill="#22a2d8"/><rect x="127.0" y="249.5" width="0.8" height="0.8" fill="#1f47b5"/><rect x="127.5" y="249.5" width="1.8" height="0.8" fill="#1d1c78"/><rect x="118.0" y="250.0" width="1.3" height="0.8" fill="#1d1c78"/><rect x="119.0" y="250.0" width="1.8" height="0.8" fill="#1f47b5"/><rect x="120.5" y="250.0" width="1.3" height="0.8" fill="#22a2d8"/><rect x="121.5" y="250.0" width="4.3" height="0.8" fill="#5fbf47"/><rect x="125.5" y="250.0" width="1.3" height="0.8" fill="#22a2d8"/><rect x="126.5" y="250.0" width="1.8" height="0.8" fill="#1f47b5"/><rect x="128.0" y="250.0" width="1.3" height="0.8" fill="#1d1c78"/><rect x="117.5" y="250.5" width="1.3" height="0.8" fill="#1d1c78"/><rect x="118.5" y="250.5" width="0.8" height="0.8" fill="#1f47b5"/><rect x="119.0" y="250.5" width="0.8" height="0.8" fill="#1d1c78"/><rect x="119.5" y="250.5" width="1.8" height="0.8" fill="#1f47b5"/><rect x="121.0" y="250.5" width="1.3" height="0.8" fill="#22a2d8"/><rect x="122.0" y="250.5" width="3.3" height="0.8" fill="#5fbf47"/><rect x="125.0" y="250.5" width="1.3" height="0.8" fill="#22a2d8"/><rect x="126.0" y="250.5" width="2.3" height="0.8" fill="#1f47b5"/><rect x="128.0" y="250.5" width="1.3" height="0.8" fill="#1d1c78"/><rect x="118.0" y="251.0" width="1.3" height="0.8" fill="#1d1c78"/><rect x="119.0" y="251.0" width="1.8" height="0.8" fill="#1f47b5"/><rect x="120.5" y="251.0" width="1.8" height="0.8" fill="#22a2d8"/><rect x="122.0" y="251.0" width="2.8" height="0.8" fill="#5fbf47"/><rect x="124.5" y="251.0" width="1.8" height="0.8" fill="#22a2d8"/><rect x="126.0" y="251.0" width="1.8" height="0.8" fill="#1f47b5"/><rect x="127.5" y="251.0" width="1.3" height="0.8" fill="#1d1c78"/><rect x="118.0" y="251.5" width="0.8" height="0.8" fill="#1d1c78"/><rect x="119.0" y="251.5" width="0.8" height="0.8" fill="#1d1c78"/><rect x="119.5" y="251.5" width="2.3" height="0.8" fill="#1f47b5"/><rect x="121.5" y="251.5" width="2.3" height="0.8" fill="#22a2d8"/><rect x="123.5" y="251.5" width="0.8" height="0.8" fill="#5fbf47"/><rect x="124.0" y="251.5" width="2.8" height="0.8" fill="#22a2d8"/><rect x="126.5" y="251.5" width="1.3" height="0.8" fill="#1f47b5"/><rect x="127.5" y="251.5" width="1.8" height="0.8" fill="#1d1c78"/><rect x="118.5" y="252.0" width="1.8" height="0.8" fill="#1d1c78"/><rect x="120.0" y="252.0" width="1.3" height="0.8" fill="#1f47b5"/><rect x="121.0" y="252.0" width="4.8" height="0.8" fill="#22a2d8"/><rect x="125.5" y="252.0" width="1.8" height="0.8" fill="#1f47b5"/><rect x="127.0" y="252.0" width="1.8" height="0.8" fill="#1d1c78"/><rect x="118.5" y="252.5" width="1.3" height="0.8" fill="#1d1c78"/><rect x="119.5" y="252.5" width="3.3" height="0.8" fill="#1f47b5"/><rect x="122.5" y="252.5" width="2.3" height="0.8" fill="#22a2d8"/><rect x="124.5" y="252.5" width="0.8" height="0.8" fill="#1f47b5"/><rect x="125.0" y="252.5" width="1.3" height="0.8" fill="#22a2d8"/><rect x="126.0" y="252.5" width="1.3" height="0.8" fill="#1f47b5"/><rect x="127.0" y="252.5" width="1.3" height="0.8" fill="#1d1c78"/><rect x="119.0" y="253.0" width="1.3" height="0.8" fill="#1d1c78"/><rect x="120.0" y="253.0" width="1.8" height="0.8" fill="#1f47b5"/><rect x="121.5" y="253.0" width="3.8" height="0.8" fill="#22a2d8"/><rect x="125.0" y="253.0" width="2.3" height="0.8" fill="#1f47b5"/><rect x="127.0" y="253.0" width="1.8" height="0.8" fill="#1d1c78"/><rect x="118.5" y="253.5" width="2.8" height="0.8" fill="#1d1c78"/><rect x="121.0" y="253.5" width="1.8" height="0.8" fill="#1f47b5"/><rect x="122.5" y="253.5" width="0.8" height="0.8" fill="#22a2d8"/><rect x="123.0" y="253.5" width="0.8" height="0.8" fill="#1f47b5"/><rect x="123.5" y="253.5" width="1.3" height="0.8" fill="#22a2d8"/><rect x="124.5" y="253.5" width="0.8" height="0.8" fill="#1f47b5"/><rect x="125.0" y="253.5" width="0.8" height="0.8" fill="#22a2d8"/><rect x="125.5" y="253.5" width="1.3" height="0.8" fill="#1f47b5"/><rect x="126.5" y="253.5" width="2.3" height="0.8" fill="#1d1c78"/><rect x="119.5" y="254.0" width="1.8" height="0.8" fill="#1d1c78"/><rect x="121.0" y="254.0" width="0.8" height="0.8" fill="#1f47b5"/><rect x="121.5" y="254.0" width="0.8" height="0.8" fill="#1d1c78"/><rect x="122.0" y="254.0" width="0.8" height="0.8" fill="#1f47b5"/><rect x="122.5" y="254.0" width="0.8" height="0.8" fill="#22a2d8"/><rect x="123.0" y="254.0" width="3.3" height="0.8" fill="#1f47b5"/><rect x="126.0" y="254.0" width="2.3" height="0.8" fill="#1d1c78"/><rect x="119.5" y="254.5" width="1.8" height="0.8" fill="#1d1c78"/><rect x="121.0" y="254.5" width="0.8" height="0.8" fill="#1f47b5"/><rect x="121.5" y="254.5" width="0.8" height="0.8" fill="#1d1c78"/><rect x="122.0" y="254.5" width="1.8" height="0.8" fill="#1f47b5"/><rect x="123.5" y="254.5" width="0.8" height="0.8" fill="#22a2d8"/><rect x="124.0" y="254.5" width="1.3" height="0.8" fill="#1f47b5"/><rect x="125.0" y="254.5" width="2.3" height="0.8" fill="#1d1c78"/><rect x="119.5" y="255.0" width="2.3" height="0.8" fill="#1d1c78"/><rect x="121.5" y="255.0" width="1.3" height="0.8" fill="#1f47b5"/><rect x="122.5" y="255.0" width="0.8" height="0.8" fill="#1d1c78"/><rect x="123.0" y="255.0" width="1.3" height="0.8" fill="#1f47b5"/><rect x="124.0" y="255.0" width="0.8" height="0.8" fill="#1d1c78"/><rect x="124.5" y="255.0" width="0.8" height="0.8" fill="#1f47b5"/><rect x="125.0" y="255.0" width="2.3" height="0.8" fill="#1d1c78"/><rect x="120.0" y="255.5" width="0.8" height="0.8" fill="#1d1c78"/><rect x="121.0" y="255.5" width="2.3" height="0.8" fill="#1d1c78"/><rect x="123.0" y="255.5" width="0.8" height="0.8" fill="#1f47b5"/><rect x="123.5" y="255.5" width="3.8" height="0.8" fill="#1d1c78"/><rect x="120.0" y="256.0" width="0.8" height="0.8" fill="#1d1c78"/><rect x="121.0" y="256.0" width="2.8" height="0.8" fill="#1d1c78"/><rect x="123.5" y="256.0" width="0.8" height="0.8" fill="#1f47b5"/><rect x="124.0" y="256.0" width="0.8" height="0.8" fill="#1d1c78"/><rect x="124.5" y="256.0" width="0.8" height="0.8" fill="#1f47b5"/><rect x="125.0" y="256.0" width="1.8" height="0.8" fill="#1d1c78"/><rect x="121.0" y="256.5" width="0.8" height="0.8" fill="#1d1c78"/><rect x="122.0" y="256.5" width="4.3" height="0.8" fill="#1d1c78"/><rect x="121.0" y="257.0" width="4.3" height="0.8" fill="#1d1c78"/><rect x="125.5" y="257.0" width="0.8" height="0.8" fill="#1d1c78"/><rect x="121.5" y="257.5" width="0.8" height="0.8" fill="#1d1c78"/><rect x="122.5" y="257.5" width="2.8" height="0.8" fill="#1d1c78"/><rect x="124.0" y="258.0" width="0.8" height="0.8" fill="#1d1c78"/>
</g></g>
<rect x="78.4" y="208.6" width="34" height="14.6" fill="none" stroke="#6aa84f" stroke-width="1.1"/>
<rect x="114.2" y="208.4" width="18.4" height="13.5" fill="none" stroke="#3c4d8e" stroke-width="1.1"/>
<rect x="112" y="224.2" width="21.5" height="35" fill="none" stroke="#8e1f3e" stroke-width="1.1"/>
<text x="81.9" y="205.4" font-size="7.7" text-anchor="start" fill="#7ea866" stroke="#7ea866" stroke-width="0.12" font-weight="normal" textLength="25.9" lengthAdjust="spacingAndGlyphs" >Banded</text>
<text x="113.8" y="205.4" font-size="7.7" text-anchor="start" fill="#3a4870" stroke="#3a4870" stroke-width="0.15" font-weight="normal" textLength="38.7" lengthAdjust="spacingAndGlyphs" >Segmented</text>
<text x="112.2" y="269.3" font-size="7.8" text-anchor="start" fill="#9a2a48" stroke="#9a2a48" stroke-width="0.2" font-weight="normal" textLength="21.3" lengthAdjust="spacingAndGlyphs" >CD62L</text>
<text x="134.6" y="265.6" font-size="4.8" text-anchor="start" fill="#9a2a48" stroke="#9a2a48" stroke-width="0.15" font-weight="normal" textLength="9.5" lengthAdjust="spacingAndGlyphs" >dim</text>
<path d="M53.4 189 V288 H154" stroke="#111" stroke-width="1.4" fill="none"/>
<path d="M50.5 198.6 H53.4 M50.5 221 H53.4 M50.5 245 H53.4 M51.8 214.26 H53.4 M51.8 210.31 H53.4 M51.8 207.51 H53.4 M51.8 205.34 H53.4 M51.8 203.57 H53.4 M51.8 202.07 H53.4 M51.8 200.77 H53.4 M51.8 199.62 H53.4 M51.8 237.78 H53.4 M51.8 233.55 H53.4 M51.8 230.55 H53.4 M51.8 228.22 H53.4 M51.8 226.32 H53.4 M51.8 224.72 H53.4 M51.8 223.33 H53.4 M51.8 222.10 H53.4 " stroke="#111" stroke-width="0.9" fill="none"/>
<rect x="51" y="268" width="2.4" height="7.5" fill="#111"/>
<path d="M90.3 288 V290.5 M119.6 288 V290.5 M143.4 288 V290.5 M102.96 288 V289.8 M107.16 288 V289.8 M110.13 288 V289.8 M112.44 288 V289.8 M114.32 288 V289.8 M115.91 288 V289.8 M117.29 288 V289.8 M118.51 288 V289.8 M126.76 288 V289.8 M130.96 288 V289.8 M133.93 288 V289.8 M136.24 288 V289.8 M138.12 288 V289.8 M139.71 288 V289.8 M141.09 288 V289.8 M142.31 288 V289.8 M74 288 V290.5 M80 288 V290 M82 288 V290.5 M84 288 V290 M86.5 288 V290 " stroke="#111" stroke-width="0.9" fill="none"/>
<rect x="80.5" y="288" width="3" height="2.3" fill="#111"/>
<text x="46.2" y="200.4" font-size="5.2" text-anchor="end" fill="#333" stroke="#333" stroke-width="0.18" font-weight="normal" >10</text>
<text x="46.4" y="198.1" font-size="3.4" text-anchor="start" fill="#333" stroke="#333" stroke-width="0.1" font-weight="normal" >5</text>
<text x="46.2" y="222.8" font-size="5.2" text-anchor="end" fill="#333" stroke="#333" stroke-width="0.18" font-weight="normal" >10</text>
<text x="46.4" y="220.5" font-size="3.4" text-anchor="start" fill="#333" stroke="#333" stroke-width="0.1" font-weight="normal" >4</text>
<text x="46.2" y="246.8" font-size="5.2" text-anchor="end" fill="#333" stroke="#333" stroke-width="0.18" font-weight="normal" >10</text>
<text x="46.4" y="244.5" font-size="3.4" text-anchor="start" fill="#333" stroke="#333" stroke-width="0.1" font-weight="normal" >3</text>
<text x="46.2" y="267.8" font-size="5.2" text-anchor="end" fill="#333" stroke="#333" stroke-width="0.18" font-weight="normal" >10</text>
<text x="46.4" y="265.5" font-size="3.4" text-anchor="start" fill="#333" stroke="#333" stroke-width="0.1" font-weight="normal" >2</text>
<text x="46.2" y="276.6" font-size="5.2" text-anchor="end" fill="#333" stroke="#333" stroke-width="0.18" font-weight="normal" >-10</text>
<text x="46.4" y="274.3" font-size="3.4" text-anchor="start" fill="#333" stroke="#333" stroke-width="0.1" font-weight="normal" >2</text>
<text x="74.0" y="298.3" font-size="5" text-anchor="end" fill="#333" stroke="#333" stroke-width="0.15" font-weight="normal" >-10</text>
<text x="74.2" y="295.6" font-size="3.2" text-anchor="start" fill="#333" stroke="#333" stroke-width="0.1" font-weight="normal" >2</text>
<text x="90.8" y="298.3" font-size="5" text-anchor="end" fill="#333" stroke="#333" stroke-width="0.15" font-weight="normal" >10</text>
<text x="91.0" y="295.6" font-size="3.2" text-anchor="start" fill="#333" stroke="#333" stroke-width="0.1" font-weight="normal" >2</text>
<text x="118.4" y="298.3" font-size="5" text-anchor="end" fill="#333" stroke="#333" stroke-width="0.15" font-weight="normal" >10</text>
<text x="118.60000000000001" y="295.6" font-size="3.2" text-anchor="start" fill="#333" stroke="#333" stroke-width="0.1" font-weight="normal" >4</text>
<text x="144.1" y="298.3" font-size="5" text-anchor="end" fill="#333" stroke="#333" stroke-width="0.15" font-weight="normal" >10</text>
<text x="144.29999999999998" y="295.6" font-size="3.2" text-anchor="start" fill="#333" stroke="#333" stroke-width="0.1" font-weight="normal" >5</text>
<text x="92.8" y="310.7" font-size="10.4" text-anchor="start" fill="#151515" stroke="#151515" stroke-width="0.15" font-weight="normal" textLength="21.2" lengthAdjust="spacingAndGlyphs" >CD16</text>
<text transform="translate(30.3 252) rotate(-90)" font-size="9.7" class="tt" textLength="26.6" lengthAdjust="spacingAndGlyphs">CD62L</text>
<text x="171.5" y="184.0" font-size="12.2" text-anchor="start" fill="#111" stroke="#111" stroke-width="0.2" font-weight="bold" >D</text>
<rect x="220.2" y="211.00" width="18" height="0.00" fill="#6aab45"/>
<rect x="220.2" y="211.00" width="18" height="74.88" fill="#2f4f8c"/>
<rect x="220.2" y="285.88" width="18" height="2.32" fill="#b3123c"/>
<rect x="247.3" y="211.00" width="18" height="2.08" fill="#6aab45"/>
<rect x="247.3" y="213.08" width="18" height="71.64" fill="#2f4f8c"/>
<rect x="247.3" y="284.73" width="18" height="3.47" fill="#b3123c"/>
<rect x="274.1" y="211.00" width="18" height="23.16" fill="#6aab45"/>
<rect x="274.1" y="234.16" width="18" height="36.28" fill="#2f4f8c"/>
<rect x="274.1" y="270.44" width="18" height="17.76" fill="#b3123c"/>
<rect x="301" y="211.00" width="18" height="17.29" fill="#6aab45"/>
<rect x="301" y="228.29" width="18" height="41.38" fill="#2f4f8c"/>
<rect x="301" y="269.67" width="18" height="18.53" fill="#b3123c"/>
<path d="M224.7 210.3 H233.7 M256.3 211.00 V207.60 M251.8 207.60 H260.8 M283.1 211.00 V203.80 M278.6 203.80 H287.6 M310 211.00 V203.80 M305.5 203.80 H314.5 M283.1 234.16 V228.70 M278.6 228.70 H287.6 M310 228.29 V222.00 M305.5 222.00 H314.5 M283.1 270.44 V265.50 M278.6 265.50 H287.6 M310 269.67 V264.80 M305.5 264.80 H314.5 M225.2 285.6 H233.2 M252.3 284.3 H260.3 " stroke="#111" stroke-width="1.2" fill="none"/>
<circle cx="279.50" cy="198.40" r="1.25" fill="#111"/><circle cx="283.10" cy="198.40" r="1.25" fill="#111"/><circle cx="286.70" cy="198.40" r="1.25" fill="#111"/>
<circle cx="308.20" cy="198.40" r="1.25" fill="#111"/><circle cx="311.80" cy="198.40" r="1.25" fill="#111"/>
<circle cx="277.70" cy="222.80" r="1.25" fill="#111"/><circle cx="281.30" cy="222.80" r="1.25" fill="#111"/><circle cx="284.90" cy="222.80" r="1.25" fill="#111"/><circle cx="288.50" cy="222.80" r="1.25" fill="#111"/>
<circle cx="304.60" cy="217.20" r="1.25" fill="#111"/><circle cx="308.20" cy="217.20" r="1.25" fill="#111"/><circle cx="311.80" cy="217.20" r="1.25" fill="#111"/><circle cx="315.40" cy="217.20" r="1.25" fill="#111"/>
<circle cx="281.30" cy="259.90" r="1.25" fill="#111"/><circle cx="284.90" cy="259.90" r="1.25" fill="#111"/>
<circle cx="308.20" cy="259.30" r="1.25" fill="#111"/><circle cx="311.80" cy="259.30" r="1.25" fill="#111"/>
<path d="M215.7 199 V288.3 M212.6 288.3 H323" stroke="#111" stroke-width="1.4" fill="none"/>
<path d="M212.6 288.20 H215.7" stroke="#111" stroke-width="1.2"/>
<text x="210.3" y="291.05" font-size="7.9" text-anchor="end" fill="#151515" stroke="#151515" stroke-width="0.2" font-weight="normal" >0</text>
<path d="M212.6 268.90 H215.7" stroke="#111" stroke-width="1.2"/>
<text x="210.3" y="271.75" font-size="7.9" text-anchor="end" fill="#151515" stroke="#151515" stroke-width="0.2" font-weight="normal" >25</text>
<path d="M212.6 249.60 H215.7" stroke="#111" stroke-width="1.2"/>
<text x="210.3" y="252.45" font-size="7.9" text-anchor="end" fill="#151515" stroke="#151515" stroke-width="0.2" font-weight="normal" >50</text>
<path d="M212.6 230.30 H215.7" stroke="#111" stroke-width="1.2"/>
<text x="210.3" y="233.14999999999998" font-size="7.9" text-anchor="end" fill="#151515" stroke="#151515" stroke-width="0.2" font-weight="normal" >75</text>
<path d="M212.6 211.00 H215.7" stroke="#111" stroke-width="1.2"/>
<text x="210.3" y="213.85" font-size="7.9" text-anchor="end" fill="#151515" stroke="#151515" stroke-width="0.2" font-weight="normal" >100</text>
<path d="M229.2 288.3 V292" stroke="#111" stroke-width="1.2"/>
<text x="229.2" y="301.5" font-size="7.9" text-anchor="middle" fill="#151515" stroke="#151515" stroke-width="0.2" font-weight="normal" >0</text>
<path d="M256.3 288.3 V292" stroke="#111" stroke-width="1.2"/>
<text x="256.3" y="301.5" font-size="7.9" text-anchor="middle" fill="#151515" stroke="#151515" stroke-width="0.2" font-weight="normal" >1</text>
<path d="M283.1 288.3 V292" stroke="#111" stroke-width="1.2"/>
<text x="283.1" y="301.5" font-size="7.9" text-anchor="middle" fill="#151515" stroke="#151515" stroke-width="0.2" font-weight="normal" >3</text>
<path d="M310 288.3 V292" stroke="#111" stroke-width="1.2"/>
<text x="310" y="301.5" font-size="7.9" text-anchor="middle" fill="#151515" stroke="#151515" stroke-width="0.2" font-weight="normal" >6</text>
<text x="235" y="314.8" font-size="10.2" text-anchor="start" fill="#151515" stroke="#151515" stroke-width="0.18" font-weight="normal" textLength="69.6" lengthAdjust="spacingAndGlyphs" >Time (h post LPS)</text>
<text transform="translate(191.4 269.3) rotate(-90)" font-size="8.6" class="tt" textLength="52" lengthAdjust="spacingAndGlyphs">% neutrophils</text>
<rect x="327.8" y="213.20" width="10.2" height="5" fill="#6aab45"/>
<text x="341" y="218.5" font-size="7.6" text-anchor="start" fill="#151515" stroke="#151515" stroke-width="0.2" font-weight="normal" textLength="25.6" lengthAdjust="spacingAndGlyphs" >Banded</text>
<rect x="327.8" y="224.10" width="10.2" height="5" fill="#2f4f8c"/>
<text x="341" y="229.4" font-size="7.6" text-anchor="start" fill="#151515" stroke="#151515" stroke-width="0.2" font-weight="normal" textLength="38.4" lengthAdjust="spacingAndGlyphs" >Segmented</text>
<rect x="327.8" y="235.00" width="10.2" height="5" fill="#b3123c"/>
<text x="341" y="240.3" font-size="7.6" text-anchor="start" fill="#151515" stroke="#151515" stroke-width="0.2" font-weight="normal" textLength="23.2" lengthAdjust="spacingAndGlyphs" >CD62L</text>
<text x="365" y="236" font-size="4.6" text-anchor="start" fill="#151515" stroke="#151515" stroke-width="0.2" font-weight="normal" textLength="8" lengthAdjust="spacingAndGlyphs" >dim</text>
<text x="397.2" y="183.9" font-size="12.2" text-anchor="start" fill="#111" stroke="#111" stroke-width="0.2" font-weight="bold" >E</text>
<path d="M432.2 196.3 V287.7 M429 287.7 H513.3" stroke="#111" stroke-width="1.4" fill="none"/>
<path d="M429 287.70 H432.2" stroke="#111" stroke-width="1.2"/>
<text x="426" y="290.55" font-size="7.9" text-anchor="end" fill="#151515" stroke="#151515" stroke-width="0.2" font-weight="normal" >0</text>
<path d="M429 265.80 H432.2" stroke="#111" stroke-width="1.2"/>
<text x="426" y="268.65000000000003" font-size="7.9" text-anchor="end" fill="#151515" stroke="#151515" stroke-width="0.2" font-weight="normal" >1</text>
<path d="M429 243.90 H432.2" stroke="#111" stroke-width="1.2"/>
<text x="426" y="246.74999999999997" font-size="7.9" text-anchor="end" fill="#151515" stroke="#151515" stroke-width="0.2" font-weight="normal" >2</text>
<path d="M429 222.00 H432.2" stroke="#111" stroke-width="1.2"/>
<text x="426" y="224.85" font-size="7.9" text-anchor="end" fill="#151515" stroke="#151515" stroke-width="0.2" font-weight="normal" >3</text>
<path d="M429 200.10 H432.2" stroke="#111" stroke-width="1.2"/>
<text x="426" y="202.95" font-size="7.9" text-anchor="end" fill="#151515" stroke="#151515" stroke-width="0.2" font-weight="normal" >4</text>
<path d="M446 287.7 V291.3" stroke="#111" stroke-width="1.2"/>
<path d="M472.3 287.7 V291.3" stroke="#111" stroke-width="1.2"/>
<path d="M498.8 287.7 V291.3" stroke="#111" stroke-width="1.2"/>
<text transform="translate(417 276.3) rotate(-90)" font-size="9.4" class="tt" textLength="68" lengthAdjust="spacingAndGlyphs">Nuclear lobularity</text>
<g class="t">
<text transform="translate(448.7 298.6) rotate(-40)" font-size="7.7" text-anchor="end">Banded</text>
<text transform="translate(475.2 298.4) rotate(-40)" font-size="7.7" text-anchor="end">Segmented</text>
<g transform="translate(495.6 304.4) rotate(-40)"><text font-size="7.7" text-anchor="end">CD62L</text><text x="0.8" y="-3.8" font-size="5.6" style="stroke-width:0.12">dim</text></g>
</g>
<path d="M445.7 201 V198.2 H498.8 V201 M472.2 207.8 V205 H498.8 V207.8 M445.7 219.5 V216.7 H472.7 V219.5" stroke="#111" stroke-width="1.3" fill="none"/>
<circle cx="467.00" cy="195.60" r="1.25" fill="#111"/><circle cx="470.60" cy="195.60" r="1.25" fill="#111"/><circle cx="474.20" cy="195.60" r="1.25" fill="#111"/><circle cx="477.80" cy="195.60" r="1.25" fill="#111"/>
<circle cx="485.60" cy="202.80" r="1.25" fill="#111"/>
<circle cx="457.40" cy="213.30" r="1.25" fill="#111"/><circle cx="461.00" cy="213.30" r="1.25" fill="#111"/>
<circle cx="439" cy="254.3" r="1.85" fill="none" stroke="#6cae48" stroke-width="1.1"/>
<circle cx="441.9" cy="254.3" r="1.85" fill="none" stroke="#6cae48" stroke-width="1.1"/>
<circle cx="444.9" cy="254.3" r="1.85" fill="none" stroke="#6cae48" stroke-width="1.1"/>
<circle cx="448.2" cy="254.5" r="1.85" fill="none" stroke="#6cae48" stroke-width="1.1"/>
<circle cx="454.8" cy="254.6" r="1.85" fill="none" stroke="#6cae48" stroke-width="1.1"/>
<circle cx="452.9" cy="259.2" r="1.85" fill="none" stroke="#6cae48" stroke-width="1.1"/>
<circle cx="439" cy="261.2" r="1.85" fill="none" stroke="#6cae48" stroke-width="1.1"/>
<circle cx="443.6" cy="262.8" r="1.85" fill="none" stroke="#6cae48" stroke-width="1.1"/>
<circle cx="448.2" cy="261.6" r="1.85" fill="none" stroke="#6cae48" stroke-width="1.1"/>
<path d="M437.3 257.4 H451.9" stroke="#111" stroke-width="1.2"/>
<circle cx="472.4" cy="221.8" r="1.85" fill="none" stroke="#34508e" stroke-width="1.1"/>
<circle cx="469.7" cy="237.3" r="1.85" fill="none" stroke="#34508e" stroke-width="1.1"/>
<circle cx="475.5" cy="235.3" r="1.85" fill="none" stroke="#34508e" stroke-width="1.1"/>
<circle cx="466.8" cy="245.4" r="1.85" fill="none" stroke="#34508e" stroke-width="1.1"/>
<circle cx="472.4" cy="247.4" r="1.85" fill="none" stroke="#34508e" stroke-width="1.1"/>
<circle cx="472.4" cy="255.3" r="1.85" fill="none" stroke="#34508e" stroke-width="1.1"/>
<circle cx="478.9" cy="243.1" r="1.9" fill="#34508e"/>
<path d="M463.8 243.1 H481.6 M472.4 237 V248.5" stroke="#111" stroke-width="1.2"/>
<circle cx="499.2" cy="211.1" r="1.85" fill="none" stroke="#bb1a45" stroke-width="1.1"/>
<circle cx="493.8" cy="226.4" r="1.85" fill="none" stroke="#bb1a45" stroke-width="1.1"/>
<circle cx="498.5" cy="225" r="1.85" fill="none" stroke="#bb1a45" stroke-width="1.1"/>
<circle cx="505.3" cy="226" r="1.85" fill="none" stroke="#bb1a45" stroke-width="1.1"/>
<circle cx="498.5" cy="230.7" r="1.85" fill="none" stroke="#bb1a45" stroke-width="1.1"/>
<circle cx="496.5" cy="241.2" r="1.85" fill="none" stroke="#bb1a45" stroke-width="1.1"/>
<circle cx="501.9" cy="238.8" r="1.85" fill="none" stroke="#bb1a45" stroke-width="1.1"/>
<path d="M490.4 226.5 H508 M498.5 226.5 V240" stroke="#111" stroke-width="1.2"/>
<g shape-rendering="crispEdges">
<rect x="2.5" y="2.5" width="515" height="328" fill="none" stroke="#e4e4e4" stroke-width="1"/>
<rect x="1.5" y="1.5" width="517" height="330" fill="none" stroke="#6a6a6a" stroke-width="1"/>
<rect x="0.5" y="0.5" width="519" height="332" fill="none" stroke="#000" stroke-width="1"/>
</g>
</svg>
</body></html>
